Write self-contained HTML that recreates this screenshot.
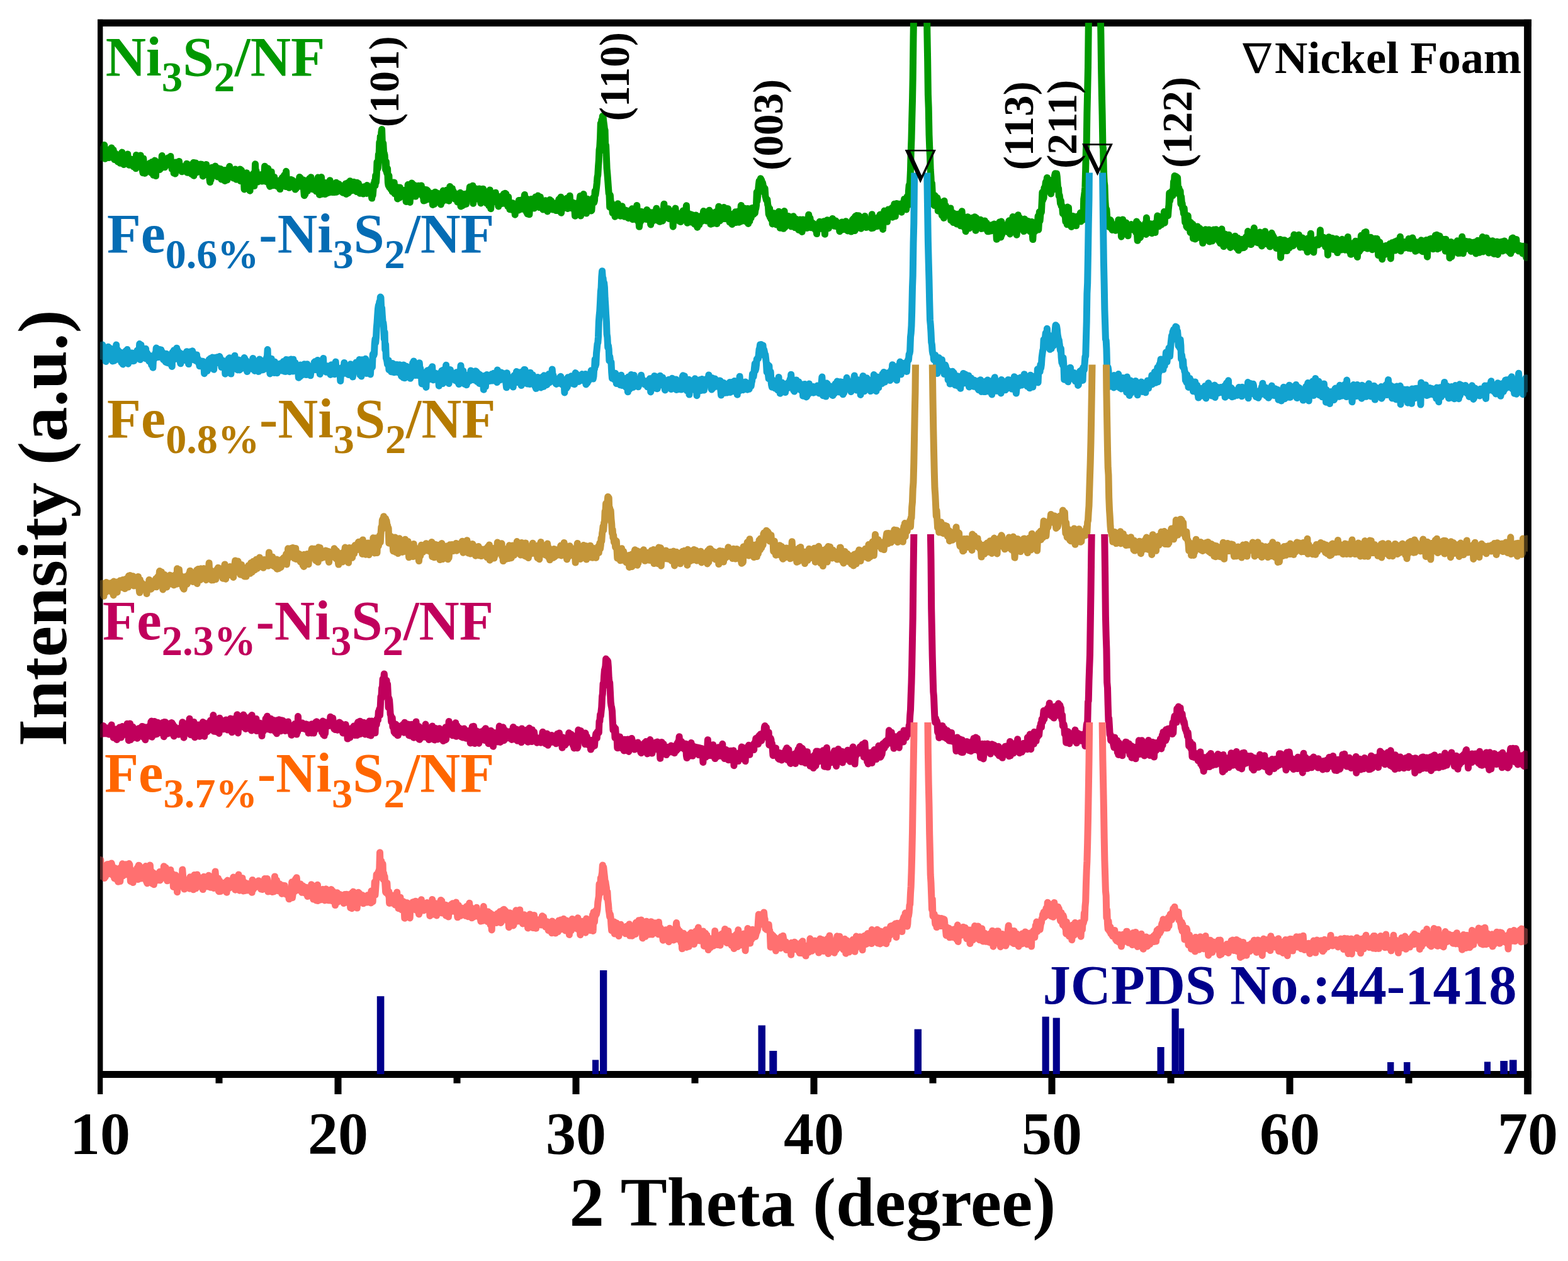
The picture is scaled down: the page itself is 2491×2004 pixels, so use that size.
<!DOCTYPE html><html><head><meta charset="utf-8"><title>XRD</title><style>html,body{margin:0;padding:0;background:#fff;overflow:hidden;}svg{display:block;}text{font-family:'Liberation Serif', serif;font-weight:bold;}</style></head><body>
<svg width="2491" height="2004" viewBox="0 0 2491 2004">
<rect width="2491" height="2004" fill="#fff"/>
<defs>
<clipPath id="c0"><rect x="159.0" y="36.2" width="2268.0" height="1671.3"/></clipPath>
<clipPath id="c1"><rect x="159.0" y="274.5" width="2268.0" height="1433.0"/></clipPath>
<clipPath id="c2"><rect x="159.0" y="579.5" width="2268.0" height="1128.0"/></clipPath>
<clipPath id="c3"><rect x="159.0" y="849.0" width="2268.0" height="858.5"/></clipPath>
<clipPath id="c4"><rect x="159.0" y="1148.0" width="2268.0" height="559.5"/></clipPath>
</defs>
<g fill="#000">
<rect x="155" y="30.8" width="8.3" height="1708.2"/>
<rect x="155" y="30.8" width="2278" height="11.3"/>
<rect x="2421.2" y="30.8" width="11.7" height="1708.4"/>
<rect x="155" y="1702" width="2278" height="11"/>
<rect x="531.5" y="1713" width="11" height="26"/>
<rect x="909.5" y="1713" width="11" height="26"/>
<rect x="1287.5" y="1713" width="11" height="26"/>
<rect x="1665.5" y="1713" width="11" height="26"/>
<rect x="2043.5" y="1713" width="11" height="26"/>
<rect x="342.5" y="1713" width="11" height="8.6"/>
<rect x="720.5" y="1713" width="11" height="8.6"/>
<rect x="1098.5" y="1713" width="11" height="8.6"/>
<rect x="1476.5" y="1713" width="11" height="8.6"/>
<rect x="1854.5" y="1713" width="11" height="8.6"/>
<rect x="2232.5" y="1713" width="11" height="8.6"/>
</g>
<g fill="#00008B">
<rect x="598.8" y="1583.2" width="11.6" height="123.8"/>
<rect x="941.0" y="1684.4" width="10.2" height="22.6"/>
<rect x="953.0" y="1542.0" width="11.3" height="165.0"/>
<rect x="1204.5" y="1629.5" width="11.5" height="77.5"/>
<rect x="1222.3" y="1670.0" width="12.0" height="37.0"/>
<rect x="1452.6" y="1635.6" width="11.4" height="71.4"/>
<rect x="1655.6" y="1615.7" width="11.1" height="91.3"/>
<rect x="1672.7" y="1617.6" width="11.1" height="89.4"/>
<rect x="1838.5" y="1664.0" width="11.1" height="43.0"/>
<rect x="1861.5" y="1602.8" width="11.2" height="104.2"/>
<rect x="1872.7" y="1634.3" width="8.5" height="72.7"/>
<rect x="2204.0" y="1688.0" width="10.4" height="19.0"/>
<rect x="2230.0" y="1688.0" width="10.4" height="19.0"/>
<rect x="2358.0" y="1687.4" width="10.0" height="19.6"/>
<rect x="2383.3" y="1686.0" width="11.7" height="21.0"/>
<rect x="2398.0" y="1684.4" width="11.6" height="22.6"/>
</g>
<polyline clip-path="url(#c0)" fill="none" stroke="#009A00" stroke-width="11" stroke-linejoin="round" stroke-linecap="butt" points="159.0,242.2 159.8,249.9 160.5,248.6 161.3,237.5 162.0,238.7 162.8,237.3 163.5,244.3 164.3,240.7 165.0,246.1 165.8,230.5 166.6,252.2 167.3,242.5 168.1,247.8 168.8,243.3 169.6,242.2 170.3,247.9 171.1,250.5 171.9,244.5 172.6,245.1 173.4,250.5 174.1,241.0 174.9,237.2 175.6,249.2 176.4,242.7 177.1,235.1 177.9,242.1 178.7,244.4 179.4,240.0 180.2,238.3 180.9,248.0 181.7,253.5 182.4,246.7 183.2,243.8 183.9,251.2 184.7,253.6 185.5,247.7 186.2,253.3 187.0,256.9 187.7,249.6 188.5,246.3 189.2,253.9 190.0,253.7 190.8,259.3 191.5,244.7 192.3,248.7 193.0,247.7 193.8,242.1 194.5,253.7 195.3,256.2 196.0,248.3 196.8,261.6 197.6,258.2 198.3,257.3 199.1,256.2 199.8,260.0 200.6,246.3 201.3,258.8 202.1,259.3 202.8,245.1 203.6,258.7 204.4,255.5 205.1,262.3 205.9,255.1 206.6,258.0 207.4,260.4 208.1,253.0 208.9,262.2 209.7,257.8 210.4,261.5 211.2,255.0 211.9,264.8 212.7,261.6 213.4,256.5 214.2,261.2 214.9,264.7 215.7,267.7 216.5,246.4 217.2,261.3 218.0,258.5 218.7,254.8 219.5,249.0 220.2,263.0 221.0,247.6 221.7,259.3 222.5,264.4 223.3,247.1 224.0,256.0 224.8,250.7 225.5,261.4 226.3,270.4 227.0,274.7 227.8,252.1 228.6,260.5 229.3,269.3 230.1,275.4 230.8,268.7 231.6,261.8 232.3,268.5 233.1,266.8 233.8,265.7 234.6,262.5 235.4,269.5 236.1,269.1 236.9,266.6 237.6,265.8 238.4,259.2 239.1,264.1 239.9,274.4 240.6,265.5 241.4,257.5 242.2,274.3 242.9,268.9 243.7,278.3 244.4,265.2 245.2,261.6 245.9,255.1 246.7,272.0 247.5,279.6 248.2,258.4 249.0,259.4 249.7,267.1 250.5,258.2 251.2,261.6 252.0,261.0 252.7,264.2 253.5,269.6 254.3,262.7 255.0,267.9 255.8,259.1 256.5,263.3 257.3,247.5 258.0,251.2 258.8,264.5 259.5,255.3 260.3,262.0 261.1,261.3 261.8,265.7 262.6,262.3 263.3,263.4 264.1,256.3 264.8,252.7 265.6,252.7 266.4,254.4 267.1,250.8 267.9,254.9 268.6,258.2 269.4,260.9 270.1,257.9 270.9,248.6 271.6,260.6 272.4,263.0 273.2,268.7 273.9,265.9 274.7,258.6 275.4,258.3 276.2,275.3 276.9,267.6 277.7,274.3 278.4,276.1 279.2,257.9 280.0,265.5 280.7,266.2 281.5,267.2 282.2,267.5 283.0,265.9 283.7,266.3 284.5,256.5 285.3,265.3 286.0,262.2 286.8,268.0 287.5,264.6 288.3,271.5 289.0,272.8 289.8,269.6 290.5,269.5 291.3,268.1 292.1,264.7 292.8,266.5 293.6,264.5 294.3,270.1 295.1,268.0 295.8,271.8 296.6,260.2 297.3,274.2 298.1,264.1 298.9,264.4 299.6,267.8 300.4,265.5 301.1,270.8 301.9,265.3 302.6,262.1 303.4,263.3 304.2,276.6 304.9,268.6 305.7,261.0 306.4,268.3 307.2,258.6 307.9,279.3 308.7,258.8 309.4,271.2 310.2,271.5 311.0,259.1 311.7,269.8 312.5,274.0 313.2,270.5 314.0,269.0 314.7,273.0 315.5,267.9 316.2,268.9 317.0,265.9 317.8,270.6 318.5,261.0 319.3,272.0 320.0,264.4 320.8,261.3 321.5,270.9 322.3,279.9 323.1,276.2 323.8,267.9 324.6,276.4 325.3,270.2 326.1,273.2 326.8,275.5 327.6,261.4 328.3,277.8 329.1,271.0 329.9,273.7 330.6,269.3 331.4,269.5 332.1,273.3 332.9,284.4 333.6,289.6 334.4,278.9 335.1,285.6 335.9,276.8 336.7,266.2 337.4,278.4 338.2,279.7 338.9,273.6 339.7,277.4 340.4,278.3 341.2,268.6 342.0,264.1 342.7,271.1 343.5,270.5 344.2,269.0 345.0,276.8 345.7,281.0 346.5,267.4 347.2,274.2 348.0,275.8 348.8,274.6 349.5,277.0 350.3,268.6 351.0,276.2 351.8,284.9 352.5,278.2 353.3,270.2 354.0,278.7 354.8,283.7 355.6,278.9 356.3,273.9 357.1,287.5 357.8,270.6 358.6,281.7 359.3,278.6 360.1,271.2 360.9,285.9 361.6,280.1 362.4,270.3 363.1,280.9 363.9,274.1 364.6,264.6 365.4,271.8 366.1,277.5 366.9,279.7 367.7,276.7 368.4,275.9 369.2,278.5 369.9,274.3 370.7,282.9 371.4,276.5 372.2,277.4 372.9,278.9 373.7,269.0 374.5,271.2 375.2,285.2 376.0,277.9 376.7,274.3 377.5,278.5 378.2,273.7 379.0,278.9 379.8,273.5 380.5,279.9 381.3,269.0 382.0,287.6 382.8,276.7 383.5,270.6 384.3,279.6 385.0,279.2 385.8,283.0 386.6,275.5 387.3,285.5 388.1,301.0 388.8,276.2 389.6,286.8 390.3,283.3 391.1,286.9 391.8,274.8 392.6,279.3 393.4,289.5 394.1,286.5 394.9,296.8 395.6,282.2 396.4,287.3 397.1,303.2 397.9,280.5 398.7,279.0 399.4,283.7 400.2,282.8 400.9,287.5 401.7,282.2 402.4,275.9 403.2,281.1 403.9,295.5 404.7,286.4 405.5,260.7 406.2,276.7 407.0,271.8 407.7,280.9 408.5,275.9 409.2,289.0 410.0,282.9 410.7,282.9 411.5,278.9 412.3,277.8 413.0,280.6 413.8,286.9 414.5,282.6 415.3,277.5 416.0,288.0 416.8,281.6 417.6,280.2 418.3,276.0 419.1,277.6 419.8,277.4 420.6,264.2 421.3,288.0 422.1,285.4 422.8,280.8 423.6,288.8 424.4,285.3 425.1,285.2 425.9,267.8 426.6,282.1 427.4,287.3 428.1,294.4 428.9,296.3 429.6,294.3 430.4,278.9 431.2,273.1 431.9,290.9 432.7,288.3 433.4,294.8 434.2,288.7 434.9,291.5 435.7,281.5 436.5,294.1 437.2,289.0 438.0,294.3 438.7,295.2 439.5,291.8 440.2,294.4 441.0,292.2 441.7,296.7 442.5,294.7 443.3,287.7 444.0,286.8 444.8,300.6 445.5,288.5 446.3,294.6 447.0,290.3 447.8,283.8 448.5,282.2 449.3,287.2 450.1,287.9 450.8,290.0 451.6,278.3 452.3,282.6 453.1,285.8 453.8,296.6 454.6,272.3 455.4,289.9 456.1,284.1 456.9,290.4 457.6,285.0 458.4,290.6 459.1,298.3 459.9,291.1 460.6,292.0 461.4,292.0 462.2,285.4 462.9,293.9 463.7,289.6 464.4,286.3 465.2,291.4 465.9,290.5 466.7,296.7 467.4,291.8 468.2,288.8 469.0,301.0 469.7,297.9 470.5,299.4 471.2,295.0 472.0,290.3 472.7,288.2 473.5,288.9 474.3,296.4 475.0,291.2 475.8,281.5 476.5,290.9 477.3,282.9 478.0,293.3 478.8,285.6 479.5,286.1 480.3,295.5 481.1,295.1 481.8,286.0 482.6,301.5 483.3,310.7 484.1,288.3 484.8,308.8 485.6,293.1 486.3,293.9 487.1,295.4 487.9,287.0 488.6,303.4 489.4,297.8 490.1,289.5 490.9,291.9 491.6,283.8 492.4,290.6 493.2,298.3 493.9,281.7 494.7,289.5 495.4,293.1 496.2,298.7 496.9,300.7 497.7,289.6 498.4,288.0 499.2,295.6 500.0,290.7 500.7,291.2 501.5,300.0 502.2,303.9 503.0,295.1 503.7,292.4 504.5,297.2 505.2,282.1 506.0,293.9 506.8,287.7 507.5,309.5 508.3,299.6 509.0,296.6 509.8,295.1 510.5,281.4 511.3,302.0 512.1,308.3 512.8,294.2 513.6,303.5 514.3,304.1 515.1,290.3 515.8,305.9 516.6,308.6 517.3,301.7 518.1,299.9 518.9,305.1 519.6,290.6 520.4,300.7 521.1,306.5 521.9,292.2 522.6,306.0 523.4,297.1 524.1,286.7 524.9,298.9 525.7,293.4 526.4,301.3 527.2,292.0 527.9,305.6 528.7,294.4 529.4,301.0 530.2,294.9 531.0,296.4 531.7,305.6 532.5,299.4 533.2,295.5 534.0,290.2 534.7,305.2 535.5,302.6 536.2,296.2 537.0,299.9 537.8,292.2 538.5,292.5 539.3,293.9 540.0,301.4 540.8,301.2 541.5,294.9 542.3,304.2 543.0,304.5 543.8,300.8 544.6,306.2 545.3,298.0 546.1,299.1 546.8,302.7 547.6,299.6 548.3,304.7 549.1,291.9 549.9,308.5 550.6,294.7 551.4,298.4 552.1,290.7 552.9,302.7 553.6,306.5 554.4,304.9 555.1,303.0 555.9,287.8 556.7,292.1 557.4,293.7 558.2,290.3 558.9,302.7 559.7,296.6 560.4,295.1 561.2,298.1 561.9,289.2 562.7,289.7 563.5,290.2 564.2,299.2 565.0,298.8 565.7,300.9 566.5,304.6 567.2,290.2 568.0,295.7 568.8,300.6 569.5,291.8 570.3,297.1 571.0,306.7 571.8,307.3 572.5,307.0 573.3,300.4 574.0,298.6 574.8,306.4 575.6,297.3 576.3,301.8 577.1,308.1 577.8,297.8 578.6,296.8 579.3,301.0 580.1,305.5 580.8,305.5 581.6,304.2 582.4,307.4 583.1,294.6 583.9,299.8 584.6,306.6 585.4,300.2 586.1,297.9 586.9,298.8 587.7,300.6 588.4,305.0 589.2,299.4 589.9,306.7 590.7,315.1 591.4,302.7 592.2,310.3 592.9,302.6 593.7,291.9 594.5,294.8 595.2,287.3 596.0,294.7 596.7,278.7 597.5,289.3 598.2,279.4 599.0,257.5 599.7,268.6 600.5,266.7 601.3,245.4 602.0,249.7 602.8,226.1 603.5,233.0 604.3,216.5 605.0,226.5 605.8,210.7 606.6,205.6 607.3,226.3 608.1,241.3 608.8,228.0 609.6,242.1 610.3,243.4 611.1,246.5 611.8,258.1 612.6,269.9 613.4,257.2 614.1,272.9 614.9,275.6 615.6,268.2 616.4,290.1 617.1,294.8 617.9,279.0 618.6,297.6 619.4,288.9 620.2,289.0 620.9,300.7 621.7,294.0 622.4,295.8 623.2,304.4 623.9,304.2 624.7,303.0 625.5,290.0 626.2,290.1 627.0,308.0 627.7,296.4 628.5,304.1 629.2,297.4 630.0,303.7 630.7,297.5 631.5,316.0 632.3,299.9 633.0,305.7 633.8,305.5 634.5,314.2 635.3,298.0 636.0,306.6 636.8,305.5 637.5,310.0 638.3,309.6 639.1,303.7 639.8,308.0 640.6,304.2 641.3,309.3 642.1,305.8 642.8,302.3 643.6,306.2 644.4,308.6 645.1,320.4 645.9,303.3 646.6,308.2 647.4,315.4 648.1,293.5 648.9,295.6 649.6,299.0 650.4,305.7 651.2,321.5 651.9,308.8 652.7,313.8 653.4,304.9 654.2,290.9 654.9,291.6 655.7,312.0 656.4,306.5 657.2,296.9 658.0,311.4 658.7,294.5 659.5,310.5 660.2,312.1 661.0,297.9 661.7,295.5 662.5,307.5 663.3,295.4 664.0,307.7 664.8,295.3 665.5,308.2 666.3,304.4 667.0,301.8 667.8,299.6 668.5,307.4 669.3,294.9 670.1,305.5 670.8,305.3 671.6,312.4 672.3,300.6 673.1,319.1 673.8,306.6 674.6,301.3 675.3,316.7 676.1,318.2 676.9,306.4 677.6,301.8 678.4,307.2 679.1,302.6 679.9,304.9 680.6,316.5 681.4,309.4 682.2,308.1 682.9,309.7 683.7,307.6 684.4,313.7 685.2,314.4 685.9,307.2 686.7,310.7 687.4,325.5 688.2,313.6 689.0,310.3 689.7,324.4 690.5,312.0 691.2,305.3 692.0,316.3 692.7,306.6 693.5,309.1 694.2,314.1 695.0,311.3 695.8,307.3 696.5,308.7 697.3,308.4 698.0,319.4 698.8,307.8 699.5,308.8 700.3,325.0 701.1,309.0 701.8,321.6 702.6,320.5 703.3,311.2 704.1,303.1 704.8,314.4 705.6,315.3 706.3,316.7 707.1,310.7 707.9,317.2 708.6,317.9 709.4,302.3 710.1,317.3 710.9,309.1 711.6,304.3 712.4,305.6 713.1,319.2 713.9,313.6 714.7,296.5 715.4,308.2 716.2,307.0 716.9,307.1 717.7,305.3 718.4,299.8 719.2,314.6 720.0,303.8 720.7,307.9 721.5,307.0 722.2,306.8 723.0,316.6 723.7,315.0 724.5,309.0 725.2,308.0 726.0,311.5 726.8,321.0 727.5,316.3 728.3,317.5 729.0,314.5 729.8,315.4 730.5,318.7 731.3,306.3 732.0,328.0 732.8,313.4 733.6,315.0 734.3,326.9 735.1,320.1 735.8,318.9 736.6,314.9 737.3,308.6 738.1,319.0 738.9,324.7 739.6,311.1 740.4,324.3 741.1,308.0 741.9,309.5 742.6,316.2 743.4,312.0 744.1,315.3 744.9,305.5 745.7,303.0 746.4,297.1 747.2,300.7 747.9,301.1 748.7,298.7 749.4,309.4 750.2,303.4 750.9,295.3 751.7,323.3 752.5,302.9 753.2,300.6 754.0,316.2 754.7,316.0 755.5,301.7 756.2,299.8 757.0,302.7 757.8,315.9 758.5,306.8 759.3,303.7 760.0,308.4 760.8,316.0 761.5,300.0 762.3,306.4 763.0,300.5 763.8,322.9 764.6,321.2 765.3,316.5 766.1,310.6 766.8,316.4 767.6,300.2 768.3,315.9 769.1,306.9 769.8,307.9 770.6,312.6 771.4,315.6 772.1,321.9 772.9,323.2 773.6,320.9 774.4,313.7 775.1,323.9 775.9,319.0 776.7,326.9 777.4,313.7 778.2,302.0 778.9,315.8 779.7,331.7 780.4,320.8 781.2,316.1 781.9,322.2 782.7,319.3 783.5,318.4 784.2,311.8 785.0,314.9 785.7,315.2 786.5,309.6 787.2,306.2 788.0,313.7 788.7,318.6 789.5,316.4 790.3,315.3 791.0,315.2 791.8,328.0 792.5,313.5 793.3,318.4 794.0,324.1 794.8,312.4 795.6,313.9 796.3,319.1 797.1,323.5 797.8,315.5 798.6,316.4 799.3,315.5 800.1,308.2 800.8,323.3 801.6,315.6 802.4,307.3 803.1,317.7 803.9,308.6 804.6,313.7 805.4,320.6 806.1,315.3 806.9,328.2 807.6,312.9 808.4,324.2 809.2,326.6 809.9,332.8 810.7,330.0 811.4,326.3 812.2,325.9 812.9,325.6 813.7,333.4 814.5,322.7 815.2,330.3 816.0,326.8 816.7,329.1 817.5,326.2 818.2,341.2 819.0,324.0 819.7,329.8 820.5,330.0 821.3,332.1 822.0,331.1 822.8,330.9 823.5,334.1 824.3,318.4 825.0,327.4 825.8,319.1 826.5,327.6 827.3,318.2 828.1,318.9 828.8,323.8 829.6,332.3 830.3,326.7 831.1,324.6 831.8,331.2 832.6,316.6 833.4,309.5 834.1,320.0 834.9,321.3 835.6,331.0 836.4,337.1 837.1,316.0 837.9,340.1 838.6,334.8 839.4,330.6 840.2,327.9 840.9,340.8 841.7,326.3 842.4,322.7 843.2,326.3 843.9,316.6 844.7,327.6 845.4,323.6 846.2,325.9 847.0,325.7 847.7,316.5 848.5,331.0 849.2,316.5 850.0,328.3 850.7,313.0 851.5,325.4 852.3,318.3 853.0,324.1 853.8,320.2 854.5,311.1 855.3,318.1 856.0,325.8 856.8,329.6 857.5,316.9 858.3,313.1 859.1,321.0 859.8,325.3 860.6,322.8 861.3,321.8 862.1,332.2 862.8,333.1 863.6,331.8 864.3,321.5 865.1,327.9 865.9,326.3 866.6,318.7 867.4,333.0 868.1,328.1 868.9,324.4 869.6,336.0 870.4,331.7 871.2,331.9 871.9,333.7 872.7,330.2 873.4,317.5 874.2,322.6 874.9,330.8 875.7,319.5 876.4,324.3 877.2,326.5 878.0,333.0 878.7,332.2 879.5,330.0 880.2,323.5 881.0,330.7 881.7,328.7 882.5,324.8 883.2,334.6 884.0,329.5 884.8,321.9 885.5,334.5 886.3,325.0 887.0,330.1 887.8,316.8 888.5,325.8 889.3,319.8 890.1,319.4 890.8,313.3 891.6,338.3 892.3,324.0 893.1,326.3 893.8,331.8 894.6,324.3 895.3,328.4 896.1,317.0 896.9,326.8 897.6,323.3 898.4,329.1 899.1,327.4 899.9,317.8 900.6,315.1 901.4,320.5 902.1,331.5 902.9,329.8 903.7,329.9 904.4,315.1 905.2,311.2 905.9,324.2 906.7,326.3 907.4,324.8 908.2,330.9 909.0,327.8 909.7,321.7 910.5,323.6 911.2,330.0 912.0,329.6 912.7,328.7 913.5,343.2 914.2,327.5 915.0,329.9 915.8,323.0 916.5,327.0 917.3,332.5 918.0,332.8 918.8,328.3 919.5,331.7 920.3,329.5 921.0,317.4 921.8,311.5 922.6,342.9 923.3,333.4 924.1,327.5 924.8,316.6 925.6,318.9 926.3,334.7 927.1,308.5 927.9,323.2 928.6,330.2 929.4,325.4 930.1,329.0 930.9,323.4 931.6,339.1 932.4,318.1 933.1,316.2 933.9,326.7 934.7,334.2 935.4,325.2 936.2,332.3 936.9,322.6 937.7,318.5 938.4,334.4 939.2,335.1 939.9,334.3 940.7,321.4 941.5,315.9 942.2,314.6 943.0,318.8 943.7,321.8 944.5,318.7 945.2,303.5 946.0,309.6 946.8,303.7 947.5,298.3 948.3,290.8 949.0,281.8 949.8,277.8 950.5,265.1 951.3,255.0 952.0,238.1 952.8,233.4 953.6,218.9 954.3,195.9 955.1,202.6 955.8,190.5 956.6,193.1 957.3,184.5 958.1,186.2 958.8,192.6 959.6,198.3 960.4,204.8 961.1,207.0 961.9,240.9 962.6,231.3 963.4,250.5 964.1,267.7 964.9,276.4 965.7,287.1 966.4,296.9 967.2,307.5 967.9,308.1 968.7,329.3 969.4,310.4 970.2,322.0 970.9,321.5 971.7,322.8 972.5,329.8 973.2,338.5 974.0,326.1 974.7,326.8 975.5,336.1 976.2,335.3 977.0,344.2 977.7,338.5 978.5,333.6 979.3,330.1 980.0,333.5 980.8,331.1 981.5,323.8 982.3,332.3 983.0,331.3 983.8,331.0 984.6,329.9 985.3,343.2 986.1,337.2 986.8,339.0 987.6,329.9 988.3,327.8 989.1,333.1 989.8,337.1 990.6,334.3 991.4,336.2 992.1,344.2 992.9,341.1 993.6,334.0 994.4,338.2 995.1,337.4 995.9,343.1 996.6,335.1 997.4,341.3 998.2,346.7 998.9,342.4 999.7,336.2 1000.4,337.7 1001.2,341.9 1001.9,343.7 1002.7,345.6 1003.5,339.2 1004.2,331.8 1005.0,348.8 1005.7,341.9 1006.5,342.8 1007.2,342.6 1008.0,334.7 1008.7,339.7 1009.5,343.8 1010.3,349.1 1011.0,343.6 1011.8,326.4 1012.5,342.6 1013.3,346.6 1014.0,352.7 1014.8,349.2 1015.5,360.3 1016.3,353.7 1017.1,353.2 1017.8,350.7 1018.6,336.2 1019.3,350.0 1020.1,348.4 1020.8,341.4 1021.6,348.3 1022.4,347.3 1023.1,341.9 1023.9,344.0 1024.6,343.2 1025.4,346.3 1026.1,342.4 1026.9,348.6 1027.6,333.5 1028.4,343.8 1029.2,335.4 1029.9,343.1 1030.7,349.5 1031.4,346.7 1032.2,346.1 1032.9,347.4 1033.7,356.9 1034.4,340.3 1035.2,352.7 1036.0,337.7 1036.7,344.0 1037.5,347.7 1038.2,341.0 1039.0,347.2 1039.7,350.0 1040.5,337.6 1041.3,343.9 1042.0,341.5 1042.8,331.2 1043.5,341.5 1044.3,337.2 1045.0,349.9 1045.8,335.8 1046.5,351.4 1047.3,337.2 1048.1,352.3 1048.8,343.5 1049.6,342.9 1050.3,345.0 1051.1,345.7 1051.8,348.8 1052.6,351.0 1053.3,338.3 1054.1,332.9 1054.9,324.3 1055.6,338.7 1056.4,346.1 1057.1,344.0 1057.9,342.6 1058.6,339.9 1059.4,338.3 1060.2,340.7 1060.9,345.0 1061.7,331.8 1062.4,347.4 1063.2,334.1 1063.9,342.3 1064.7,339.5 1065.4,341.4 1066.2,337.5 1067.0,337.1 1067.7,343.0 1068.5,338.0 1069.2,360.2 1070.0,342.6 1070.7,341.4 1071.5,342.3 1072.2,339.4 1073.0,331.1 1073.8,345.1 1074.5,348.9 1075.3,338.1 1076.0,347.8 1076.8,340.5 1077.5,348.0 1078.3,350.6 1079.1,351.3 1079.8,350.8 1080.6,343.3 1081.3,352.5 1082.1,343.6 1082.8,347.7 1083.6,349.0 1084.3,341.8 1085.1,334.9 1085.9,345.9 1086.6,334.6 1087.4,335.5 1088.1,333.8 1088.9,345.7 1089.6,339.5 1090.4,326.8 1091.1,345.6 1091.9,354.3 1092.7,353.3 1093.4,339.3 1094.2,344.2 1094.9,347.7 1095.7,351.1 1096.4,346.7 1097.2,340.6 1098.0,353.0 1098.7,352.9 1099.5,341.6 1100.2,348.1 1101.0,352.5 1101.7,351.1 1102.5,354.5 1103.2,356.1 1104.0,354.3 1104.8,350.0 1105.5,341.9 1106.3,353.7 1107.0,358.1 1107.8,361.2 1108.5,348.4 1109.3,348.1 1110.0,357.1 1110.8,357.0 1111.6,350.2 1112.3,352.6 1113.1,343.6 1113.8,352.2 1114.6,343.6 1115.3,347.9 1116.1,348.1 1116.9,345.9 1117.6,335.6 1118.4,343.3 1119.1,350.2 1119.9,347.4 1120.6,344.9 1121.4,349.5 1122.1,350.6 1122.9,351.1 1123.7,340.3 1124.4,344.9 1125.2,342.2 1125.9,338.4 1126.7,334.2 1127.4,342.6 1128.2,337.6 1128.9,356.3 1129.7,342.3 1130.5,341.7 1131.2,340.9 1132.0,355.3 1132.7,338.2 1133.5,343.4 1134.2,339.9 1135.0,344.3 1135.8,345.1 1136.5,352.3 1137.3,336.8 1138.0,345.4 1138.8,355.5 1139.5,342.1 1140.3,344.0 1141.0,339.3 1141.8,328.2 1142.6,343.5 1143.3,351.1 1144.1,340.5 1144.8,331.6 1145.6,344.3 1146.3,342.7 1147.1,348.0 1147.8,347.1 1148.6,339.4 1149.4,343.3 1150.1,329.4 1150.9,347.4 1151.6,341.7 1152.4,347.5 1153.1,347.8 1153.9,340.0 1154.7,341.6 1155.4,338.0 1156.2,331.6 1156.9,344.7 1157.7,347.6 1158.4,341.0 1159.2,353.2 1159.9,350.3 1160.7,353.3 1161.5,346.3 1162.2,340.6 1163.0,356.5 1163.7,355.6 1164.5,350.9 1165.2,348.7 1166.0,349.2 1166.7,349.5 1167.5,346.7 1168.3,336.7 1169.0,353.5 1169.8,338.7 1170.5,345.4 1171.3,345.1 1172.0,348.1 1172.8,336.1 1173.6,353.2 1174.3,349.4 1175.1,349.7 1175.8,352.4 1176.6,339.2 1177.3,326.5 1178.1,345.5 1178.8,351.2 1179.6,350.0 1180.4,339.3 1181.1,341.9 1181.9,344.1 1182.6,331.1 1183.4,338.1 1184.1,338.3 1184.9,352.0 1185.6,338.1 1186.4,351.8 1187.2,342.1 1187.9,331.4 1188.7,355.4 1189.4,335.4 1190.2,344.9 1190.9,351.4 1191.7,337.1 1192.5,332.4 1193.2,346.0 1194.0,339.3 1194.7,330.6 1195.5,330.5 1196.2,333.7 1197.0,340.6 1197.7,331.0 1198.5,334.7 1199.3,338.5 1200.0,333.3 1200.8,331.2 1201.5,326.5 1202.3,305.3 1203.0,319.1 1203.8,309.8 1204.5,303.3 1205.3,293.9 1206.1,287.6 1206.8,287.8 1207.6,292.4 1208.3,283.8 1209.1,285.2 1209.8,286.4 1210.6,295.0 1211.4,290.4 1212.1,293.3 1212.9,304.9 1213.6,297.6 1214.4,306.5 1215.1,299.7 1215.9,311.8 1216.6,314.1 1217.4,318.0 1218.2,317.6 1218.9,317.6 1219.7,325.4 1220.4,327.6 1221.2,340.0 1221.9,342.1 1222.7,331.7 1223.4,345.5 1224.2,340.9 1225.0,348.6 1225.7,344.4 1226.5,339.5 1227.2,355.9 1228.0,353.0 1228.7,342.9 1229.5,338.8 1230.3,347.0 1231.0,342.5 1231.8,347.0 1232.5,352.5 1233.3,357.1 1234.0,345.2 1234.8,355.5 1235.5,353.9 1236.3,343.8 1237.1,336.2 1237.8,352.1 1238.6,350.9 1239.3,362.3 1240.1,357.3 1240.8,354.0 1241.6,360.4 1242.3,344.2 1243.1,352.6 1243.9,350.3 1244.6,363.3 1245.4,356.3 1246.1,335.6 1246.9,361.4 1247.6,347.1 1248.4,357.1 1249.2,348.8 1249.9,352.7 1250.7,354.5 1251.4,351.1 1252.2,343.4 1252.9,357.4 1253.7,350.8 1254.4,348.0 1255.2,352.3 1256.0,344.7 1256.7,359.9 1257.5,350.0 1258.2,351.4 1259.0,351.8 1259.7,344.7 1260.5,343.8 1261.2,353.1 1262.0,354.7 1262.8,361.6 1263.5,356.8 1264.3,348.0 1265.0,358.7 1265.8,361.2 1266.5,362.9 1267.3,359.3 1268.1,350.2 1268.8,365.4 1269.6,353.9 1270.3,362.2 1271.1,349.0 1271.8,363.4 1272.6,353.5 1273.3,364.7 1274.1,368.4 1274.9,364.1 1275.6,348.9 1276.4,349.5 1277.1,349.2 1277.9,357.9 1278.6,355.3 1279.4,353.6 1280.1,354.2 1280.9,355.6 1281.7,355.9 1282.4,362.4 1283.2,351.7 1283.9,353.6 1284.7,341.2 1285.4,344.9 1286.2,349.3 1287.0,346.8 1287.7,356.1 1288.5,361.8 1289.2,353.3 1290.0,353.7 1290.7,354.2 1291.5,358.9 1292.2,355.4 1293.0,362.0 1293.8,361.8 1294.5,362.5 1295.3,365.4 1296.0,361.0 1296.8,361.7 1297.5,371.5 1298.3,360.0 1299.0,364.7 1299.8,359.6 1300.6,355.8 1301.3,355.2 1302.1,352.3 1302.8,357.0 1303.6,352.7 1304.3,353.4 1305.1,363.3 1305.9,354.8 1306.6,362.6 1307.4,357.1 1308.1,360.8 1308.9,351.8 1309.6,356.6 1310.4,372.2 1311.1,361.2 1311.9,362.5 1312.7,357.9 1313.4,362.0 1314.2,349.7 1314.9,351.9 1315.7,360.0 1316.4,362.7 1317.2,355.2 1317.9,356.8 1318.7,355.8 1319.5,357.0 1320.2,350.8 1321.0,349.4 1321.7,357.8 1322.5,347.5 1323.2,352.1 1324.0,354.0 1324.8,351.4 1325.5,359.2 1326.3,354.8 1327.0,356.8 1327.8,350.9 1328.5,352.4 1329.3,360.1 1330.0,359.1 1330.8,354.0 1331.6,359.3 1332.3,358.4 1333.1,358.5 1333.8,367.7 1334.6,355.7 1335.3,361.3 1336.1,361.7 1336.8,358.2 1337.6,352.9 1338.4,364.9 1339.1,362.7 1339.9,361.9 1340.6,362.1 1341.4,362.5 1342.1,357.1 1342.9,364.6 1343.7,351.8 1344.4,362.8 1345.2,353.6 1345.9,360.6 1346.7,366.9 1347.4,360.5 1348.2,358.7 1348.9,364.3 1349.7,358.9 1350.5,357.4 1351.2,356.8 1352.0,368.0 1352.7,362.0 1353.5,360.3 1354.2,349.3 1355.0,360.0 1355.7,347.6 1356.5,358.1 1357.3,347.9 1358.0,366.6 1358.8,343.7 1359.5,361.5 1360.3,358.7 1361.0,342.6 1361.8,351.9 1362.6,362.2 1363.3,360.2 1364.1,342.7 1364.8,349.6 1365.6,345.3 1366.3,346.0 1367.1,348.1 1367.8,363.2 1368.6,352.4 1369.4,349.8 1370.1,348.9 1370.9,354.8 1371.6,354.8 1372.4,344.7 1373.1,359.4 1373.9,343.6 1374.6,348.7 1375.4,353.4 1376.2,361.4 1376.9,348.9 1377.7,353.0 1378.4,359.6 1379.2,355.6 1379.9,358.9 1380.7,358.5 1381.5,353.9 1382.2,356.3 1383.0,358.2 1383.7,352.5 1384.5,362.8 1385.2,340.7 1386.0,347.5 1386.7,362.3 1387.5,356.1 1388.3,349.6 1389.0,356.0 1389.8,360.3 1390.5,350.1 1391.3,358.2 1392.0,352.5 1392.8,352.3 1393.5,352.3 1394.3,359.4 1395.1,345.3 1395.8,349.6 1396.6,355.7 1397.3,343.6 1398.1,341.0 1398.8,353.8 1399.6,349.8 1400.4,348.2 1401.1,349.2 1401.9,341.5 1402.6,364.4 1403.4,339.6 1404.1,342.1 1404.9,335.1 1405.6,340.5 1406.4,351.9 1407.2,342.0 1407.9,345.1 1408.7,338.1 1409.4,352.2 1410.2,341.9 1410.9,333.1 1411.7,345.6 1412.4,338.5 1413.2,344.5 1414.0,341.5 1414.7,342.1 1415.5,341.1 1416.2,334.3 1417.0,330.3 1417.7,345.2 1418.5,337.8 1419.3,339.8 1420.0,334.6 1420.8,324.2 1421.5,328.1 1422.3,343.8 1423.0,329.4 1423.8,331.0 1424.5,323.4 1425.3,328.3 1426.1,328.3 1426.8,328.4 1427.6,328.5 1428.3,324.4 1429.1,324.2 1429.8,327.2 1430.6,328.9 1431.3,325.7 1432.1,337.2 1432.9,327.6 1433.6,327.3 1434.4,322.2 1435.1,332.7 1435.9,320.1 1436.6,316.4 1437.4,320.3 1438.2,329.9 1438.9,318.5 1439.7,332.9 1440.4,323.4 1441.2,312.2 1441.9,317.4 1442.7,325.9 1443.4,304.1 1444.2,294.1 1445.0,295.8 1445.7,288.2 1446.5,270.4 1447.2,242.1 1448.0,220.4 1448.7,191.0 1449.5,160.0 1450.2,123.3 1451.0,59.8 1451.8,12.2 1452.5,-23.8 1453.3,-23.8 1454.0,-23.8 1454.8,-23.8 1455.5,-23.8 1456.3,-23.8 1457.1,-23.8 1457.8,-23.8 1458.6,-23.8 1459.3,-23.8 1460.1,-23.8 1460.8,-23.8 1461.6,-23.8 1462.3,-23.8 1463.1,-23.8 1463.9,-23.8 1464.6,-23.8 1465.4,-23.8 1466.1,-23.8 1466.9,-23.8 1467.6,-23.8 1468.4,-23.8 1469.1,-23.8 1469.9,-23.8 1470.7,-23.8 1471.4,-23.8 1472.2,-2.5 1472.9,52.9 1473.7,98.2 1474.4,150.8 1475.2,171.5 1476.0,213.9 1476.7,233.3 1477.5,248.4 1478.2,269.9 1479.0,281.4 1479.7,298.6 1480.5,291.8 1481.2,305.8 1482.0,308.7 1482.8,324.8 1483.5,310.9 1484.3,326.6 1485.0,310.8 1485.8,325.3 1486.5,323.4 1487.3,327.5 1488.0,321.4 1488.8,314.2 1489.6,317.1 1490.3,335.2 1491.1,328.6 1491.8,322.1 1492.6,333.3 1493.3,323.4 1494.1,323.8 1494.9,321.4 1495.6,336.8 1496.4,342.3 1497.1,324.9 1497.9,333.5 1498.6,338.5 1499.4,346.4 1500.1,319.2 1500.9,335.7 1501.7,339.5 1502.4,326.9 1503.2,339.1 1503.9,338.3 1504.7,341.9 1505.4,334.1 1506.2,340.6 1506.9,334.6 1507.7,342.3 1508.5,339.9 1509.2,336.9 1510.0,330.9 1510.7,350.3 1511.5,347.5 1512.2,346.7 1513.0,337.7 1513.8,340.4 1514.5,353.6 1515.3,348.7 1516.0,339.5 1516.8,345.8 1517.5,347.1 1518.3,345.7 1519.0,341.7 1519.8,356.0 1520.6,352.5 1521.3,348.2 1522.1,340.2 1522.8,346.8 1523.6,350.8 1524.3,356.6 1525.1,349.3 1525.8,358.8 1526.6,353.1 1527.4,347.8 1528.1,335.8 1528.9,345.5 1529.6,343.7 1530.4,352.0 1531.1,355.1 1531.9,361.7 1532.7,353.1 1533.4,346.0 1534.2,367.7 1534.9,355.1 1535.7,351.5 1536.4,351.5 1537.2,344.8 1537.9,357.1 1538.7,355.4 1539.5,362.9 1540.2,359.9 1541.0,358.4 1541.7,360.9 1542.5,351.4 1543.2,350.6 1544.0,353.3 1544.7,346.3 1545.5,353.5 1546.3,352.9 1547.0,359.6 1547.8,355.9 1548.5,344.7 1549.3,357.3 1550.0,366.3 1550.8,346.5 1551.6,353.4 1552.3,358.4 1553.1,350.1 1553.8,354.8 1554.6,358.4 1555.3,349.7 1556.1,359.4 1556.8,359.9 1557.6,349.3 1558.4,357.1 1559.1,363.4 1559.9,355.5 1560.6,359.2 1561.4,360.5 1562.1,355.1 1562.9,362.8 1563.6,359.3 1564.4,351.0 1565.2,360.7 1565.9,363.2 1566.7,363.2 1567.4,354.6 1568.2,361.7 1568.9,367.7 1569.7,360.8 1570.5,366.9 1571.2,367.7 1572.0,359.5 1572.7,364.0 1573.5,358.3 1574.2,366.9 1575.0,360.0 1575.7,357.6 1576.5,361.3 1577.3,361.5 1578.0,364.8 1578.8,365.7 1579.5,356.0 1580.3,359.5 1581.0,366.0 1581.8,366.9 1582.5,364.5 1583.3,380.3 1584.1,370.9 1584.8,363.4 1585.6,368.4 1586.3,372.1 1587.1,366.1 1587.8,353.0 1588.6,364.4 1589.4,364.1 1590.1,376.9 1590.9,352.1 1591.6,372.9 1592.4,362.0 1593.1,368.3 1593.9,360.2 1594.6,362.6 1595.4,368.1 1596.2,361.2 1596.9,366.8 1597.7,359.5 1598.4,357.4 1599.2,358.5 1599.9,356.9 1600.7,359.4 1601.4,368.9 1602.2,353.5 1603.0,350.7 1603.7,361.1 1604.5,371.9 1605.2,368.0 1606.0,369.8 1606.7,369.3 1607.5,357.0 1608.3,362.1 1609.0,344.6 1609.8,357.0 1610.5,364.1 1611.3,350.3 1612.0,346.6 1612.8,350.8 1613.5,359.6 1614.3,364.9 1615.1,373.2 1615.8,365.6 1616.6,347.0 1617.3,341.8 1618.1,357.0 1618.8,362.6 1619.6,346.0 1620.3,352.9 1621.1,353.4 1621.9,356.5 1622.6,355.2 1623.4,359.4 1624.1,362.7 1624.9,356.3 1625.6,360.3 1626.4,367.6 1627.2,348.6 1627.9,348.1 1628.7,357.4 1629.4,365.6 1630.2,355.0 1630.9,360.8 1631.7,352.4 1632.4,360.4 1633.2,351.5 1634.0,360.3 1634.7,359.5 1635.5,360.6 1636.2,367.7 1637.0,366.9 1637.7,357.6 1638.5,367.7 1639.2,352.4 1640.0,369.6 1640.8,380.6 1641.5,367.2 1642.3,367.0 1643.0,363.9 1643.8,368.1 1644.5,359.4 1645.3,365.5 1646.1,358.5 1646.8,356.3 1647.6,358.3 1648.3,355.6 1649.1,343.4 1649.8,365.0 1650.6,350.7 1651.3,336.7 1652.1,350.9 1652.9,340.7 1653.6,338.4 1654.4,337.3 1655.1,322.9 1655.9,305.5 1656.6,318.0 1657.4,315.0 1658.1,314.6 1658.9,298.8 1659.7,297.3 1660.4,297.5 1661.2,290.0 1661.9,288.2 1662.7,290.2 1663.4,282.4 1664.2,299.1 1665.0,284.9 1665.7,292.7 1666.5,292.3 1667.2,291.8 1668.0,300.9 1668.7,304.8 1669.5,308.0 1670.2,302.4 1671.0,295.2 1671.8,301.9 1672.5,285.8 1673.3,293.0 1674.0,293.6 1674.8,291.7 1675.5,279.2 1676.3,275.8 1677.0,294.8 1677.8,281.7 1678.6,276.0 1679.3,280.8 1680.1,291.7 1680.8,302.7 1681.6,299.6 1682.3,311.5 1683.1,310.0 1683.9,316.1 1684.6,323.6 1685.4,319.4 1686.1,327.4 1686.9,326.8 1687.6,328.5 1688.4,339.4 1689.1,332.8 1689.9,340.6 1690.7,337.0 1691.4,342.8 1692.2,341.2 1692.9,352.1 1693.7,346.4 1694.4,346.8 1695.2,356.8 1695.9,329.0 1696.7,340.2 1697.5,330.3 1698.2,347.6 1699.0,350.7 1699.7,352.3 1700.5,350.4 1701.2,343.8 1702.0,360.4 1702.8,351.8 1703.5,348.6 1704.3,343.5 1705.0,353.2 1705.8,347.7 1706.5,348.1 1707.3,352.2 1708.0,352.3 1708.8,345.9 1709.6,358.8 1710.3,344.8 1711.1,344.1 1711.8,352.8 1712.6,351.6 1713.3,351.1 1714.1,347.8 1714.8,350.2 1715.6,345.9 1716.4,338.3 1717.1,352.0 1717.9,339.7 1718.6,342.5 1719.4,345.7 1720.1,337.5 1720.9,349.2 1721.7,316.6 1722.4,311.5 1723.2,304.9 1723.9,297.7 1724.7,268.8 1725.4,238.2 1726.2,226.0 1726.9,179.7 1727.7,145.0 1728.5,106.7 1729.2,46.3 1730.0,-8.4 1730.7,-23.8 1731.5,-23.8 1732.2,-23.8 1733.0,-23.8 1733.7,-23.8 1734.5,-23.8 1735.3,-23.8 1736.0,-23.8 1736.8,-23.8 1737.5,-23.8 1738.3,-23.8 1739.0,-23.8 1739.8,-23.8 1740.6,-23.8 1741.3,-23.8 1742.1,-23.8 1742.8,-23.8 1743.6,-23.8 1744.3,-23.8 1745.1,-23.8 1745.8,-23.8 1746.6,-23.8 1747.4,-23.8 1748.1,8.8 1748.9,54.9 1749.6,108.2 1750.4,151.5 1751.1,182.0 1751.9,231.1 1752.6,236.7 1753.4,273.0 1754.2,289.4 1754.9,294.7 1755.7,318.4 1756.4,328.6 1757.2,332.8 1757.9,332.7 1758.7,344.7 1759.5,352.0 1760.2,348.8 1761.0,360.0 1761.7,356.1 1762.5,356.6 1763.2,361.4 1764.0,349.5 1764.7,351.0 1765.5,358.1 1766.3,358.7 1767.0,365.5 1767.8,363.8 1768.5,358.4 1769.3,359.3 1770.0,356.9 1770.8,357.0 1771.5,357.1 1772.3,366.2 1773.1,358.2 1773.8,359.5 1774.6,363.2 1775.3,359.4 1776.1,361.4 1776.8,349.4 1777.6,365.2 1778.4,360.9 1779.1,363.7 1779.9,364.5 1780.6,350.3 1781.4,376.2 1782.1,361.9 1782.9,361.6 1783.6,349.0 1784.4,363.6 1785.2,362.1 1785.9,357.1 1786.7,360.8 1787.4,367.3 1788.2,357.4 1788.9,354.0 1789.7,368.1 1790.4,361.7 1791.2,359.2 1792.0,374.8 1792.7,361.7 1793.5,359.8 1794.2,362.6 1795.0,358.5 1795.7,362.2 1796.5,361.7 1797.3,356.6 1798.0,358.9 1798.8,362.4 1799.5,362.8 1800.3,364.1 1801.0,365.5 1801.8,362.5 1802.5,364.6 1803.3,359.7 1804.1,361.1 1804.8,369.9 1805.6,352.0 1806.3,367.3 1807.1,382.3 1807.8,354.9 1808.6,376.2 1809.3,356.5 1810.1,369.9 1810.9,378.0 1811.6,377.2 1812.4,362.4 1813.1,359.9 1813.9,358.9 1814.6,372.0 1815.4,364.7 1816.2,366.8 1816.9,367.8 1817.7,368.2 1818.4,368.4 1819.2,365.3 1819.9,354.0 1820.7,372.5 1821.4,346.1 1822.2,370.5 1823.0,358.9 1823.7,361.3 1824.5,359.3 1825.2,360.3 1826.0,362.4 1826.7,360.9 1827.5,355.8 1828.2,367.9 1829.0,358.9 1829.8,370.7 1830.5,361.3 1831.3,357.6 1832.0,364.4 1832.8,367.0 1833.5,355.4 1834.3,359.1 1835.1,369.4 1835.8,354.0 1836.6,354.6 1837.3,360.4 1838.1,351.4 1838.8,343.0 1839.6,347.3 1840.3,359.1 1841.1,359.8 1841.9,358.4 1842.6,356.0 1843.4,344.7 1844.1,355.4 1844.9,357.3 1845.6,344.8 1846.4,354.1 1847.1,345.2 1847.9,348.0 1848.7,348.5 1849.4,336.5 1850.2,354.2 1850.9,339.0 1851.7,342.7 1852.4,339.1 1853.2,343.4 1854.0,341.4 1854.7,336.6 1855.5,342.7 1856.2,332.8 1857.0,325.4 1857.7,306.9 1858.5,319.2 1859.2,315.5 1860.0,308.2 1860.8,304.6 1861.5,309.9 1862.3,309.1 1863.0,310.9 1863.8,303.0 1864.5,288.6 1865.3,291.9 1866.0,279.5 1866.8,290.7 1867.6,287.1 1868.3,280.4 1869.1,283.5 1869.8,283.2 1870.6,282.2 1871.3,296.3 1872.1,307.8 1872.9,299.0 1873.6,304.2 1874.4,302.6 1875.1,303.8 1875.9,324.1 1876.6,312.8 1877.4,322.0 1878.1,323.2 1878.9,331.8 1879.7,331.8 1880.4,339.4 1881.2,331.2 1881.9,341.5 1882.7,353.4 1883.4,341.0 1884.2,345.5 1884.9,360.1 1885.7,356.0 1886.5,361.8 1887.2,342.8 1888.0,358.9 1888.7,351.4 1889.5,351.8 1890.2,363.9 1891.0,369.6 1891.8,353.7 1892.5,356.7 1893.3,360.5 1894.0,363.7 1894.8,356.5 1895.5,379.0 1896.3,368.8 1897.0,363.0 1897.8,362.1 1898.6,379.9 1899.3,379.6 1900.1,362.9 1900.8,368.5 1901.6,374.7 1902.3,360.1 1903.1,364.5 1903.8,377.3 1904.6,365.4 1905.4,367.9 1906.1,363.0 1906.9,367.5 1907.6,377.3 1908.4,368.6 1909.1,366.2 1909.9,370.9 1910.7,386.3 1911.4,376.7 1912.2,372.3 1912.9,376.9 1913.7,378.8 1914.4,376.8 1915.2,364.7 1915.9,377.7 1916.7,374.5 1917.5,381.0 1918.2,367.2 1919.0,382.1 1919.7,372.5 1920.5,365.0 1921.2,384.0 1922.0,372.6 1922.7,378.3 1923.5,375.1 1924.3,383.0 1925.0,383.1 1925.8,383.1 1926.5,380.5 1927.3,365.8 1928.0,365.1 1928.8,376.4 1929.6,368.8 1930.3,377.3 1931.1,375.0 1931.8,364.8 1932.6,367.0 1933.3,366.4 1934.1,368.0 1934.8,372.5 1935.6,378.5 1936.4,383.2 1937.1,369.5 1937.9,372.8 1938.6,386.7 1939.4,383.3 1940.1,379.8 1940.9,364.1 1941.6,372.8 1942.4,380.3 1943.2,375.6 1943.9,391.7 1944.7,379.7 1945.4,380.8 1946.2,372.0 1946.9,372.3 1947.7,374.7 1948.5,375.1 1949.2,377.9 1950.0,382.2 1950.7,381.9 1951.5,387.3 1952.2,373.2 1953.0,383.7 1953.7,384.4 1954.5,393.4 1955.3,382.4 1956.0,386.1 1956.8,379.0 1957.5,386.7 1958.3,386.3 1959.0,379.6 1959.8,380.5 1960.5,382.7 1961.3,386.3 1962.1,375.2 1962.8,387.7 1963.6,379.9 1964.3,393.8 1965.1,391.1 1965.8,379.5 1966.6,378.2 1967.4,397.8 1968.1,386.6 1968.9,386.6 1969.6,380.8 1970.4,383.2 1971.1,389.6 1971.9,388.9 1972.6,380.4 1973.4,393.9 1974.2,388.6 1974.9,381.1 1975.7,393.6 1976.4,386.5 1977.2,392.5 1977.9,384.0 1978.7,389.4 1979.4,376.5 1980.2,388.4 1981.0,375.8 1981.7,385.4 1982.5,367.6 1983.2,382.1 1984.0,386.1 1984.7,383.8 1985.5,387.5 1986.3,372.6 1987.0,388.6 1987.8,388.4 1988.5,370.6 1989.3,372.9 1990.0,374.2 1990.8,377.6 1991.5,378.9 1992.3,362.3 1993.1,381.5 1993.8,376.2 1994.6,371.5 1995.3,383.9 1996.1,375.9 1996.8,385.3 1997.6,381.7 1998.3,376.5 1999.1,386.0 1999.9,383.8 2000.6,375.8 2001.4,369.0 2002.1,375.9 2002.9,383.4 2003.6,378.2 2004.4,391.0 2005.2,381.9 2005.9,381.8 2006.7,383.5 2007.4,375.8 2008.2,381.0 2008.9,378.0 2009.7,367.7 2010.4,371.6 2011.2,387.5 2012.0,380.3 2012.7,382.3 2013.5,373.9 2014.2,379.4 2015.0,387.9 2015.7,383.5 2016.5,379.5 2017.2,392.0 2018.0,381.8 2018.8,379.7 2019.5,388.7 2020.3,370.3 2021.0,384.3 2021.8,373.7 2022.5,375.7 2023.3,376.3 2024.1,381.6 2024.8,381.9 2025.6,383.6 2026.3,383.7 2027.1,391.9 2027.8,394.6 2028.6,389.5 2029.3,390.8 2030.1,384.7 2030.9,381.2 2031.6,392.8 2032.4,390.3 2033.1,396.3 2033.9,380.4 2034.6,409.3 2035.4,385.2 2036.1,394.0 2036.9,400.3 2037.7,385.8 2038.4,391.1 2039.2,381.8 2039.9,385.3 2040.7,381.7 2041.4,393.9 2042.2,394.3 2043.0,389.7 2043.7,398.6 2044.5,398.5 2045.2,388.8 2046.0,386.5 2046.7,385.3 2047.5,383.4 2048.2,393.8 2049.0,386.5 2049.8,382.4 2050.5,382.7 2051.3,387.1 2052.0,380.8 2052.8,385.0 2053.5,382.5 2054.3,390.8 2055.0,389.4 2055.8,373.0 2056.6,380.7 2057.3,386.1 2058.1,378.8 2058.8,386.7 2059.6,383.8 2060.3,385.5 2061.1,381.6 2061.9,384.1 2062.6,385.6 2063.4,373.3 2064.1,376.8 2064.9,376.2 2065.6,393.1 2066.4,384.4 2067.1,384.8 2067.9,383.6 2068.7,379.3 2069.4,378.0 2070.2,388.1 2070.9,380.7 2071.7,393.3 2072.4,385.0 2073.2,384.8 2073.9,383.2 2074.7,384.5 2075.5,385.6 2076.2,395.2 2077.0,400.5 2077.7,378.9 2078.5,387.8 2079.2,390.7 2080.0,380.7 2080.8,382.3 2081.5,383.4 2082.3,371.2 2083.0,390.3 2083.8,386.0 2084.5,385.7 2085.3,386.9 2086.0,388.0 2086.8,401.0 2087.6,387.8 2088.3,392.0 2089.1,383.6 2089.8,389.0 2090.6,384.7 2091.3,385.5 2092.1,380.5 2092.8,380.6 2093.6,387.9 2094.4,389.1 2095.1,386.6 2095.9,378.8 2096.6,384.2 2097.4,365.7 2098.1,386.7 2098.9,380.0 2099.7,381.5 2100.4,386.8 2101.2,376.8 2101.9,385.6 2102.7,377.2 2103.4,383.9 2104.2,378.7 2104.9,384.1 2105.7,392.2 2106.5,380.2 2107.2,381.5 2108.0,384.3 2108.7,389.2 2109.5,405.2 2110.2,385.2 2111.0,376.7 2111.7,385.7 2112.5,380.2 2113.3,386.7 2114.0,390.3 2114.8,384.2 2115.5,385.9 2116.3,378.4 2117.0,391.0 2117.8,385.2 2118.6,396.5 2119.3,396.2 2120.1,384.3 2120.8,387.4 2121.6,390.0 2122.3,394.4 2123.1,379.4 2123.8,389.4 2124.6,401.6 2125.4,389.7 2126.1,391.8 2126.9,390.7 2127.6,383.5 2128.4,397.1 2129.1,393.1 2129.9,392.7 2130.6,396.4 2131.4,396.9 2132.2,380.3 2132.9,395.0 2133.7,388.3 2134.4,392.8 2135.2,387.2 2135.9,386.1 2136.7,397.2 2137.5,391.1 2138.2,389.2 2139.0,389.1 2139.7,391.4 2140.5,390.9 2141.2,376.5 2142.0,385.9 2142.7,390.1 2143.5,396.4 2144.3,400.5 2145.0,386.3 2145.8,404.3 2146.5,392.9 2147.3,395.3 2148.0,388.9 2148.8,388.3 2149.5,401.0 2150.3,390.7 2151.1,391.4 2151.8,399.4 2152.6,403.0 2153.3,383.2 2154.1,391.5 2154.8,392.8 2155.6,404.3 2156.4,408.5 2157.1,392.9 2157.9,395.4 2158.6,398.3 2159.4,399.9 2160.1,390.4 2160.9,397.3 2161.6,387.1 2162.4,374.3 2163.2,381.9 2163.9,391.2 2164.7,394.2 2165.4,374.8 2166.2,377.1 2166.9,387.7 2167.7,369.5 2168.4,390.6 2169.2,393.2 2170.0,368.5 2170.7,391.2 2171.5,385.1 2172.2,395.1 2173.0,388.1 2173.7,384.9 2174.5,387.2 2175.3,392.3 2176.0,387.7 2176.8,386.7 2177.5,377.3 2178.3,389.0 2179.0,385.8 2179.8,396.7 2180.5,384.7 2181.3,383.8 2182.1,380.1 2182.8,388.2 2183.6,382.3 2184.3,379.2 2185.1,393.8 2185.8,395.3 2186.6,382.1 2187.3,379.4 2188.1,393.8 2188.9,382.8 2189.6,405.7 2190.4,389.6 2191.1,397.8 2191.9,384.9 2192.6,393.9 2193.4,401.8 2194.2,398.5 2194.9,393.0 2195.7,412.0 2196.4,401.5 2197.2,395.5 2197.9,393.0 2198.7,394.9 2199.4,404.7 2200.2,391.2 2201.0,395.9 2201.7,390.4 2202.5,403.1 2203.2,394.1 2204.0,400.3 2204.7,398.4 2205.5,391.2 2206.2,399.1 2207.0,400.5 2207.8,387.5 2208.5,398.9 2209.3,410.9 2210.0,392.6 2210.8,398.3 2211.5,385.8 2212.3,396.7 2213.1,389.8 2213.8,397.8 2214.6,392.1 2215.3,384.4 2216.1,398.0 2216.8,389.1 2217.6,383.5 2218.3,389.6 2219.1,382.7 2219.9,390.8 2220.6,387.7 2221.4,385.7 2222.1,392.2 2222.9,380.2 2223.6,394.5 2224.4,376.2 2225.1,399.0 2225.9,390.2 2226.7,387.5 2227.4,384.5 2228.2,392.4 2228.9,387.7 2229.7,387.1 2230.4,394.2 2231.2,384.5 2232.0,385.1 2232.7,388.8 2233.5,392.4 2234.2,384.4 2235.0,386.1 2235.7,385.3 2236.5,389.7 2237.2,394.4 2238.0,379.4 2238.8,384.5 2239.5,385.1 2240.3,389.2 2241.0,395.0 2241.8,385.5 2242.5,386.9 2243.3,392.7 2244.0,377.9 2244.8,381.1 2245.6,383.3 2246.3,386.5 2247.1,388.5 2247.8,384.4 2248.6,399.3 2249.3,384.6 2250.1,388.5 2250.9,397.2 2251.6,395.9 2252.4,391.4 2253.1,394.2 2253.9,397.2 2254.6,392.2 2255.4,396.4 2256.1,386.5 2256.9,392.6 2257.7,381.8 2258.4,386.4 2259.2,384.8 2259.9,399.8 2260.7,389.0 2261.4,393.8 2262.2,386.1 2262.9,390.7 2263.7,390.2 2264.5,386.6 2265.2,397.3 2266.0,381.4 2266.7,395.7 2267.5,408.2 2268.2,386.4 2269.0,391.6 2269.8,381.5 2270.5,391.0 2271.3,380.1 2272.0,394.9 2272.8,387.8 2273.5,379.2 2274.3,382.5 2275.0,380.6 2275.8,388.7 2276.6,395.8 2277.3,387.7 2278.1,382.7 2278.8,384.6 2279.6,390.5 2280.3,374.1 2281.1,392.9 2281.8,391.5 2282.6,373.2 2283.4,395.8 2284.1,377.7 2284.9,386.3 2285.6,394.8 2286.4,376.6 2287.1,375.0 2287.9,379.3 2288.7,379.2 2289.4,385.0 2290.2,382.4 2290.9,382.4 2291.7,382.5 2292.4,384.5 2293.2,380.4 2293.9,388.1 2294.7,386.4 2295.5,380.5 2296.2,399.1 2297.0,380.2 2297.7,393.6 2298.5,385.0 2299.2,392.7 2300.0,394.4 2300.7,397.2 2301.5,401.2 2302.3,387.3 2303.0,410.0 2303.8,395.7 2304.5,388.0 2305.3,384.5 2306.0,407.8 2306.8,403.1 2307.6,392.3 2308.3,397.0 2309.1,400.3 2309.8,392.5 2310.6,389.1 2311.3,391.6 2312.1,397.4 2312.8,392.5 2313.6,385.0 2314.4,398.0 2315.1,382.8 2315.9,389.5 2316.6,402.6 2317.4,396.7 2318.1,397.0 2318.9,396.3 2319.6,402.2 2320.4,395.2 2321.2,382.8 2321.9,396.3 2322.7,376.3 2323.4,380.5 2324.2,402.8 2324.9,398.7 2325.7,388.4 2326.5,390.2 2327.2,390.7 2328.0,396.0 2328.7,384.4 2329.5,383.6 2330.2,385.1 2331.0,390.0 2331.7,391.0 2332.5,387.1 2333.3,394.8 2334.0,383.9 2334.8,390.2 2335.5,386.7 2336.3,385.0 2337.0,399.4 2337.8,389.8 2338.5,385.5 2339.3,392.2 2340.1,385.5 2340.8,395.6 2341.6,397.1 2342.3,398.0 2343.1,384.7 2343.8,390.3 2344.6,402.9 2345.4,389.7 2346.1,399.1 2346.9,400.7 2347.6,382.2 2348.4,398.6 2349.1,395.6 2349.9,396.3 2350.6,401.3 2351.4,393.4 2352.2,390.7 2352.9,393.9 2353.7,387.6 2354.4,392.7 2355.2,376.6 2355.9,400.1 2356.7,385.6 2357.4,392.2 2358.2,390.6 2359.0,389.2 2359.7,389.1 2360.5,388.7 2361.2,377.9 2362.0,384.8 2362.7,395.9 2363.5,381.9 2364.3,381.8 2365.0,402.0 2365.8,396.5 2366.5,399.0 2367.3,389.4 2368.0,391.6 2368.8,395.2 2369.5,394.5 2370.3,390.9 2371.1,382.8 2371.8,388.0 2372.6,383.7 2373.3,403.6 2374.1,391.5 2374.8,393.1 2375.6,396.2 2376.3,394.5 2377.1,397.6 2377.9,390.1 2378.6,384.1 2379.4,404.4 2380.1,388.4 2380.9,389.5 2381.6,387.0 2382.4,388.3 2383.2,391.6 2383.9,396.0 2384.7,384.6 2385.4,393.0 2386.2,387.0 2386.9,398.9 2387.7,383.7 2388.4,392.1 2389.2,396.1 2390.0,383.0 2390.7,392.3 2391.5,392.5 2392.2,386.5 2393.0,390.2 2393.7,397.8 2394.5,393.2 2395.2,389.1 2396.0,390.6 2396.8,394.9 2397.5,400.3 2398.3,397.6 2399.0,397.4 2399.8,402.8 2400.5,383.4 2401.3,384.1 2402.1,378.7 2402.8,398.0 2403.6,378.1 2404.3,391.9 2405.1,396.4 2405.8,382.5 2406.6,386.7 2407.3,388.9 2408.1,394.8 2408.9,380.6 2409.6,392.0 2410.4,394.5 2411.1,391.2 2411.9,391.6 2412.6,398.9 2413.4,392.9 2414.1,392.0 2414.9,390.6 2415.7,397.4 2416.4,392.1 2417.2,398.6 2417.9,395.8 2418.7,402.7 2419.4,391.2 2420.2,397.1 2421.0,399.2 2421.7,399.9 2422.5,404.5 2423.2,400.0 2424.0,403.1 2424.7,409.5 2425.5,402.3 2426.2,390.0 2427.0,387.2"/>
<polyline clip-path="url(#c1)" fill="none" stroke="#12A2CF" stroke-width="11" stroke-linejoin="round" stroke-linecap="butt" points="159.0,547.5 159.8,549.0 160.5,548.7 161.3,553.3 162.0,566.5 162.8,548.0 163.5,564.3 164.3,566.7 165.0,557.2 165.8,555.6 166.6,563.3 167.3,568.3 168.1,574.5 168.8,567.0 169.6,571.6 170.3,559.1 171.1,556.5 171.9,551.3 172.6,554.8 173.4,559.6 174.1,562.9 174.9,553.4 175.6,566.5 176.4,560.8 177.1,557.4 177.9,556.6 178.7,573.9 179.4,562.5 180.2,556.0 180.9,555.8 181.7,573.2 182.4,558.4 183.2,569.5 183.9,571.1 184.7,548.0 185.5,571.0 186.2,561.5 187.0,556.2 187.7,559.8 188.5,566.9 189.2,565.9 190.0,566.5 190.8,559.6 191.5,572.2 192.3,573.8 193.0,576.2 193.8,571.3 194.5,577.2 195.3,578.9 196.0,570.7 196.8,572.2 197.6,570.8 198.3,571.0 199.1,573.4 199.8,557.7 200.6,566.5 201.3,571.7 202.1,555.6 202.8,559.6 203.6,578.2 204.4,561.5 205.1,564.7 205.9,569.5 206.6,563.7 207.4,560.8 208.1,562.3 208.9,562.3 209.7,560.9 210.4,565.2 211.2,573.7 211.9,565.7 212.7,573.5 213.4,568.0 214.2,568.6 214.9,567.2 215.7,561.8 216.5,566.4 217.2,565.8 218.0,557.0 218.7,568.5 219.5,567.3 220.2,565.7 221.0,559.7 221.7,546.5 222.5,571.5 223.3,561.6 224.0,548.2 224.8,565.4 225.5,556.8 226.3,565.2 227.0,560.2 227.8,567.8 228.6,562.3 229.3,562.8 230.1,562.3 230.8,569.4 231.6,554.3 232.3,570.3 233.1,568.1 233.8,561.3 234.6,565.7 235.4,563.9 236.1,567.9 236.9,574.2 237.6,564.9 238.4,574.2 239.1,575.8 239.9,574.1 240.6,579.8 241.4,569.4 242.2,573.7 242.9,584.2 243.7,568.3 244.4,566.5 245.2,566.6 245.9,569.5 246.7,561.3 247.5,563.0 248.2,553.1 249.0,557.0 249.7,556.9 250.5,555.9 251.2,560.4 252.0,567.5 252.7,561.0 253.5,555.5 254.3,565.5 255.0,565.4 255.8,556.1 256.5,566.1 257.3,558.9 258.0,562.0 258.8,561.7 259.5,571.7 260.3,561.8 261.1,565.3 261.8,568.7 262.6,574.3 263.3,575.5 264.1,562.2 264.8,576.2 265.6,570.9 266.4,576.7 267.1,576.0 267.9,566.2 268.6,569.6 269.4,567.4 270.1,571.2 270.9,578.7 271.6,568.3 272.4,563.3 273.2,582.5 273.9,560.0 274.7,565.6 275.4,564.9 276.2,556.7 276.9,569.1 277.7,570.6 278.4,563.4 279.2,564.2 280.0,562.9 280.7,553.2 281.5,565.9 282.2,557.0 283.0,559.1 283.7,567.9 284.5,571.5 285.3,560.8 286.0,573.6 286.8,577.8 287.5,568.2 288.3,567.0 289.0,568.9 289.8,565.4 290.5,562.7 291.3,572.1 292.1,572.6 292.8,565.1 293.6,565.7 294.3,564.4 295.1,563.8 295.8,562.1 296.6,558.7 297.3,573.5 298.1,565.6 298.9,568.1 299.6,578.6 300.4,564.4 301.1,570.9 301.9,558.9 302.6,563.3 303.4,571.4 304.2,565.5 304.9,558.3 305.7,557.8 306.4,569.4 307.2,561.7 307.9,571.8 308.7,569.5 309.4,566.0 310.2,567.9 311.0,573.4 311.7,569.4 312.5,564.0 313.2,572.6 314.0,569.3 314.7,571.0 315.5,576.9 316.2,576.5 317.0,581.7 317.8,575.3 318.5,574.5 319.3,575.9 320.0,580.9 320.8,574.1 321.5,577.0 322.3,574.2 323.1,574.6 323.8,578.1 324.6,593.7 325.3,576.4 326.1,580.1 326.8,578.8 327.6,576.9 328.3,577.9 329.1,589.4 329.9,575.7 330.6,586.8 331.4,580.9 332.1,571.5 332.9,572.7 333.6,573.6 334.4,569.5 335.1,582.8 335.9,577.9 336.7,578.1 337.4,568.1 338.2,576.6 338.9,569.9 339.7,587.3 340.4,571.5 341.2,573.3 342.0,573.8 342.7,568.2 343.5,568.7 344.2,568.8 345.0,576.6 345.7,567.5 346.5,571.5 347.2,575.2 348.0,571.4 348.8,566.4 349.5,568.3 350.3,573.7 351.0,571.2 351.8,583.5 352.5,578.3 353.3,578.6 354.0,573.1 354.8,582.6 355.6,577.5 356.3,574.1 357.1,576.0 357.8,594.2 358.6,576.2 359.3,574.5 360.1,586.5 360.9,583.9 361.6,577.5 362.4,587.3 363.1,570.0 363.9,575.8 364.6,568.7 365.4,586.7 366.1,578.8 366.9,594.1 367.7,581.4 368.4,581.6 369.2,572.1 369.9,571.9 370.7,576.3 371.4,584.7 372.2,573.2 372.9,565.2 373.7,584.8 374.5,585.3 375.2,574.5 376.0,582.9 376.7,587.3 377.5,587.9 378.2,571.7 379.0,581.9 379.8,577.1 380.5,587.9 381.3,582.8 382.0,575.1 382.8,582.9 383.5,585.8 384.3,572.6 385.0,573.4 385.8,577.0 386.6,578.7 387.3,576.6 388.1,568.5 388.8,569.6 389.6,578.6 390.3,581.1 391.1,573.3 391.8,579.8 392.6,590.5 393.4,578.2 394.1,577.3 394.9,576.1 395.6,583.5 396.4,582.3 397.1,582.5 397.9,578.6 398.7,583.2 399.4,582.9 400.2,579.1 400.9,586.5 401.7,569.6 402.4,582.9 403.2,577.5 403.9,583.1 404.7,589.4 405.5,578.1 406.2,576.7 407.0,577.9 407.7,586.6 408.5,587.9 409.2,579.8 410.0,583.1 410.7,590.4 411.5,583.0 412.3,570.9 413.0,575.2 413.8,577.2 414.5,582.4 415.3,576.4 416.0,587.9 416.8,575.9 417.6,587.7 418.3,573.3 419.1,584.6 419.8,576.7 420.6,583.4 421.3,585.9 422.1,584.1 422.8,579.4 423.6,568.2 424.4,567.9 425.1,555.6 425.9,582.6 426.6,582.0 427.4,581.3 428.1,569.0 428.9,593.9 429.6,573.9 430.4,584.5 431.2,570.3 431.9,577.6 432.7,589.9 433.4,589.7 434.2,577.7 434.9,584.6 435.7,592.6 436.5,575.0 437.2,591.4 438.0,577.4 438.7,590.9 439.5,585.3 440.2,592.8 441.0,583.4 441.7,584.0 442.5,583.6 443.3,579.4 444.0,583.1 444.8,578.1 445.5,580.4 446.3,587.6 447.0,580.9 447.8,589.1 448.5,586.5 449.3,587.0 450.1,574.6 450.8,584.0 451.6,590.2 452.3,586.8 453.1,588.7 453.8,590.4 454.6,571.6 455.4,584.3 456.1,584.0 456.9,579.1 457.6,571.9 458.4,580.4 459.1,578.1 459.9,590.7 460.6,586.3 461.4,575.3 462.2,571.0 462.9,572.1 463.7,577.1 464.4,573.1 465.2,590.1 465.9,571.2 466.7,578.7 467.4,581.1 468.2,583.7 469.0,576.5 469.7,582.0 470.5,585.6 471.2,587.5 472.0,582.9 472.7,585.4 473.5,589.3 474.3,600.2 475.0,581.3 475.8,593.1 476.5,598.5 477.3,580.0 478.0,597.1 478.8,596.4 479.5,587.7 480.3,592.7 481.1,595.4 481.8,584.9 482.6,586.9 483.3,578.7 484.1,581.0 484.8,585.7 485.6,584.8 486.3,595.5 487.1,584.5 487.9,578.7 488.6,591.9 489.4,592.4 490.1,589.5 490.9,586.4 491.6,582.5 492.4,583.4 493.2,596.8 493.9,592.2 494.7,587.9 495.4,589.7 496.2,584.8 496.9,581.1 497.7,583.6 498.4,585.9 499.2,575.8 500.0,576.6 500.7,574.4 501.5,581.7 502.2,587.7 503.0,575.2 503.7,575.8 504.5,572.4 505.2,578.9 506.0,574.1 506.8,574.9 507.5,574.0 508.3,594.5 509.0,580.0 509.8,576.6 510.5,578.0 511.3,586.3 512.1,587.1 512.8,583.1 513.6,569.6 514.3,588.1 515.1,589.0 515.8,587.6 516.6,586.1 517.3,584.0 518.1,591.3 518.9,582.3 519.6,590.9 520.4,581.8 521.1,582.6 521.9,582.4 522.6,581.9 523.4,582.5 524.1,590.3 524.9,595.4 525.7,581.6 526.4,579.7 527.2,594.0 527.9,584.4 528.7,588.4 529.4,587.8 530.2,592.7 531.0,582.0 531.7,594.8 532.5,593.0 533.2,575.0 534.0,587.9 534.7,587.0 535.5,592.1 536.2,589.8 537.0,586.0 537.8,588.8 538.5,593.4 539.3,591.7 540.0,590.7 540.8,605.4 541.5,595.0 542.3,584.8 543.0,592.3 543.8,593.4 544.6,585.0 545.3,591.5 546.1,585.3 546.8,576.4 547.6,591.8 548.3,593.2 549.1,592.8 549.9,587.8 550.6,584.7 551.4,589.5 552.1,590.4 552.9,593.1 553.6,595.5 554.4,592.1 555.1,583.6 555.9,586.9 556.7,578.7 557.4,592.1 558.2,591.6 558.9,595.7 559.7,591.9 560.4,598.9 561.2,585.3 561.9,591.8 562.7,588.2 563.5,588.2 564.2,578.4 565.0,584.2 565.7,576.0 566.5,585.6 567.2,582.7 568.0,587.3 568.8,574.9 569.5,582.5 570.3,584.0 571.0,571.4 571.8,595.7 572.5,588.8 573.3,581.4 574.0,598.0 574.8,595.0 575.6,571.7 576.3,585.2 577.1,583.2 577.8,587.2 578.6,580.9 579.3,584.8 580.1,586.5 580.8,570.3 581.6,585.9 582.4,593.4 583.1,585.1 583.9,591.0 584.6,593.3 585.4,585.0 586.1,585.2 586.9,584.8 587.7,579.1 588.4,594.9 589.2,582.6 589.9,582.0 590.7,582.7 591.4,583.7 592.2,563.4 592.9,562.1 593.7,565.1 594.5,562.5 595.2,546.1 596.0,538.6 596.7,544.5 597.5,536.3 598.2,521.7 599.0,513.0 599.7,502.2 600.5,490.7 601.3,485.2 602.0,485.8 602.8,479.7 603.5,485.2 604.3,472.0 605.0,472.9 605.8,492.0 606.6,489.5 607.3,501.2 608.1,511.7 608.8,512.5 609.6,519.4 610.3,538.8 611.1,528.2 611.8,555.9 612.6,547.5 613.4,569.1 614.1,570.9 614.9,574.5 615.6,579.4 616.4,579.9 617.1,572.6 617.9,587.7 618.6,584.4 619.4,587.2 620.2,584.0 620.9,583.4 621.7,590.8 622.4,590.9 623.2,586.5 623.9,577.6 624.7,579.2 625.5,578.7 626.2,591.8 627.0,588.1 627.7,585.5 628.5,584.4 629.2,581.0 630.0,590.8 630.7,579.6 631.5,581.1 632.3,591.8 633.0,590.8 633.8,586.8 634.5,579.7 635.3,580.0 636.0,593.3 636.8,590.7 637.5,597.8 638.3,586.1 639.1,588.8 639.8,583.9 640.6,600.2 641.3,580.0 642.1,594.5 642.8,600.8 643.6,585.2 644.4,582.3 645.1,585.0 645.9,582.3 646.6,593.1 647.4,590.2 648.1,584.9 648.9,588.5 649.6,599.3 650.4,588.2 651.2,587.1 651.9,601.3 652.7,583.6 653.4,586.1 654.2,597.9 654.9,588.8 655.7,576.6 656.4,582.8 657.2,574.0 658.0,583.7 658.7,589.4 659.5,577.1 660.2,596.5 661.0,594.7 661.7,591.9 662.5,582.5 663.3,587.5 664.0,591.2 664.8,594.4 665.5,597.1 666.3,576.8 667.0,586.8 667.8,585.2 668.5,591.5 669.3,596.0 670.1,610.0 670.8,596.2 671.6,603.2 672.3,598.9 673.1,598.4 673.8,609.7 674.6,592.0 675.3,602.9 676.1,611.2 676.9,615.4 677.6,594.3 678.4,591.2 679.1,588.7 679.9,593.6 680.6,595.9 681.4,595.8 682.2,602.7 682.9,593.8 683.7,597.9 684.4,585.9 685.2,592.4 685.9,596.0 686.7,582.7 687.4,598.6 688.2,603.9 689.0,599.4 689.7,600.7 690.5,599.9 691.2,592.9 692.0,601.1 692.7,597.7 693.5,602.1 694.2,602.3 695.0,602.8 695.8,594.0 696.5,601.9 697.3,613.2 698.0,608.0 698.8,600.5 699.5,597.1 700.3,607.4 701.1,600.8 701.8,589.2 702.6,596.9 703.3,609.6 704.1,588.0 704.8,598.4 705.6,592.8 706.3,596.7 707.1,594.2 707.9,591.0 708.6,580.3 709.4,594.8 710.1,596.2 710.9,595.1 711.6,589.2 712.4,591.9 713.1,609.5 713.9,588.6 714.7,593.4 715.4,587.6 716.2,593.9 716.9,596.9 717.7,602.9 718.4,596.8 719.2,595.6 720.0,598.0 720.7,599.5 721.5,596.1 722.2,596.5 723.0,604.5 723.7,592.7 724.5,596.9 725.2,591.8 726.0,594.5 726.8,607.0 727.5,593.3 728.3,600.8 729.0,610.6 729.8,600.6 730.5,596.1 731.3,592.1 732.0,580.9 732.8,590.8 733.6,591.0 734.3,602.8 735.1,601.4 735.8,589.4 736.6,601.7 737.3,594.4 738.1,610.3 738.9,608.7 739.6,604.2 740.4,598.0 741.1,611.8 741.9,606.5 742.6,608.4 743.4,604.5 744.1,599.3 744.9,605.6 745.7,595.2 746.4,604.9 747.2,600.7 747.9,588.9 748.7,601.9 749.4,598.3 750.2,596.1 750.9,598.0 751.7,603.5 752.5,591.8 753.2,592.5 754.0,604.1 754.7,601.1 755.5,589.7 756.2,601.8 757.0,591.0 757.8,606.4 758.5,604.4 759.3,606.1 760.0,593.9 760.8,598.9 761.5,609.4 762.3,595.5 763.0,607.5 763.8,602.9 764.6,605.2 765.3,599.0 766.1,607.8 766.8,606.4 767.6,609.2 768.3,619.2 769.1,602.3 769.8,604.0 770.6,596.9 771.4,614.2 772.1,600.9 772.9,607.7 773.6,595.4 774.4,600.5 775.1,605.4 775.9,604.0 776.7,598.8 777.4,605.5 778.2,600.0 778.9,605.3 779.7,596.8 780.4,601.9 781.2,594.5 781.9,605.1 782.7,597.0 783.5,597.2 784.2,593.2 785.0,603.1 785.7,597.9 786.5,595.7 787.2,605.5 788.0,592.8 788.7,604.0 789.5,607.6 790.3,587.9 791.0,604.6 791.8,602.8 792.5,601.0 793.3,602.3 794.0,592.9 794.8,603.8 795.6,602.4 796.3,592.1 797.1,600.4 797.8,594.3 798.6,602.6 799.3,596.7 800.1,603.1 800.8,593.7 801.6,599.3 802.4,600.1 803.1,601.3 803.9,609.6 804.6,615.8 805.4,592.7 806.1,607.0 806.9,599.8 807.6,599.5 808.4,599.1 809.2,599.9 809.9,600.3 810.7,606.1 811.4,609.0 812.2,603.7 812.9,602.2 813.7,606.0 814.5,605.6 815.2,615.0 816.0,598.6 816.7,596.6 817.5,604.0 818.2,608.0 819.0,605.1 819.7,607.9 820.5,590.6 821.3,601.5 822.0,601.8 822.8,597.1 823.5,601.0 824.3,602.6 825.0,605.6 825.8,596.9 826.5,591.7 827.3,603.7 828.1,612.5 828.8,601.3 829.6,600.8 830.3,593.7 831.1,600.9 831.8,609.2 832.6,587.5 833.4,605.7 834.1,587.6 834.9,608.6 835.6,604.6 836.4,597.7 837.1,601.4 837.9,610.0 838.6,593.5 839.4,607.5 840.2,604.3 840.9,601.2 841.7,610.5 842.4,592.3 843.2,602.2 843.9,596.3 844.7,604.0 845.4,608.2 846.2,595.7 847.0,607.8 847.7,608.2 848.5,603.2 849.2,606.6 850.0,613.9 850.7,609.3 851.5,617.4 852.3,601.1 853.0,599.9 853.8,614.9 854.5,599.5 855.3,615.1 856.0,607.7 856.8,611.9 857.5,605.7 858.3,614.2 859.1,615.9 859.8,615.1 860.6,610.6 861.3,599.3 862.1,613.0 862.8,607.4 863.6,614.4 864.3,596.7 865.1,608.1 865.9,602.2 866.6,604.1 867.4,609.1 868.1,608.3 868.9,611.4 869.6,605.2 870.4,605.3 871.2,603.6 871.9,594.5 872.7,607.9 873.4,596.3 874.2,598.2 874.9,604.1 875.7,597.5 876.4,599.0 877.2,587.0 878.0,597.0 878.7,595.8 879.5,599.1 880.2,606.4 881.0,601.7 881.7,602.7 882.5,604.3 883.2,609.9 884.0,610.4 884.8,606.4 885.5,602.5 886.3,609.4 887.0,602.4 887.8,603.2 888.5,606.4 889.3,602.0 890.1,598.7 890.8,598.3 891.6,604.4 892.3,608.1 893.1,611.2 893.8,603.1 894.6,609.5 895.3,608.6 896.1,606.0 896.9,623.9 897.6,604.1 898.4,603.3 899.1,608.8 899.9,616.8 900.6,604.8 901.4,614.5 902.1,599.8 902.9,603.0 903.7,603.8 904.4,603.0 905.2,604.6 905.9,603.5 906.7,602.7 907.4,597.8 908.2,606.5 909.0,603.7 909.7,604.6 910.5,610.0 911.2,605.7 912.0,603.9 912.7,610.7 913.5,599.4 914.2,592.6 915.0,598.5 915.8,594.7 916.5,600.7 917.3,600.9 918.0,602.1 918.8,604.3 919.5,606.4 920.3,605.2 921.0,603.4 921.8,600.6 922.6,599.1 923.3,601.6 924.1,599.8 924.8,594.6 925.6,598.3 926.3,604.6 927.1,600.7 927.9,595.5 928.6,601.9 929.4,604.4 930.1,594.6 930.9,611.0 931.6,608.2 932.4,600.8 933.1,608.4 933.9,603.5 934.7,605.5 935.4,596.4 936.2,598.3 936.9,599.2 937.7,599.3 938.4,596.1 939.2,588.7 939.9,590.3 940.7,598.0 941.5,591.6 942.2,602.0 943.0,598.2 943.7,586.6 944.5,586.3 945.2,571.0 946.0,581.5 946.8,578.7 947.5,561.7 948.3,554.2 949.0,546.8 949.8,544.5 950.5,535.3 951.3,511.5 952.0,502.1 952.8,494.2 953.6,479.1 954.3,463.6 955.1,457.2 955.8,440.0 956.6,430.7 957.3,440.4 958.1,442.4 958.8,450.6 959.6,449.2 960.4,456.5 961.1,473.6 961.9,485.5 962.6,499.2 963.4,511.0 964.1,531.1 964.9,536.2 965.7,552.3 966.4,549.3 967.2,555.3 967.9,573.2 968.7,566.6 969.4,571.8 970.2,576.0 970.9,575.3 971.7,591.7 972.5,601.3 973.2,597.1 974.0,600.6 974.7,595.4 975.5,593.3 976.2,603.3 977.0,594.6 977.7,593.3 978.5,597.9 979.3,609.6 980.0,606.1 980.8,602.8 981.5,598.2 982.3,599.1 983.0,606.6 983.8,604.4 984.6,600.5 985.3,611.8 986.1,601.5 986.8,596.2 987.6,604.4 988.3,612.5 989.1,610.7 989.8,612.4 990.6,602.7 991.4,610.3 992.1,608.8 992.9,606.7 993.6,601.6 994.4,615.5 995.1,608.9 995.9,605.0 996.6,612.5 997.4,622.8 998.2,599.1 998.9,609.3 999.7,618.3 1000.4,618.4 1001.2,601.6 1001.9,604.5 1002.7,595.5 1003.5,607.3 1004.2,598.3 1005.0,601.0 1005.7,615.5 1006.5,600.0 1007.2,596.5 1008.0,607.0 1008.7,608.0 1009.5,608.1 1010.3,613.5 1011.0,602.5 1011.8,605.7 1012.5,610.3 1013.3,604.0 1014.0,614.8 1014.8,612.4 1015.5,607.0 1016.3,606.0 1017.1,607.5 1017.8,609.5 1018.6,596.2 1019.3,600.4 1020.1,603.6 1020.8,603.4 1021.6,604.8 1022.4,605.1 1023.1,609.2 1023.9,606.9 1024.6,611.0 1025.4,611.0 1026.1,609.0 1026.9,607.1 1027.6,605.4 1028.4,614.7 1029.2,607.7 1029.9,612.0 1030.7,615.6 1031.4,612.3 1032.2,601.8 1032.9,606.7 1033.7,622.9 1034.4,601.5 1035.2,618.5 1036.0,604.5 1036.7,611.4 1037.5,617.1 1038.2,604.7 1039.0,616.5 1039.7,597.4 1040.5,609.6 1041.3,606.8 1042.0,613.1 1042.8,615.3 1043.5,617.8 1044.3,617.6 1045.0,608.4 1045.8,605.5 1046.5,613.3 1047.3,607.4 1048.1,597.8 1048.8,597.2 1049.6,607.3 1050.3,607.2 1051.1,609.9 1051.8,610.6 1052.6,599.9 1053.3,611.3 1054.1,602.9 1054.9,612.6 1055.6,610.2 1056.4,619.9 1057.1,613.0 1057.9,607.7 1058.6,609.4 1059.4,611.0 1060.2,613.9 1060.9,614.7 1061.7,604.6 1062.4,603.3 1063.2,613.5 1063.9,608.8 1064.7,614.9 1065.4,611.3 1066.2,618.5 1067.0,612.3 1067.7,601.3 1068.5,606.3 1069.2,612.5 1070.0,603.3 1070.7,610.1 1071.5,614.5 1072.2,617.7 1073.0,616.7 1073.8,603.1 1074.5,619.5 1075.3,607.5 1076.0,613.6 1076.8,608.3 1077.5,618.7 1078.3,612.6 1079.1,614.2 1079.8,614.9 1080.6,611.3 1081.3,607.4 1082.1,619.0 1082.8,613.4 1083.6,614.0 1084.3,598.5 1085.1,596.7 1085.9,618.1 1086.6,612.4 1087.4,597.8 1088.1,610.8 1088.9,609.1 1089.6,603.2 1090.4,607.0 1091.1,620.8 1091.9,606.4 1092.7,614.0 1093.4,607.0 1094.2,603.2 1094.9,627.1 1095.7,617.3 1096.4,610.8 1097.2,611.8 1098.0,612.6 1098.7,608.1 1099.5,617.0 1100.2,618.1 1101.0,611.8 1101.7,613.8 1102.5,606.2 1103.2,615.2 1104.0,601.8 1104.8,612.6 1105.5,621.6 1106.3,611.1 1107.0,628.7 1107.8,606.1 1108.5,611.0 1109.3,612.3 1110.0,617.8 1110.8,619.5 1111.6,613.4 1112.3,603.5 1113.1,620.8 1113.8,616.1 1114.6,616.9 1115.3,602.5 1116.1,614.3 1116.9,610.1 1117.6,616.2 1118.4,620.1 1119.1,604.3 1119.9,608.0 1120.6,608.2 1121.4,602.9 1122.1,610.2 1122.9,609.6 1123.7,601.2 1124.4,601.2 1125.2,607.7 1125.9,595.9 1126.7,608.2 1127.4,611.5 1128.2,611.6 1128.9,601.2 1129.7,617.3 1130.5,619.0 1131.2,600.5 1132.0,617.3 1132.7,615.0 1133.5,612.8 1134.2,603.5 1135.0,614.1 1135.8,602.1 1136.5,609.3 1137.3,614.2 1138.0,612.8 1138.8,608.6 1139.5,612.8 1140.3,610.2 1141.0,612.9 1141.8,607.1 1142.6,605.0 1143.3,608.8 1144.1,605.1 1144.8,619.1 1145.6,627.9 1146.3,617.2 1147.1,620.5 1147.8,608.0 1148.6,613.8 1149.4,608.5 1150.1,619.1 1150.9,616.4 1151.6,610.2 1152.4,624.3 1153.1,616.0 1153.9,620.6 1154.7,621.1 1155.4,623.9 1156.2,622.8 1156.9,615.1 1157.7,613.2 1158.4,610.4 1159.2,607.6 1159.9,623.5 1160.7,609.7 1161.5,620.9 1162.2,607.6 1163.0,608.3 1163.7,618.0 1164.5,611.5 1165.2,607.9 1166.0,621.9 1166.7,605.5 1167.5,608.4 1168.3,617.3 1169.0,622.4 1169.8,613.9 1170.5,609.4 1171.3,627.3 1172.0,614.7 1172.8,611.0 1173.6,615.4 1174.3,621.4 1175.1,598.2 1175.8,608.2 1176.6,618.2 1177.3,616.9 1178.1,614.0 1178.8,612.6 1179.6,616.8 1180.4,619.7 1181.1,610.4 1181.9,611.4 1182.6,618.4 1183.4,612.3 1184.1,606.9 1184.9,613.5 1185.6,608.2 1186.4,618.0 1187.2,619.2 1187.9,610.0 1188.7,612.2 1189.4,614.2 1190.2,618.3 1190.9,615.8 1191.7,610.2 1192.5,609.3 1193.2,613.6 1194.0,607.9 1194.7,605.3 1195.5,594.2 1196.2,599.4 1197.0,598.6 1197.7,594.1 1198.5,585.1 1199.3,577.9 1200.0,588.9 1200.8,586.0 1201.5,580.0 1202.3,570.8 1203.0,569.9 1203.8,568.7 1204.5,570.0 1205.3,563.1 1206.1,554.8 1206.8,553.8 1207.6,547.7 1208.3,563.1 1209.1,547.6 1209.8,559.7 1210.6,553.6 1211.4,563.7 1212.1,549.0 1212.9,562.0 1213.6,555.6 1214.4,559.0 1215.1,563.4 1215.9,563.7 1216.6,569.8 1217.4,577.0 1218.2,591.5 1218.9,582.9 1219.7,579.7 1220.4,594.9 1221.2,601.8 1221.9,581.5 1222.7,600.8 1223.4,591.8 1224.2,590.7 1225.0,606.4 1225.7,612.2 1226.5,615.3 1227.2,605.8 1228.0,604.2 1228.7,608.1 1229.5,611.2 1230.3,613.5 1231.0,616.9 1231.8,611.9 1232.5,613.5 1233.3,611.8 1234.0,606.6 1234.8,613.8 1235.5,620.0 1236.3,616.0 1237.1,599.4 1237.8,620.8 1238.6,607.1 1239.3,625.3 1240.1,624.6 1240.8,616.4 1241.6,623.3 1242.3,608.0 1243.1,611.9 1243.9,609.3 1244.6,615.8 1245.4,614.4 1246.1,615.8 1246.9,615.3 1247.6,623.5 1248.4,615.0 1249.2,612.4 1249.9,615.4 1250.7,617.3 1251.4,616.8 1252.2,607.9 1252.9,610.5 1253.7,611.1 1254.4,606.9 1255.2,602.4 1256.0,607.6 1256.7,595.2 1257.5,608.4 1258.2,602.2 1259.0,607.4 1259.7,608.3 1260.5,620.1 1261.2,620.6 1262.0,622.1 1262.8,609.7 1263.5,606.5 1264.3,614.7 1265.0,604.0 1265.8,610.0 1266.5,606.6 1267.3,611.5 1268.1,617.0 1268.8,607.0 1269.6,615.8 1270.3,616.3 1271.1,617.5 1271.8,620.0 1272.6,615.7 1273.3,618.3 1274.1,617.4 1274.9,610.9 1275.6,629.2 1276.4,624.8 1277.1,624.8 1277.9,617.0 1278.6,610.4 1279.4,622.2 1280.1,615.1 1280.9,630.9 1281.7,630.3 1282.4,616.8 1283.2,627.6 1283.9,623.8 1284.7,619.0 1285.4,610.1 1286.2,622.7 1287.0,624.2 1287.7,624.2 1288.5,615.6 1289.2,618.8 1290.0,618.7 1290.7,618.4 1291.5,614.4 1292.2,624.2 1293.0,621.0 1293.8,615.2 1294.5,620.0 1295.3,623.2 1296.0,619.5 1296.8,619.4 1297.5,622.2 1298.3,613.1 1299.0,621.8 1299.8,613.8 1300.6,619.0 1301.3,625.0 1302.1,615.0 1302.8,624.4 1303.6,621.4 1304.3,625.4 1305.1,608.3 1305.9,599.1 1306.6,611.1 1307.4,628.7 1308.1,618.1 1308.9,614.7 1309.6,616.4 1310.4,618.9 1311.1,615.3 1311.9,630.1 1312.7,617.4 1313.4,609.1 1314.2,609.6 1314.9,616.8 1315.7,617.9 1316.4,623.2 1317.2,624.4 1317.9,625.3 1318.7,613.7 1319.5,622.6 1320.2,616.5 1321.0,621.6 1321.7,614.4 1322.5,628.3 1323.2,628.5 1324.0,622.0 1324.8,613.9 1325.5,625.3 1326.3,620.3 1327.0,610.0 1327.8,621.3 1328.5,622.3 1329.3,619.7 1330.0,606.0 1330.8,620.5 1331.6,622.1 1332.3,612.9 1333.1,623.0 1333.8,619.7 1334.6,622.6 1335.3,606.7 1336.1,615.3 1336.8,619.9 1337.6,608.1 1338.4,617.5 1339.1,626.8 1339.9,607.2 1340.6,624.4 1341.4,621.0 1342.1,610.1 1342.9,610.2 1343.7,609.5 1344.4,616.3 1345.2,600.3 1345.9,617.9 1346.7,604.7 1347.4,611.4 1348.2,610.9 1348.9,617.9 1349.7,607.4 1350.5,608.2 1351.2,620.0 1352.0,622.5 1352.7,612.1 1353.5,610.0 1354.2,613.2 1355.0,611.7 1355.7,611.0 1356.5,604.6 1357.3,597.0 1358.0,611.5 1358.8,609.6 1359.5,616.7 1360.3,616.7 1361.0,620.1 1361.8,607.5 1362.6,615.2 1363.3,603.8 1364.1,613.1 1364.8,615.0 1365.6,608.0 1366.3,612.0 1367.1,627.5 1367.8,608.0 1368.6,619.5 1369.4,611.1 1370.1,618.6 1370.9,597.5 1371.6,604.7 1372.4,610.7 1373.1,621.7 1373.9,610.3 1374.6,603.5 1375.4,607.9 1376.2,614.9 1376.9,600.7 1377.7,610.3 1378.4,608.8 1379.2,607.7 1379.9,612.8 1380.7,606.1 1381.5,614.3 1382.2,614.9 1383.0,621.6 1383.7,613.3 1384.5,610.8 1385.2,604.3 1386.0,607.3 1386.7,602.3 1387.5,617.9 1388.3,595.4 1389.0,611.5 1389.8,611.4 1390.5,612.5 1391.3,605.8 1392.0,621.7 1392.8,606.6 1393.5,599.0 1394.3,604.6 1395.1,604.0 1395.8,616.0 1396.6,607.6 1397.3,601.8 1398.1,601.1 1398.8,605.1 1399.6,602.4 1400.4,603.7 1401.1,609.5 1401.9,594.4 1402.6,597.8 1403.4,602.5 1404.1,591.4 1404.9,603.4 1405.6,607.2 1406.4,599.0 1407.2,602.5 1407.9,594.9 1408.7,596.5 1409.4,597.5 1410.2,595.2 1410.9,602.5 1411.7,592.2 1412.4,600.3 1413.2,592.4 1414.0,604.6 1414.7,603.6 1415.5,597.7 1416.2,587.4 1417.0,590.5 1417.7,579.7 1418.5,600.6 1419.3,592.5 1420.0,590.5 1420.8,594.7 1421.5,585.2 1422.3,590.4 1423.0,593.6 1423.8,597.5 1424.5,604.3 1425.3,585.0 1426.1,594.5 1426.8,584.3 1427.6,580.7 1428.3,588.2 1429.1,584.8 1429.8,575.1 1430.6,583.4 1431.3,595.0 1432.1,578.1 1432.9,577.7 1433.6,589.7 1434.4,583.6 1435.1,577.6 1435.9,585.0 1436.6,579.0 1437.4,577.4 1438.2,584.5 1438.9,576.5 1439.7,586.2 1440.4,590.4 1441.2,575.7 1441.9,573.9 1442.7,571.3 1443.4,572.1 1444.2,562.8 1445.0,561.9 1445.7,557.9 1446.5,535.6 1447.2,529.6 1448.0,517.7 1448.7,494.0 1449.5,456.7 1450.2,438.0 1451.0,386.8 1451.8,355.0 1452.5,289.5 1453.3,247.3 1454.0,214.5 1454.8,214.5 1455.5,214.5 1456.3,214.5 1457.1,214.5 1457.8,214.5 1458.6,214.5 1459.3,214.5 1460.1,214.5 1460.8,214.5 1461.6,214.5 1462.3,214.5 1463.1,214.5 1463.9,214.5 1464.6,214.5 1465.4,214.5 1466.1,214.5 1466.9,214.5 1467.6,214.5 1468.4,214.5 1469.1,214.5 1469.9,214.5 1470.7,214.5 1471.4,214.5 1472.2,234.2 1472.9,284.5 1473.7,339.2 1474.4,384.0 1475.2,416.7 1476.0,445.9 1476.7,478.6 1477.5,508.5 1478.2,515.6 1479.0,528.0 1479.7,543.9 1480.5,548.0 1481.2,558.0 1482.0,562.5 1482.8,563.2 1483.5,571.7 1484.3,566.6 1485.0,568.9 1485.8,564.3 1486.5,570.6 1487.3,577.2 1488.0,583.3 1488.8,593.5 1489.6,576.0 1490.3,574.2 1491.1,588.9 1491.8,568.6 1492.6,583.1 1493.3,580.1 1494.1,588.8 1494.9,578.7 1495.6,582.0 1496.4,571.8 1497.1,579.5 1497.9,584.3 1498.6,582.4 1499.4,582.8 1500.1,594.6 1500.9,580.4 1501.7,580.1 1502.4,582.0 1503.2,587.1 1503.9,586.3 1504.7,590.6 1505.4,588.7 1506.2,604.0 1506.9,589.8 1507.7,593.7 1508.5,598.8 1509.2,610.1 1510.0,595.9 1510.7,594.3 1511.5,604.3 1512.2,596.5 1513.0,590.2 1513.8,590.8 1514.5,597.9 1515.3,592.6 1516.0,607.8 1516.8,604.2 1517.5,612.1 1518.3,603.6 1519.0,600.5 1519.8,606.9 1520.6,607.0 1521.3,597.7 1522.1,613.6 1522.8,604.7 1523.6,608.6 1524.3,600.5 1525.1,609.9 1525.8,617.3 1526.6,602.7 1527.4,597.7 1528.1,604.4 1528.9,604.2 1529.6,607.1 1530.4,593.4 1531.1,608.9 1531.9,604.2 1532.7,600.6 1533.4,594.9 1534.2,603.6 1534.9,609.0 1535.7,605.7 1536.4,606.1 1537.2,604.1 1537.9,606.2 1538.7,597.0 1539.5,615.0 1540.2,613.1 1541.0,606.1 1541.7,608.7 1542.5,600.7 1543.2,604.4 1544.0,612.5 1544.7,606.1 1545.5,603.8 1546.3,608.7 1547.0,614.3 1547.8,604.2 1548.5,613.4 1549.3,614.0 1550.0,614.3 1550.8,613.8 1551.6,611.2 1552.3,609.3 1553.1,617.2 1553.8,606.2 1554.6,619.7 1555.3,605.1 1556.1,612.0 1556.8,615.5 1557.6,603.8 1558.4,618.4 1559.1,622.4 1559.9,609.6 1560.6,615.2 1561.4,621.4 1562.1,621.1 1562.9,622.5 1563.6,606.7 1564.4,614.5 1565.2,622.5 1565.9,606.0 1566.7,606.7 1567.4,612.9 1568.2,612.5 1568.9,604.0 1569.7,606.2 1570.5,611.1 1571.2,612.2 1572.0,622.5 1572.7,616.9 1573.5,612.7 1574.2,610.9 1575.0,615.5 1575.7,626.9 1576.5,608.9 1577.3,605.7 1578.0,603.7 1578.8,611.0 1579.5,604.1 1580.3,599.7 1581.0,606.6 1581.8,606.7 1582.5,617.4 1583.3,621.3 1584.1,609.2 1584.8,609.2 1585.6,618.5 1586.3,612.2 1587.1,609.9 1587.8,617.2 1588.6,606.5 1589.4,616.1 1590.1,624.9 1590.9,603.6 1591.6,615.3 1592.4,611.4 1593.1,620.9 1593.9,619.3 1594.6,608.5 1595.4,612.8 1596.2,608.5 1596.9,619.8 1597.7,608.0 1598.4,612.3 1599.2,617.8 1599.9,609.0 1600.7,604.6 1601.4,603.5 1602.2,603.7 1603.0,608.3 1603.7,607.2 1604.5,611.5 1605.2,608.4 1606.0,616.1 1606.7,613.8 1607.5,618.1 1608.3,606.4 1609.0,603.2 1609.8,618.6 1610.5,613.5 1611.3,598.7 1612.0,607.8 1612.8,613.9 1613.5,618.4 1614.3,625.0 1615.1,617.3 1615.8,611.7 1616.6,606.7 1617.3,603.8 1618.1,604.1 1618.8,600.9 1619.6,606.8 1620.3,612.7 1621.1,609.0 1621.9,599.7 1622.6,609.5 1623.4,612.0 1624.1,604.6 1624.9,604.0 1625.6,605.9 1626.4,608.9 1627.2,594.7 1627.9,601.6 1628.7,599.2 1629.4,607.5 1630.2,610.4 1630.9,604.3 1631.7,613.8 1632.4,608.6 1633.2,609.0 1634.0,607.6 1634.7,599.9 1635.5,616.8 1636.2,607.6 1637.0,596.2 1637.7,609.4 1638.5,611.1 1639.2,598.0 1640.0,606.2 1640.8,614.9 1641.5,608.8 1642.3,605.9 1643.0,605.2 1643.8,607.1 1644.5,597.9 1645.3,600.5 1646.1,603.8 1646.8,600.7 1647.6,607.2 1648.3,586.8 1649.1,607.9 1649.8,590.4 1650.6,586.7 1651.3,587.3 1652.1,590.7 1652.9,579.5 1653.6,584.9 1654.4,579.5 1655.1,568.4 1655.9,562.2 1656.6,557.2 1657.4,554.4 1658.1,539.5 1658.9,551.4 1659.7,539.3 1660.4,537.0 1661.2,529.3 1661.9,528.3 1662.7,541.1 1663.4,522.2 1664.2,537.3 1665.0,534.3 1665.7,532.3 1666.5,549.6 1667.2,543.4 1668.0,555.3 1668.7,551.0 1669.5,541.6 1670.2,553.9 1671.0,546.9 1671.8,550.9 1672.5,548.2 1673.3,549.7 1674.0,544.2 1674.8,538.1 1675.5,532.2 1676.3,523.6 1677.0,516.7 1677.8,528.1 1678.6,518.5 1679.3,523.0 1680.1,531.5 1680.8,535.6 1681.6,539.6 1682.3,540.3 1683.1,547.1 1683.9,552.5 1684.6,557.2 1685.4,554.0 1686.1,567.9 1686.9,576.6 1687.6,575.4 1688.4,580.5 1689.1,568.8 1689.9,580.5 1690.7,603.3 1691.4,585.3 1692.2,596.4 1692.9,601.7 1693.7,601.2 1694.4,597.1 1695.2,596.1 1695.9,589.0 1696.7,606.7 1697.5,597.0 1698.2,603.2 1699.0,586.9 1699.7,584.5 1700.5,584.2 1701.2,600.7 1702.0,594.2 1702.8,594.6 1703.5,598.0 1704.3,597.4 1705.0,598.2 1705.8,593.7 1706.5,592.5 1707.3,599.9 1708.0,605.6 1708.8,596.7 1709.6,601.2 1710.3,598.8 1711.1,603.9 1711.8,594.1 1712.6,612.4 1713.3,611.6 1714.1,601.4 1714.8,599.8 1715.6,590.0 1716.4,605.1 1717.1,600.0 1717.9,599.5 1718.6,587.6 1719.4,599.9 1720.1,604.4 1720.9,583.9 1721.7,584.8 1722.4,587.7 1723.2,576.8 1723.9,566.7 1724.7,566.1 1725.4,540.4 1726.2,511.5 1726.9,466.8 1727.7,449.5 1728.5,402.9 1729.2,356.6 1730.0,317.4 1730.7,241.4 1731.5,214.5 1732.2,214.5 1733.0,214.5 1733.7,214.5 1734.5,214.5 1735.3,214.5 1736.0,214.5 1736.8,214.5 1737.5,214.5 1738.3,214.5 1739.0,214.5 1739.8,214.5 1740.6,214.5 1741.3,214.5 1742.1,214.5 1742.8,214.5 1743.6,214.5 1744.3,214.5 1745.1,214.5 1745.8,214.5 1746.6,214.5 1747.4,214.5 1748.1,214.5 1748.9,214.5 1749.6,214.5 1750.4,214.5 1751.1,233.4 1751.9,300.6 1752.6,357.5 1753.4,416.3 1754.2,452.6 1754.9,492.2 1755.7,516.3 1756.4,538.9 1757.2,541.2 1757.9,554.1 1758.7,585.0 1759.5,599.3 1760.2,584.1 1761.0,589.3 1761.7,606.3 1762.5,614.2 1763.2,596.7 1764.0,600.7 1764.7,611.4 1765.5,608.2 1766.3,608.6 1767.0,611.8 1767.8,599.9 1768.5,601.3 1769.3,615.9 1770.0,596.6 1770.8,611.5 1771.5,603.3 1772.3,614.6 1773.1,606.0 1773.8,605.6 1774.6,614.2 1775.3,607.8 1776.1,608.3 1776.8,594.6 1777.6,612.8 1778.4,608.8 1779.1,616.4 1779.9,607.6 1780.6,603.2 1781.4,617.9 1782.1,609.5 1782.9,607.6 1783.6,600.5 1784.4,617.1 1785.2,614.0 1785.9,602.2 1786.7,613.0 1787.4,611.9 1788.2,616.5 1788.9,609.7 1789.7,623.4 1790.4,598.9 1791.2,601.8 1792.0,616.5 1792.7,618.4 1793.5,616.1 1794.2,628.5 1795.0,616.6 1795.7,604.8 1796.5,624.7 1797.3,616.0 1798.0,613.4 1798.8,619.7 1799.5,619.8 1800.3,614.1 1801.0,621.9 1801.8,619.7 1802.5,616.6 1803.3,617.2 1804.1,605.5 1804.8,613.0 1805.6,613.6 1806.3,616.2 1807.1,627.8 1807.8,618.8 1808.6,616.3 1809.3,610.5 1810.1,615.5 1810.9,612.3 1811.6,611.7 1812.4,617.6 1813.1,607.1 1813.9,612.4 1814.6,622.4 1815.4,616.8 1816.2,610.4 1816.9,612.3 1817.7,610.7 1818.4,622.4 1819.2,621.7 1819.9,623.8 1820.7,610.9 1821.4,612.1 1822.2,617.5 1823.0,605.0 1823.7,608.0 1824.5,617.0 1825.2,607.0 1826.0,604.8 1826.7,612.4 1827.5,607.3 1828.2,604.5 1829.0,608.4 1829.8,596.5 1830.5,610.8 1831.3,606.7 1832.0,607.0 1832.8,605.2 1833.5,607.1 1834.3,591.2 1835.1,601.0 1835.8,608.2 1836.6,593.6 1837.3,591.1 1838.1,590.4 1838.8,584.1 1839.6,606.8 1840.3,587.5 1841.1,591.8 1841.9,579.3 1842.6,579.1 1843.4,576.1 1844.1,571.0 1844.9,575.7 1845.6,584.7 1846.4,572.2 1847.1,581.9 1847.9,587.2 1848.7,577.3 1849.4,581.2 1850.2,581.5 1850.9,569.2 1851.7,569.1 1852.4,560.0 1853.2,566.6 1854.0,575.0 1854.7,567.6 1855.5,562.7 1856.2,558.3 1857.0,553.1 1857.7,552.6 1858.5,566.0 1859.2,556.2 1860.0,546.6 1860.8,539.7 1861.5,533.3 1862.3,540.2 1863.0,527.8 1863.8,525.7 1864.5,523.7 1865.3,532.1 1866.0,524.1 1866.8,532.9 1867.6,519.1 1868.3,520.4 1869.1,520.0 1869.8,530.9 1870.6,526.3 1871.3,534.0 1872.1,549.8 1872.9,549.2 1873.6,548.4 1874.4,553.3 1875.1,539.7 1875.9,549.3 1876.6,570.8 1877.4,564.1 1878.1,569.2 1878.9,582.9 1879.7,572.9 1880.4,584.8 1881.2,584.9 1881.9,590.4 1882.7,591.4 1883.4,604.6 1884.2,600.5 1884.9,607.7 1885.7,595.7 1886.5,601.1 1887.2,605.5 1888.0,615.4 1888.7,612.3 1889.5,607.2 1890.2,601.4 1891.0,610.5 1891.8,604.3 1892.5,605.8 1893.3,609.1 1894.0,610.9 1894.8,610.2 1895.5,621.8 1896.3,614.6 1897.0,609.4 1897.8,616.3 1898.6,607.0 1899.3,619.3 1900.1,621.3 1900.8,622.3 1901.6,612.2 1902.3,625.5 1903.1,625.4 1903.8,632.1 1904.6,625.1 1905.4,622.2 1906.1,621.2 1906.9,618.7 1907.6,617.2 1908.4,618.7 1909.1,628.9 1909.9,621.3 1910.7,622.2 1911.4,618.9 1912.2,623.7 1912.9,626.0 1913.7,624.9 1914.4,613.4 1915.2,618.8 1915.9,632.9 1916.7,622.2 1917.5,619.6 1918.2,616.5 1919.0,611.0 1919.7,608.8 1920.5,618.2 1921.2,620.8 1922.0,615.7 1922.7,620.4 1923.5,624.9 1924.3,625.1 1925.0,629.0 1925.8,613.3 1926.5,623.7 1927.3,625.9 1928.0,623.1 1928.8,614.4 1929.6,612.1 1930.3,631.5 1931.1,617.4 1931.8,622.3 1932.6,616.4 1933.3,615.0 1934.1,622.0 1934.8,624.8 1935.6,618.8 1936.4,617.4 1937.1,624.1 1937.9,617.6 1938.6,617.3 1939.4,615.4 1940.1,620.0 1940.9,617.7 1941.6,617.2 1942.4,616.4 1943.2,619.4 1943.9,625.3 1944.7,617.5 1945.4,613.1 1946.2,631.3 1946.9,624.5 1947.7,615.8 1948.5,608.7 1949.2,626.5 1950.0,615.1 1950.7,619.8 1951.5,604.8 1952.2,625.5 1953.0,628.5 1953.7,621.2 1954.5,621.3 1955.3,622.9 1956.0,616.4 1956.8,617.3 1957.5,630.8 1958.3,622.9 1959.0,624.9 1959.8,624.3 1960.5,629.8 1961.3,624.5 1962.1,627.9 1962.8,628.6 1963.6,620.6 1964.3,622.7 1965.1,625.7 1965.8,628.2 1966.6,624.7 1967.4,624.7 1968.1,615.6 1968.9,618.5 1969.6,623.3 1970.4,619.2 1971.1,620.3 1971.9,621.1 1972.6,629.8 1973.4,615.2 1974.2,625.9 1974.9,625.0 1975.7,622.5 1976.4,616.8 1977.2,621.1 1977.9,618.0 1978.7,625.7 1979.4,620.7 1980.2,621.2 1981.0,614.9 1981.7,626.8 1982.5,607.6 1983.2,632.8 1984.0,612.5 1984.7,614.6 1985.5,615.3 1986.3,609.4 1987.0,624.1 1987.8,614.1 1988.5,613.5 1989.3,625.4 1990.0,623.1 1990.8,610.2 1991.5,612.5 1992.3,621.1 1993.1,622.7 1993.8,626.1 1994.6,622.1 1995.3,630.6 1996.1,630.1 1996.8,626.4 1997.6,624.3 1998.3,630.8 1999.1,632.3 1999.9,625.6 2000.6,623.3 2001.4,627.8 2002.1,619.9 2002.9,624.5 2003.6,626.5 2004.4,615.0 2005.2,616.5 2005.9,609.2 2006.7,617.0 2007.4,623.0 2008.2,617.3 2008.9,623.0 2009.7,620.6 2010.4,616.0 2011.2,628.8 2012.0,620.3 2012.7,627.3 2013.5,624.2 2014.2,621.7 2015.0,632.2 2015.7,619.9 2016.5,618.4 2017.2,629.5 2018.0,623.8 2018.8,616.9 2019.5,618.8 2020.3,613.1 2021.0,623.7 2021.8,627.0 2022.5,623.3 2023.3,624.7 2024.1,628.5 2024.8,622.3 2025.6,617.6 2026.3,618.6 2027.1,625.6 2027.8,625.6 2028.6,626.3 2029.3,619.1 2030.1,626.3 2030.9,635.3 2031.6,627.6 2032.4,634.5 2033.1,629.3 2033.9,626.0 2034.6,634.2 2035.4,637.0 2036.1,630.9 2036.9,634.0 2037.7,623.9 2038.4,619.7 2039.2,615.3 2039.9,625.6 2040.7,633.8 2041.4,621.6 2042.2,616.1 2043.0,624.4 2043.7,623.6 2044.5,622.9 2045.2,616.8 2046.0,631.2 2046.7,618.3 2047.5,620.3 2048.2,612.2 2049.0,624.5 2049.8,631.4 2050.5,627.5 2051.3,614.3 2052.0,625.8 2052.8,614.9 2053.5,619.9 2054.3,619.0 2055.0,625.5 2055.8,624.0 2056.6,618.9 2057.3,619.8 2058.1,628.8 2058.8,611.5 2059.6,616.8 2060.3,632.5 2061.1,621.1 2061.9,615.1 2062.6,624.4 2063.4,627.1 2064.1,616.5 2064.9,622.0 2065.6,620.0 2066.4,628.2 2067.1,625.8 2067.9,620.9 2068.7,629.7 2069.4,621.4 2070.2,636.1 2070.9,630.8 2071.7,621.1 2072.4,623.6 2073.2,628.4 2073.9,624.0 2074.7,614.1 2075.5,616.7 2076.2,616.5 2077.0,617.5 2077.7,608.6 2078.5,623.3 2079.2,636.9 2080.0,620.6 2080.8,620.8 2081.5,618.9 2082.3,623.5 2083.0,616.5 2083.8,618.1 2084.5,622.8 2085.3,606.0 2086.0,615.3 2086.8,628.4 2087.6,622.8 2088.3,618.3 2089.1,618.3 2089.8,601.4 2090.6,619.8 2091.3,613.4 2092.1,622.6 2092.8,617.3 2093.6,619.1 2094.4,606.4 2095.1,606.1 2095.9,627.9 2096.6,615.1 2097.4,614.6 2098.1,626.3 2098.9,622.4 2099.7,623.4 2100.4,630.7 2101.2,622.8 2101.9,620.3 2102.7,619.6 2103.4,610.1 2104.2,622.6 2104.9,622.9 2105.7,620.5 2106.5,639.2 2107.2,619.5 2108.0,622.9 2108.7,622.2 2109.5,623.1 2110.2,630.2 2111.0,623.8 2111.7,629.9 2112.5,641.5 2113.3,624.3 2114.0,622.5 2114.8,623.1 2115.5,633.7 2116.3,628.2 2117.0,627.7 2117.8,623.0 2118.6,621.5 2119.3,635.6 2120.1,633.8 2120.8,617.9 2121.6,617.1 2122.3,619.1 2123.1,618.8 2123.8,627.0 2124.6,630.0 2125.4,621.0 2126.1,615.9 2126.9,627.1 2127.6,630.3 2128.4,612.3 2129.1,623.0 2129.9,615.4 2130.6,615.3 2131.4,615.4 2132.2,629.0 2132.9,622.5 2133.7,616.0 2134.4,619.7 2135.2,622.3 2135.9,611.3 2136.7,624.0 2137.5,614.1 2138.2,615.8 2139.0,630.6 2139.7,604.1 2140.5,628.2 2141.2,628.8 2142.0,620.9 2142.7,629.8 2143.5,624.2 2144.3,619.7 2145.0,625.8 2145.8,620.1 2146.5,621.0 2147.3,617.2 2148.0,638.7 2148.8,628.5 2149.5,620.1 2150.3,611.6 2151.1,614.3 2151.8,614.5 2152.6,612.4 2153.3,617.9 2154.1,618.3 2154.8,629.5 2155.6,628.4 2156.4,611.4 2157.1,629.2 2157.9,614.7 2158.6,627.8 2159.4,622.9 2160.1,622.3 2160.9,624.1 2161.6,618.0 2162.4,614.6 2163.2,633.2 2163.9,612.3 2164.7,625.6 2165.4,614.9 2166.2,622.8 2166.9,619.5 2167.7,620.4 2168.4,614.3 2169.2,621.3 2170.0,630.3 2170.7,623.8 2171.5,627.2 2172.2,615.8 2173.0,617.3 2173.7,624.5 2174.5,609.8 2175.3,626.2 2176.0,619.8 2176.8,618.9 2177.5,629.9 2178.3,615.7 2179.0,630.0 2179.8,614.1 2180.5,613.8 2181.3,627.7 2182.1,628.9 2182.8,613.3 2183.6,623.1 2184.3,635.1 2185.1,623.4 2185.8,615.7 2186.6,621.8 2187.3,624.2 2188.1,623.4 2188.9,617.8 2189.6,621.1 2190.4,627.3 2191.1,629.0 2191.9,624.3 2192.6,627.4 2193.4,625.6 2194.2,614.6 2194.9,633.2 2195.7,631.7 2196.4,622.8 2197.2,620.9 2197.9,621.6 2198.7,621.4 2199.4,624.6 2200.2,625.0 2201.0,616.8 2201.7,611.8 2202.5,611.1 2203.2,627.6 2204.0,616.3 2204.7,610.3 2205.5,603.6 2206.2,622.0 2207.0,618.0 2207.8,619.0 2208.5,612.1 2209.3,616.2 2210.0,616.0 2210.8,621.0 2211.5,633.0 2212.3,618.1 2213.1,614.6 2213.8,627.9 2214.6,627.6 2215.3,619.7 2216.1,623.4 2216.8,618.1 2217.6,634.8 2218.3,626.3 2219.1,614.1 2219.9,629.4 2220.6,630.2 2221.4,615.1 2222.1,624.3 2222.9,624.4 2223.6,614.5 2224.4,613.3 2225.1,642.6 2225.9,618.1 2226.7,628.6 2227.4,629.7 2228.2,632.0 2228.9,631.5 2229.7,626.8 2230.4,621.3 2231.2,619.1 2232.0,630.3 2232.7,622.0 2233.5,634.3 2234.2,627.3 2235.0,636.8 2235.7,619.0 2236.5,640.2 2237.2,627.3 2238.0,632.5 2238.8,620.9 2239.5,633.5 2240.3,630.5 2241.0,635.8 2241.8,632.8 2242.5,641.3 2243.3,618.0 2244.0,624.9 2244.8,619.0 2245.6,626.6 2246.3,633.2 2247.1,633.0 2247.8,623.0 2248.6,617.4 2249.3,626.7 2250.1,630.5 2250.9,617.3 2251.6,627.0 2252.4,621.4 2253.1,628.8 2253.9,621.6 2254.6,632.5 2255.4,622.0 2256.1,626.0 2256.9,643.1 2257.7,608.0 2258.4,622.4 2259.2,622.9 2259.9,626.0 2260.7,626.0 2261.4,624.0 2262.2,618.2 2262.9,620.9 2263.7,625.2 2264.5,611.8 2265.2,627.4 2266.0,620.2 2266.7,628.5 2267.5,618.0 2268.2,623.2 2269.0,618.5 2269.8,625.8 2270.5,627.2 2271.3,616.4 2272.0,624.4 2272.8,619.1 2273.5,624.4 2274.3,617.4 2275.0,617.8 2275.8,623.8 2276.6,627.0 2277.3,622.9 2278.1,624.7 2278.8,619.6 2279.6,628.8 2280.3,622.7 2281.1,617.3 2281.8,633.5 2282.6,616.0 2283.4,632.0 2284.1,625.5 2284.9,627.5 2285.6,638.7 2286.4,620.8 2287.1,618.1 2287.9,615.7 2288.7,623.6 2289.4,630.7 2290.2,621.8 2290.9,622.5 2291.7,623.6 2292.4,620.2 2293.2,622.9 2293.9,613.2 2294.7,607.5 2295.5,615.6 2296.2,616.6 2297.0,627.2 2297.7,622.0 2298.5,613.3 2299.2,628.0 2300.0,625.5 2300.7,616.1 2301.5,632.9 2302.3,621.6 2303.0,616.2 2303.8,619.3 2304.5,625.8 2305.3,623.2 2306.0,614.4 2306.8,632.2 2307.6,621.5 2308.3,617.9 2309.1,621.6 2309.8,624.5 2310.6,633.8 2311.3,632.6 2312.1,612.6 2312.8,621.9 2313.6,624.1 2314.4,625.4 2315.1,629.7 2315.9,627.7 2316.6,616.4 2317.4,633.7 2318.1,627.3 2318.9,610.7 2319.6,628.2 2320.4,622.9 2321.2,612.1 2321.9,620.9 2322.7,623.6 2323.4,620.7 2324.2,614.4 2324.9,617.8 2325.7,616.9 2326.5,615.5 2327.2,621.7 2328.0,612.4 2328.7,619.8 2329.5,621.6 2330.2,624.8 2331.0,622.1 2331.7,617.2 2332.5,616.8 2333.3,616.0 2334.0,630.4 2334.8,617.6 2335.5,615.5 2336.3,618.8 2337.0,626.8 2337.8,628.0 2338.5,612.7 2339.3,629.6 2340.1,622.7 2340.8,634.4 2341.6,632.8 2342.3,619.4 2343.1,617.4 2343.8,617.1 2344.6,620.6 2345.4,625.0 2346.1,624.9 2346.9,625.2 2347.6,626.3 2348.4,620.2 2349.1,621.6 2349.9,624.4 2350.6,629.1 2351.4,620.5 2352.2,617.9 2352.9,627.0 2353.7,624.2 2354.4,625.9 2355.2,622.2 2355.9,625.8 2356.7,620.5 2357.4,618.0 2358.2,623.7 2359.0,613.0 2359.7,625.2 2360.5,633.4 2361.2,613.4 2362.0,614.3 2362.7,621.4 2363.5,612.8 2364.3,619.8 2365.0,615.0 2365.8,612.6 2366.5,620.0 2367.3,611.2 2368.0,611.2 2368.8,605.8 2369.5,617.7 2370.3,613.6 2371.1,611.0 2371.8,619.5 2372.6,614.1 2373.3,622.2 2374.1,620.9 2374.8,613.4 2375.6,612.7 2376.3,625.9 2377.1,617.2 2377.9,614.3 2378.6,618.0 2379.4,608.7 2380.1,620.6 2380.9,611.4 2381.6,623.2 2382.4,615.7 2383.2,620.5 2383.9,629.3 2384.7,626.1 2385.4,616.0 2386.2,619.6 2386.9,609.4 2387.7,617.6 2388.4,622.4 2389.2,619.3 2390.0,619.5 2390.7,614.6 2391.5,604.2 2392.2,610.9 2393.0,603.7 2393.7,616.1 2394.5,608.7 2395.2,607.2 2396.0,604.0 2396.8,612.3 2397.5,614.3 2398.3,613.8 2399.0,601.8 2399.8,615.3 2400.5,609.5 2401.3,598.8 2402.1,617.7 2402.8,615.2 2403.6,603.9 2404.3,620.1 2405.1,617.6 2405.8,625.3 2406.6,617.4 2407.3,614.8 2408.1,602.9 2408.9,626.3 2409.6,603.1 2410.4,609.2 2411.1,615.5 2411.9,608.9 2412.6,593.3 2413.4,607.6 2414.1,606.7 2414.9,616.1 2415.7,609.0 2416.4,619.3 2417.2,616.6 2417.9,617.8 2418.7,615.8 2419.4,626.7 2420.2,619.3 2421.0,619.4 2421.7,613.2 2422.5,611.0 2423.2,604.8 2424.0,600.7 2424.7,605.4 2425.5,617.9 2426.2,607.8 2427.0,611.0"/>
<polyline clip-path="url(#c2)" fill="none" stroke="#C4963A" stroke-width="11" stroke-linejoin="round" stroke-linecap="butt" points="159.0,938.7 159.8,933.0 160.5,940.3 161.3,937.0 162.0,927.0 162.8,942.9 163.5,935.9 164.3,940.0 165.0,947.3 165.8,937.2 166.6,928.6 167.3,930.8 168.1,941.1 168.8,925.6 169.6,936.1 170.3,936.7 171.1,927.3 171.9,935.5 172.6,937.9 173.4,929.8 174.1,931.6 174.9,938.1 175.6,926.7 176.4,929.3 177.1,940.6 177.9,935.1 178.7,925.6 179.4,934.3 180.2,945.9 180.9,924.1 181.7,938.2 182.4,937.3 183.2,931.1 183.9,935.4 184.7,927.1 185.5,940.4 186.2,941.2 187.0,924.7 187.7,928.6 188.5,930.5 189.2,925.7 190.0,931.6 190.8,922.8 191.5,932.6 192.3,926.9 193.0,928.2 193.8,931.2 194.5,933.7 195.3,921.5 196.0,932.1 196.8,932.3 197.6,925.7 198.3,935.5 199.1,920.7 199.8,921.5 200.6,926.8 201.3,919.6 202.1,931.9 202.8,924.0 203.6,932.9 204.4,915.3 205.1,915.6 205.9,929.5 206.6,914.6 207.4,927.8 208.1,916.3 208.9,923.2 209.7,929.2 210.4,922.0 211.2,915.8 211.9,920.4 212.7,931.1 213.4,925.8 214.2,929.6 214.9,926.3 215.7,928.1 216.5,925.7 217.2,921.1 218.0,931.2 218.7,929.4 219.5,916.4 220.2,929.1 221.0,935.4 221.7,941.7 222.5,921.6 223.3,931.0 224.0,934.0 224.8,935.5 225.5,926.8 226.3,934.6 227.0,929.1 227.8,931.8 228.6,929.1 229.3,934.6 230.1,930.5 230.8,935.0 231.6,932.6 232.3,938.9 233.1,943.5 233.8,932.4 234.6,928.1 235.4,931.0 236.1,928.8 236.9,921.5 237.6,931.6 238.4,928.0 239.1,936.3 239.9,929.5 240.6,935.6 241.4,934.2 242.2,925.9 242.9,926.5 243.7,924.7 244.4,924.6 245.2,931.9 245.9,923.0 246.7,922.9 247.5,919.8 248.2,932.8 249.0,921.3 249.7,921.9 250.5,916.8 251.2,923.0 252.0,916.2 252.7,916.5 253.5,907.6 254.3,909.7 255.0,920.8 255.8,924.1 256.5,909.0 257.3,920.3 258.0,920.5 258.8,936.9 259.5,913.3 260.3,915.4 261.1,913.2 261.8,924.9 262.6,926.3 263.3,918.2 264.1,929.3 264.8,933.0 265.6,917.2 266.4,923.6 267.1,919.2 267.9,916.8 268.6,918.2 269.4,920.1 270.1,914.1 270.9,922.1 271.6,928.1 272.4,917.9 273.2,920.9 273.9,918.7 274.7,926.8 275.4,923.8 276.2,929.9 276.9,921.8 277.7,914.1 278.4,926.1 279.2,920.0 280.0,928.2 280.7,925.0 281.5,903.7 282.2,907.3 283.0,919.4 283.7,914.5 284.5,905.3 285.3,916.1 286.0,927.8 286.8,924.2 287.5,915.3 288.3,923.2 289.0,928.2 289.8,921.3 290.5,933.8 291.3,918.7 292.1,936.3 292.8,932.7 293.6,926.2 294.3,924.1 295.1,922.4 295.8,915.9 296.6,927.1 297.3,928.2 298.1,924.4 298.9,920.5 299.6,918.7 300.4,911.5 301.1,912.6 301.9,907.2 302.6,918.7 303.4,909.7 304.2,920.2 304.9,910.7 305.7,923.5 306.4,924.3 307.2,923.9 307.9,921.4 308.7,912.3 309.4,912.0 310.2,909.2 311.0,915.5 311.7,923.6 312.5,906.1 313.2,927.5 314.0,908.6 314.7,904.5 315.5,913.5 316.2,917.8 317.0,908.7 317.8,904.4 318.5,921.4 319.3,903.7 320.0,916.6 320.8,911.4 321.5,908.2 322.3,910.8 323.1,903.8 323.8,903.6 324.6,912.4 325.3,904.1 326.1,905.7 326.8,919.5 327.6,921.7 328.3,917.5 329.1,916.3 329.9,909.4 330.6,911.8 331.4,907.0 332.1,894.7 332.9,913.8 333.6,914.5 334.4,919.8 335.1,906.8 335.9,921.9 336.7,911.9 337.4,908.0 338.2,914.3 338.9,921.7 339.7,915.9 340.4,918.5 341.2,910.0 342.0,918.0 342.7,920.6 343.5,908.5 344.2,915.9 345.0,904.4 345.7,913.5 346.5,902.2 347.2,913.5 348.0,910.6 348.8,903.4 349.5,912.4 350.3,904.0 351.0,910.6 351.8,904.5 352.5,913.6 353.3,906.8 354.0,919.2 354.8,913.1 355.6,913.6 356.3,901.8 357.1,896.9 357.8,904.5 358.6,920.2 359.3,902.7 360.1,915.5 360.9,915.2 361.6,903.2 362.4,904.9 363.1,913.7 363.9,903.5 364.6,902.0 365.4,900.5 366.1,904.1 366.9,902.6 367.7,910.6 368.4,904.1 369.2,909.7 369.9,901.5 370.7,917.4 371.4,901.0 372.2,900.7 372.9,896.6 373.7,891.0 374.5,896.1 375.2,902.8 376.0,895.4 376.7,906.8 377.5,891.9 378.2,891.9 379.0,904.5 379.8,905.4 380.5,896.5 381.3,910.7 382.0,913.1 382.8,907.2 383.5,897.5 384.3,913.6 385.0,904.5 385.8,905.5 386.6,909.7 387.3,902.5 388.1,916.0 388.8,902.6 389.6,912.7 390.3,910.4 391.1,916.0 391.8,907.6 392.6,909.2 393.4,900.9 394.1,901.4 394.9,898.7 395.6,906.8 396.4,897.9 397.1,911.2 397.9,901.2 398.7,894.6 399.4,897.9 400.2,909.2 400.9,899.1 401.7,905.7 402.4,892.2 403.2,904.5 403.9,906.2 404.7,904.1 405.5,905.4 406.2,893.9 407.0,889.2 407.7,890.7 408.5,903.3 409.2,900.0 410.0,901.9 410.7,892.9 411.5,900.9 412.3,886.0 413.0,897.7 413.8,888.5 414.5,892.1 415.3,898.6 416.0,899.8 416.8,893.3 417.6,891.9 418.3,902.3 419.1,900.2 419.8,889.5 420.6,895.3 421.3,892.0 422.1,899.1 422.8,895.8 423.6,895.6 424.4,893.4 425.1,889.4 425.9,899.3 426.6,894.9 427.4,877.9 428.1,889.6 428.9,893.3 429.6,886.8 430.4,885.4 431.2,887.0 431.9,892.9 432.7,884.9 433.4,893.1 434.2,899.5 434.9,897.4 435.7,898.3 436.5,891.6 437.2,901.0 438.0,894.6 438.7,900.7 439.5,889.0 440.2,904.2 441.0,893.3 441.7,897.3 442.5,903.5 443.3,896.8 444.0,893.5 444.8,894.8 445.5,901.9 446.3,901.3 447.0,897.8 447.8,889.1 448.5,889.8 449.3,895.7 450.1,895.7 450.8,886.2 451.6,885.8 452.3,893.8 453.1,895.7 453.8,888.9 454.6,880.5 455.4,896.9 456.1,886.7 456.9,888.6 457.6,871.8 458.4,879.8 459.1,882.4 459.9,884.9 460.6,877.0 461.4,872.6 462.2,871.5 462.9,879.0 463.7,883.0 464.4,882.7 465.2,870.5 465.9,876.7 466.7,880.5 467.4,887.3 468.2,884.7 469.0,883.0 469.7,871.4 470.5,888.6 471.2,881.8 472.0,884.1 472.7,879.2 473.5,882.7 474.3,882.5 475.0,882.8 475.8,880.6 476.5,890.9 477.3,893.0 478.0,884.8 478.8,883.5 479.5,883.9 480.3,887.4 481.1,898.1 481.8,888.5 482.6,900.4 483.3,881.3 484.1,881.9 484.8,883.3 485.6,882.3 486.3,888.9 487.1,896.7 487.9,880.6 488.6,886.2 489.4,891.2 490.1,896.7 490.9,882.3 491.6,886.0 492.4,887.2 493.2,879.0 493.9,881.4 494.7,875.4 495.4,872.0 496.2,873.9 496.9,884.9 497.7,886.5 498.4,880.5 499.2,872.2 500.0,887.9 500.7,881.1 501.5,890.9 502.2,883.0 503.0,875.8 503.7,881.5 504.5,879.4 505.2,893.3 506.0,869.7 506.8,879.9 507.5,881.4 508.3,870.6 509.0,885.4 509.8,886.1 510.5,887.1 511.3,886.5 512.1,880.3 512.8,886.1 513.6,877.1 514.3,879.7 515.1,880.5 515.8,879.4 516.6,882.1 517.3,875.0 518.1,878.5 518.9,876.0 519.6,880.4 520.4,882.3 521.1,876.2 521.9,890.0 522.6,893.3 523.4,885.0 524.1,882.2 524.9,877.7 525.7,880.3 526.4,879.8 527.2,885.1 527.9,880.5 528.7,884.6 529.4,883.5 530.2,877.0 531.0,871.8 531.7,872.8 532.5,873.7 533.2,880.3 534.0,888.1 534.7,875.7 535.5,885.8 536.2,881.3 537.0,890.6 537.8,897.1 538.5,890.2 539.3,886.1 540.0,887.3 540.8,892.3 541.5,882.4 542.3,879.2 543.0,884.7 543.8,893.0 544.6,878.3 545.3,888.9 546.1,886.9 546.8,879.6 547.6,875.6 548.3,870.0 549.1,872.6 549.9,880.4 550.6,883.8 551.4,875.4 552.1,875.7 552.9,874.6 553.6,894.3 554.4,871.0 555.1,870.4 555.9,886.0 556.7,872.7 557.4,885.3 558.2,873.8 558.9,884.7 559.7,886.3 560.4,874.3 561.2,876.2 561.9,869.3 562.7,879.7 563.5,871.3 564.2,866.4 565.0,873.8 565.7,872.3 566.5,868.8 567.2,865.6 568.0,873.5 568.8,863.0 569.5,861.3 570.3,864.8 571.0,869.4 571.8,863.9 572.5,862.5 573.3,860.4 574.0,862.2 574.8,863.5 575.6,880.4 576.3,857.9 577.1,866.7 577.8,870.7 578.6,865.5 579.3,864.3 580.1,875.7 580.8,881.2 581.6,879.9 582.4,873.4 583.1,870.7 583.9,877.5 584.6,863.1 585.4,867.8 586.1,881.7 586.9,874.9 587.7,872.9 588.4,870.4 589.2,868.8 589.9,865.6 590.7,874.1 591.4,873.4 592.2,873.2 592.9,854.7 593.7,877.6 594.5,874.7 595.2,878.9 596.0,865.4 596.7,855.0 597.5,859.8 598.2,861.7 599.0,878.6 599.7,860.2 600.5,860.4 601.3,867.4 602.0,864.5 602.8,862.2 603.5,850.3 604.3,861.4 605.0,848.8 605.8,837.5 606.6,841.6 607.3,826.9 608.1,824.9 608.8,825.8 609.6,820.8 610.3,824.1 611.1,823.0 611.8,824.9 612.6,824.0 613.4,838.5 614.1,828.1 614.9,834.0 615.6,834.9 616.4,840.2 617.1,839.1 617.9,863.3 618.6,851.5 619.4,861.0 620.2,856.1 620.9,852.4 621.7,859.0 622.4,859.4 623.2,857.0 623.9,866.0 624.7,875.8 625.5,867.3 626.2,872.6 627.0,874.1 627.7,853.9 628.5,877.5 629.2,857.4 630.0,876.9 630.7,866.8 631.5,869.3 632.3,879.5 633.0,872.6 633.8,856.5 634.5,855.7 635.3,860.0 636.0,874.1 636.8,870.4 637.5,874.5 638.3,872.1 639.1,877.4 639.8,863.8 640.6,859.2 641.3,866.7 642.1,876.2 642.8,865.2 643.6,857.2 644.4,868.6 645.1,876.5 645.9,875.1 646.6,870.7 647.4,870.0 648.1,860.4 648.9,873.6 649.6,885.8 650.4,871.4 651.2,884.9 651.9,867.5 652.7,873.0 653.4,873.0 654.2,876.2 654.9,865.7 655.7,884.5 656.4,875.5 657.2,864.4 658.0,882.1 658.7,879.1 659.5,870.5 660.2,877.8 661.0,883.6 661.7,882.8 662.5,880.6 663.3,874.3 664.0,880.1 664.8,886.2 665.5,891.6 666.3,881.8 667.0,882.8 667.8,883.6 668.5,875.8 669.3,866.3 670.1,873.4 670.8,875.4 671.6,877.6 672.3,875.9 673.1,871.0 673.8,871.8 674.6,873.4 675.3,869.3 676.1,869.4 676.9,863.7 677.6,872.1 678.4,874.9 679.1,870.1 679.9,872.5 680.6,874.7 681.4,867.3 682.2,870.1 682.9,868.4 683.7,876.9 684.4,867.1 685.2,874.1 685.9,861.4 686.7,884.7 687.4,877.3 688.2,868.9 689.0,873.6 689.7,885.8 690.5,874.8 691.2,865.2 692.0,874.4 692.7,871.9 693.5,878.4 694.2,876.7 695.0,866.2 695.8,878.0 696.5,882.9 697.3,886.0 698.0,879.9 698.8,889.6 699.5,887.3 700.3,883.4 701.1,888.5 701.8,863.5 702.6,887.1 703.3,888.5 704.1,879.1 704.8,884.9 705.6,875.9 706.3,878.9 707.1,878.8 707.9,873.2 708.6,878.1 709.4,868.0 710.1,877.6 710.9,888.3 711.6,888.8 712.4,876.1 713.1,886.2 713.9,877.0 714.7,865.7 715.4,868.9 716.2,871.6 716.9,871.0 717.7,874.5 718.4,865.5 719.2,866.9 720.0,875.5 720.7,869.6 721.5,871.1 722.2,868.0 723.0,872.6 723.7,872.9 724.5,863.4 725.2,875.2 726.0,864.1 726.8,870.3 727.5,866.3 728.3,872.3 729.0,870.0 729.8,872.0 730.5,869.5 731.3,868.2 732.0,870.4 732.8,869.3 733.6,864.6 734.3,860.3 735.1,873.4 735.8,878.3 736.6,864.4 737.3,873.6 738.1,866.7 738.9,871.7 739.6,876.0 740.4,872.9 741.1,869.2 741.9,858.8 742.6,869.7 743.4,871.0 744.1,879.0 744.9,867.3 745.7,871.2 746.4,873.2 747.2,880.0 747.9,865.0 748.7,877.6 749.4,872.0 750.2,868.7 750.9,864.6 751.7,867.3 752.5,878.7 753.2,870.8 754.0,868.5 754.7,872.2 755.5,883.2 756.2,881.3 757.0,880.5 757.8,881.5 758.5,880.2 759.3,872.8 760.0,868.5 760.8,882.7 761.5,874.3 762.3,875.7 763.0,872.1 763.8,878.2 764.6,883.6 765.3,873.0 766.1,876.7 766.8,876.4 767.6,880.4 768.3,876.5 769.1,876.9 769.8,873.1 770.6,877.0 771.4,872.2 772.1,880.9 772.9,875.3 773.6,885.9 774.4,871.3 775.1,868.8 775.9,880.4 776.7,878.4 777.4,865.9 778.2,890.2 778.9,873.0 779.7,881.0 780.4,871.7 781.2,878.5 781.9,881.1 782.7,871.4 783.5,876.6 784.2,879.8 785.0,887.0 785.7,880.4 786.5,882.8 787.2,877.6 788.0,878.1 788.7,877.1 789.5,872.1 790.3,861.9 791.0,862.7 791.8,875.0 792.5,875.8 793.3,873.3 794.0,869.3 794.8,870.0 795.6,865.5 796.3,880.9 797.1,863.8 797.8,884.7 798.6,872.6 799.3,891.6 800.1,879.6 800.8,875.4 801.6,878.8 802.4,875.8 803.1,888.7 803.9,879.6 804.6,881.6 805.4,875.0 806.1,884.0 806.9,871.2 807.6,876.1 808.4,887.6 809.2,866.8 809.9,880.9 810.7,885.9 811.4,878.9 812.2,886.8 812.9,885.1 813.7,880.0 814.5,866.9 815.2,873.5 816.0,874.2 816.7,882.2 817.5,875.4 818.2,874.0 819.0,867.8 819.7,874.5 820.5,877.1 821.3,860.6 822.0,875.3 822.8,877.9 823.5,873.9 824.3,874.5 825.0,871.8 825.8,880.6 826.5,871.5 827.3,882.0 828.1,876.7 828.8,862.5 829.6,872.3 830.3,875.7 831.1,879.1 831.8,874.6 832.6,873.0 833.4,878.9 834.1,883.7 834.9,863.0 835.6,870.3 836.4,884.6 837.1,876.1 837.9,868.4 838.6,885.0 839.4,886.6 840.2,873.1 840.9,879.1 841.7,874.4 842.4,876.4 843.2,880.1 843.9,872.3 844.7,873.4 845.4,871.9 846.2,863.3 847.0,876.7 847.7,879.2 848.5,875.3 849.2,874.8 850.0,879.8 850.7,870.7 851.5,868.8 852.3,878.3 853.0,876.6 853.8,886.5 854.5,867.1 855.3,875.6 856.0,868.3 856.8,888.8 857.5,873.1 858.3,880.1 859.1,861.5 859.8,868.9 860.6,879.1 861.3,871.4 862.1,869.7 862.8,877.3 863.6,873.5 864.3,873.3 865.1,874.0 865.9,869.5 866.6,882.1 867.4,879.4 868.1,873.0 868.9,872.3 869.6,864.1 870.4,869.5 871.2,885.5 871.9,871.0 872.7,876.5 873.4,889.8 874.2,886.6 874.9,882.3 875.7,882.7 876.4,877.9 877.2,880.6 878.0,879.2 878.7,886.4 879.5,882.3 880.2,872.4 881.0,884.9 881.7,880.8 882.5,882.0 883.2,882.5 884.0,879.3 884.8,875.7 885.5,882.4 886.3,881.6 887.0,873.2 887.8,873.8 888.5,876.6 889.3,878.4 890.1,875.1 890.8,867.1 891.6,883.0 892.3,871.8 893.1,869.0 893.8,871.0 894.6,876.6 895.3,875.0 896.1,862.4 896.9,867.1 897.6,866.9 898.4,872.1 899.1,877.6 899.9,872.9 900.6,888.9 901.4,882.3 902.1,885.9 902.9,881.4 903.7,869.3 904.4,879.8 905.2,867.7 905.9,870.4 906.7,877.7 907.4,876.5 908.2,880.0 909.0,874.6 909.7,882.7 910.5,881.1 911.2,878.4 912.0,872.0 912.7,873.0 913.5,883.2 914.2,894.1 915.0,874.6 915.8,878.8 916.5,872.8 917.3,863.5 918.0,882.5 918.8,880.0 919.5,883.4 920.3,875.5 921.0,874.4 921.8,888.5 922.6,873.7 923.3,883.4 924.1,884.7 924.8,878.5 925.6,874.7 926.3,879.3 927.1,866.6 927.9,875.2 928.6,874.2 929.4,867.5 930.1,873.9 930.9,880.7 931.6,889.1 932.4,868.0 933.1,877.2 933.9,877.1 934.7,872.7 935.4,871.2 936.2,878.0 936.9,879.8 937.7,867.2 938.4,885.7 939.2,876.2 939.9,878.3 940.7,874.8 941.5,886.3 942.2,871.2 943.0,876.6 943.7,880.6 944.5,874.2 945.2,878.3 946.0,882.6 946.8,886.3 947.5,877.5 948.3,875.1 949.0,879.9 949.8,876.6 950.5,868.3 951.3,878.2 952.0,869.2 952.8,863.2 953.6,871.9 954.3,866.5 955.1,854.9 955.8,860.0 956.6,847.5 957.3,843.8 958.1,836.2 958.8,842.3 959.6,830.8 960.4,829.7 961.1,812.7 961.9,812.6 962.6,800.0 963.4,801.9 964.1,799.8 964.9,798.7 965.7,789.5 966.4,805.7 967.2,791.1 967.9,811.3 968.7,807.3 969.4,819.3 970.2,811.8 970.9,824.2 971.7,832.4 972.5,847.5 973.2,842.0 974.0,855.0 974.7,851.0 975.5,861.8 976.2,857.1 977.0,861.3 977.7,869.8 978.5,859.4 979.3,859.9 980.0,873.2 980.8,887.2 981.5,885.0 982.3,878.3 983.0,882.9 983.8,881.7 984.6,883.7 985.3,890.8 986.1,875.7 986.8,875.9 987.6,871.7 988.3,878.5 989.1,890.3 989.8,883.8 990.6,876.5 991.4,880.8 992.1,882.0 992.9,891.4 993.6,888.5 994.4,888.5 995.1,894.0 995.9,890.3 996.6,894.2 997.4,883.2 998.2,882.7 998.9,886.5 999.7,901.5 1000.4,882.3 1001.2,890.3 1001.9,892.3 1002.7,883.0 1003.5,880.9 1004.2,900.4 1005.0,886.5 1005.7,884.5 1006.5,888.4 1007.2,886.2 1008.0,876.2 1008.7,873.8 1009.5,882.7 1010.3,878.7 1011.0,882.7 1011.8,875.5 1012.5,898.2 1013.3,885.1 1014.0,894.4 1014.8,879.1 1015.5,881.5 1016.3,879.2 1017.1,882.7 1017.8,885.2 1018.6,879.6 1019.3,876.4 1020.1,878.8 1020.8,881.9 1021.6,888.3 1022.4,873.8 1023.1,878.6 1023.9,885.7 1024.6,891.3 1025.4,880.2 1026.1,884.6 1026.9,881.2 1027.6,880.6 1028.4,882.8 1029.2,878.3 1029.9,879.9 1030.7,879.2 1031.4,890.3 1032.2,880.5 1032.9,890.4 1033.7,879.4 1034.4,880.8 1035.2,874.7 1036.0,880.8 1036.7,888.2 1037.5,889.6 1038.2,873.6 1039.0,895.6 1039.7,883.0 1040.5,884.8 1041.3,888.2 1042.0,883.1 1042.8,878.0 1043.5,883.9 1044.3,881.6 1045.0,895.7 1045.8,884.1 1046.5,870.0 1047.3,891.5 1048.1,886.6 1048.8,882.3 1049.6,870.8 1050.3,899.2 1051.1,879.3 1051.8,878.9 1052.6,877.2 1053.3,881.6 1054.1,880.0 1054.9,882.4 1055.6,883.5 1056.4,880.9 1057.1,887.8 1057.9,875.1 1058.6,887.7 1059.4,884.8 1060.2,883.3 1060.9,888.2 1061.7,886.0 1062.4,886.4 1063.2,882.8 1063.9,880.8 1064.7,877.2 1065.4,878.7 1066.2,882.4 1067.0,891.2 1067.7,884.7 1068.5,886.6 1069.2,879.1 1070.0,876.0 1070.7,885.5 1071.5,899.0 1072.2,877.9 1073.0,892.7 1073.8,877.6 1074.5,877.4 1075.3,879.1 1076.0,879.6 1076.8,889.9 1077.5,886.1 1078.3,885.5 1079.1,881.7 1079.8,890.5 1080.6,895.8 1081.3,886.5 1082.1,882.3 1082.8,877.9 1083.6,882.1 1084.3,876.2 1085.1,891.5 1085.9,878.5 1086.6,889.8 1087.4,875.2 1088.1,887.5 1088.9,885.6 1089.6,886.5 1090.4,883.6 1091.1,875.4 1091.9,898.2 1092.7,873.3 1093.4,888.7 1094.2,881.1 1094.9,875.8 1095.7,887.5 1096.4,891.7 1097.2,889.5 1098.0,875.5 1098.7,879.3 1099.5,887.5 1100.2,886.6 1101.0,889.9 1101.7,883.0 1102.5,873.4 1103.2,876.5 1104.0,885.3 1104.8,877.1 1105.5,874.7 1106.3,886.5 1107.0,891.0 1107.8,878.6 1108.5,881.3 1109.3,881.8 1110.0,888.2 1110.8,881.2 1111.6,881.5 1112.3,883.1 1113.1,876.3 1113.8,892.1 1114.6,893.9 1115.3,885.3 1116.1,886.1 1116.9,887.0 1117.6,886.1 1118.4,881.5 1119.1,890.2 1119.9,890.5 1120.6,892.2 1121.4,879.8 1122.1,886.7 1122.9,877.3 1123.7,896.0 1124.4,875.3 1125.2,883.2 1125.9,893.1 1126.7,872.7 1127.4,883.5 1128.2,872.2 1128.9,887.5 1129.7,879.3 1130.5,877.7 1131.2,875.3 1132.0,884.0 1132.7,881.5 1133.5,884.9 1134.2,885.7 1135.0,877.3 1135.8,882.5 1136.5,888.9 1137.3,884.3 1138.0,883.8 1138.8,882.1 1139.5,878.8 1140.3,881.7 1141.0,881.3 1141.8,896.6 1142.6,879.8 1143.3,875.4 1144.1,883.6 1144.8,879.8 1145.6,877.3 1146.3,886.0 1147.1,879.9 1147.8,876.1 1148.6,884.6 1149.4,893.1 1150.1,889.3 1150.9,883.0 1151.6,883.4 1152.4,881.5 1153.1,886.1 1153.9,880.6 1154.7,884.1 1155.4,881.0 1156.2,883.2 1156.9,869.8 1157.7,881.8 1158.4,878.5 1159.2,880.0 1159.9,884.3 1160.7,874.3 1161.5,876.7 1162.2,883.1 1163.0,882.4 1163.7,887.6 1164.5,884.1 1165.2,872.3 1166.0,884.5 1166.7,881.1 1167.5,882.8 1168.3,888.1 1169.0,882.7 1169.8,880.9 1170.5,872.5 1171.3,879.6 1172.0,887.3 1172.8,885.6 1173.6,875.1 1174.3,874.1 1175.1,880.2 1175.8,885.3 1176.6,878.0 1177.3,890.7 1178.1,895.3 1178.8,875.4 1179.6,894.3 1180.4,893.4 1181.1,868.8 1181.9,870.6 1182.6,879.0 1183.4,879.2 1184.1,873.2 1184.9,877.6 1185.6,881.6 1186.4,870.7 1187.2,861.7 1187.9,872.9 1188.7,879.2 1189.4,883.0 1190.2,880.3 1190.9,856.8 1191.7,866.3 1192.5,873.0 1193.2,868.5 1194.0,877.2 1194.7,876.8 1195.5,879.6 1196.2,883.2 1197.0,871.3 1197.7,885.6 1198.5,866.3 1199.3,868.5 1200.0,868.2 1200.8,869.4 1201.5,878.7 1202.3,884.6 1203.0,864.7 1203.8,877.7 1204.5,879.9 1205.3,873.4 1206.1,858.3 1206.8,872.3 1207.6,873.8 1208.3,855.9 1209.1,862.3 1209.8,870.2 1210.6,864.1 1211.4,867.1 1212.1,866.0 1212.9,848.5 1213.6,847.0 1214.4,858.2 1215.1,849.1 1215.9,855.1 1216.6,852.3 1217.4,843.2 1218.2,853.8 1218.9,851.0 1219.7,845.0 1220.4,846.6 1221.2,847.5 1221.9,854.3 1222.7,860.0 1223.4,859.2 1224.2,856.5 1225.0,850.8 1225.7,861.5 1226.5,861.9 1227.2,859.9 1228.0,859.8 1228.7,876.1 1229.5,876.9 1230.3,860.0 1231.0,875.5 1231.8,872.8 1232.5,882.2 1233.3,866.8 1234.0,878.5 1234.8,869.7 1235.5,872.3 1236.3,875.7 1237.1,880.8 1237.8,876.5 1238.6,866.8 1239.3,882.2 1240.1,877.7 1240.8,877.0 1241.6,868.5 1242.3,877.0 1243.1,887.3 1243.9,888.3 1244.6,883.7 1245.4,875.6 1246.1,885.8 1246.9,875.7 1247.6,885.7 1248.4,877.3 1249.2,870.9 1249.9,882.7 1250.7,880.9 1251.4,880.5 1252.2,873.4 1252.9,872.1 1253.7,885.1 1254.4,877.7 1255.2,887.7 1256.0,887.5 1256.7,870.7 1257.5,874.9 1258.2,860.7 1259.0,876.5 1259.7,872.9 1260.5,878.5 1261.2,875.1 1262.0,874.2 1262.8,872.9 1263.5,873.6 1264.3,886.4 1265.0,883.4 1265.8,893.3 1266.5,885.5 1267.3,878.8 1268.1,878.7 1268.8,892.0 1269.6,870.7 1270.3,883.1 1271.1,881.5 1271.8,869.6 1272.6,889.1 1273.3,882.3 1274.1,880.6 1274.9,876.4 1275.6,881.1 1276.4,880.3 1277.1,887.1 1277.9,878.7 1278.6,895.6 1279.4,876.9 1280.1,881.5 1280.9,876.8 1281.7,886.1 1282.4,878.6 1283.2,890.4 1283.9,888.1 1284.7,884.8 1285.4,872.2 1286.2,882.6 1287.0,882.3 1287.7,886.6 1288.5,874.0 1289.2,886.3 1290.0,886.1 1290.7,880.9 1291.5,882.5 1292.2,877.0 1293.0,885.1 1293.8,871.2 1294.5,873.7 1295.3,893.2 1296.0,876.5 1296.8,876.4 1297.5,870.8 1298.3,874.9 1299.0,878.2 1299.8,869.6 1300.6,868.2 1301.3,874.9 1302.1,887.8 1302.8,876.7 1303.6,895.1 1304.3,887.2 1305.1,884.3 1305.9,878.0 1306.6,884.7 1307.4,899.6 1308.1,874.2 1308.9,885.2 1309.6,893.4 1310.4,889.2 1311.1,883.9 1311.9,880.2 1312.7,888.4 1313.4,871.5 1314.2,893.0 1314.9,876.1 1315.7,868.5 1316.4,878.4 1317.2,878.9 1317.9,877.3 1318.7,869.2 1319.5,874.6 1320.2,884.0 1321.0,881.8 1321.7,887.0 1322.5,881.3 1323.2,874.1 1324.0,879.3 1324.8,882.0 1325.5,883.3 1326.3,884.0 1327.0,883.8 1327.8,886.5 1328.5,886.7 1329.3,877.1 1330.0,889.1 1330.8,886.0 1331.6,879.6 1332.3,883.0 1333.1,880.4 1333.8,883.0 1334.6,870.2 1335.3,870.1 1336.1,887.1 1336.8,879.8 1337.6,890.7 1338.4,891.9 1339.1,884.9 1339.9,894.9 1340.6,877.9 1341.4,885.3 1342.1,876.6 1342.9,886.0 1343.7,892.2 1344.4,886.7 1345.2,887.9 1345.9,880.1 1346.7,888.1 1347.4,882.0 1348.2,887.7 1348.9,882.8 1349.7,893.3 1350.5,891.7 1351.2,890.8 1352.0,893.6 1352.7,896.7 1353.5,889.1 1354.2,884.7 1355.0,885.2 1355.7,899.0 1356.5,890.7 1357.3,881.1 1358.0,880.8 1358.8,894.0 1359.5,884.3 1360.3,895.9 1361.0,893.9 1361.8,882.3 1362.6,881.6 1363.3,877.2 1364.1,887.4 1364.8,873.9 1365.6,884.9 1366.3,879.7 1367.1,891.4 1367.8,879.7 1368.6,877.0 1369.4,885.3 1370.1,875.2 1370.9,885.5 1371.6,879.2 1372.4,877.2 1373.1,878.6 1373.9,878.8 1374.6,872.3 1375.4,883.3 1376.2,878.8 1376.9,875.0 1377.7,886.3 1378.4,879.2 1379.2,887.3 1379.9,865.5 1380.7,884.3 1381.5,876.1 1382.2,885.0 1383.0,874.4 1383.7,870.1 1384.5,868.4 1385.2,874.0 1386.0,861.0 1386.7,867.6 1387.5,862.9 1388.3,882.7 1389.0,870.8 1389.8,865.2 1390.5,849.4 1391.3,865.1 1392.0,861.6 1392.8,864.8 1393.5,865.3 1394.3,860.8 1395.1,857.5 1395.8,864.0 1396.6,865.3 1397.3,866.1 1398.1,866.6 1398.8,869.5 1399.6,861.8 1400.4,872.2 1401.1,864.0 1401.9,867.0 1402.6,862.5 1403.4,866.2 1404.1,873.6 1404.9,866.1 1405.6,863.4 1406.4,862.6 1407.2,857.8 1407.9,853.3 1408.7,847.7 1409.4,860.9 1410.2,863.1 1410.9,863.9 1411.7,847.6 1412.4,853.9 1413.2,860.9 1414.0,855.0 1414.7,861.5 1415.5,862.1 1416.2,847.7 1417.0,860.2 1417.7,853.6 1418.5,850.5 1419.3,855.0 1420.0,848.6 1420.8,842.1 1421.5,857.2 1422.3,855.2 1423.0,855.0 1423.8,852.6 1424.5,842.8 1425.3,851.3 1426.1,861.5 1426.8,853.6 1427.6,851.2 1428.3,852.3 1429.1,849.1 1429.8,850.2 1430.6,849.5 1431.3,844.7 1432.1,846.9 1432.9,847.1 1433.6,846.9 1434.4,861.1 1435.1,842.8 1435.9,836.5 1436.6,842.5 1437.4,831.6 1438.2,852.7 1438.9,837.0 1439.7,838.9 1440.4,840.3 1441.2,844.0 1441.9,834.2 1442.7,839.0 1443.4,834.6 1444.2,834.6 1445.0,836.9 1445.7,827.0 1446.5,837.0 1447.2,822.9 1448.0,823.0 1448.7,805.7 1449.5,797.6 1450.2,777.5 1451.0,766.9 1451.8,736.0 1452.5,698.6 1453.3,654.1 1454.0,622.6 1454.8,548.9 1455.5,519.5 1456.3,519.5 1457.1,519.5 1457.8,519.5 1458.6,519.5 1459.3,519.5 1460.1,519.5 1460.8,519.5 1461.6,519.5 1462.3,519.5 1463.1,519.5 1463.9,519.5 1464.6,519.5 1465.4,519.5 1466.1,519.5 1466.9,519.5 1467.6,519.5 1468.4,519.5 1469.1,519.5 1469.9,519.5 1470.7,519.5 1471.4,519.5 1472.2,519.5 1472.9,519.5 1473.7,519.5 1474.4,519.5 1475.2,519.5 1476.0,519.5 1476.7,519.5 1477.5,519.5 1478.2,519.5 1479.0,519.5 1479.7,519.5 1480.5,519.5 1481.2,577.2 1482.0,635.0 1482.8,681.6 1483.5,715.6 1484.3,751.0 1485.0,775.5 1485.8,786.7 1486.5,801.2 1487.3,820.3 1488.0,811.4 1488.8,825.2 1489.6,839.0 1490.3,837.6 1491.1,838.3 1491.8,846.0 1492.6,844.7 1493.3,841.5 1494.1,833.5 1494.9,829.9 1495.6,833.2 1496.4,846.7 1497.1,835.5 1497.9,837.3 1498.6,847.7 1499.4,839.9 1500.1,845.0 1500.9,835.0 1501.7,840.7 1502.4,841.2 1503.2,841.2 1503.9,836.3 1504.7,841.5 1505.4,852.4 1506.2,848.3 1506.9,852.7 1507.7,843.6 1508.5,859.7 1509.2,844.7 1510.0,846.5 1510.7,851.4 1511.5,846.0 1512.2,850.0 1513.0,858.2 1513.8,852.0 1514.5,846.2 1515.3,856.4 1516.0,845.3 1516.8,846.3 1517.5,851.1 1518.3,852.1 1519.0,837.7 1519.8,853.6 1520.6,849.2 1521.3,845.6 1522.1,846.8 1522.8,848.6 1523.6,847.1 1524.3,863.7 1525.1,867.9 1525.8,859.9 1526.6,861.7 1527.4,862.8 1528.1,870.8 1528.9,866.9 1529.6,875.8 1530.4,868.6 1531.1,874.8 1531.9,856.6 1532.7,860.1 1533.4,867.1 1534.2,864.8 1534.9,860.8 1535.7,858.9 1536.4,856.2 1537.2,865.3 1537.9,862.6 1538.7,869.4 1539.5,860.9 1540.2,864.5 1541.0,867.4 1541.7,868.8 1542.5,860.5 1543.2,863.4 1544.0,874.4 1544.7,848.9 1545.5,865.1 1546.3,865.0 1547.0,861.1 1547.8,851.7 1548.5,862.5 1549.3,858.6 1550.0,860.0 1550.8,858.1 1551.6,856.5 1552.3,863.4 1553.1,855.8 1553.8,869.5 1554.6,865.8 1555.3,862.7 1556.1,866.7 1556.8,872.3 1557.6,865.7 1558.4,873.6 1559.1,885.1 1559.9,870.7 1560.6,873.1 1561.4,867.0 1562.1,870.9 1562.9,866.2 1563.6,880.4 1564.4,866.2 1565.2,874.1 1565.9,866.3 1566.7,870.6 1567.4,864.0 1568.2,862.9 1568.9,877.3 1569.7,875.2 1570.5,869.7 1571.2,865.8 1572.0,866.5 1572.7,859.8 1573.5,867.3 1574.2,874.5 1575.0,860.1 1575.7,879.4 1576.5,865.8 1577.3,873.6 1578.0,867.0 1578.8,856.5 1579.5,855.1 1580.3,872.1 1581.0,870.4 1581.8,856.9 1582.5,875.6 1583.3,861.5 1584.1,880.0 1584.8,859.2 1585.6,867.8 1586.3,861.7 1587.1,856.1 1587.8,865.1 1588.6,855.1 1589.4,853.8 1590.1,859.4 1590.9,850.8 1591.6,851.6 1592.4,858.4 1593.1,862.4 1593.9,867.0 1594.6,870.0 1595.4,861.2 1596.2,872.8 1596.9,864.5 1597.7,861.4 1598.4,869.0 1599.2,870.7 1599.9,862.4 1600.7,859.4 1601.4,864.8 1602.2,862.1 1603.0,854.0 1603.7,862.6 1604.5,862.9 1605.2,864.8 1606.0,867.3 1606.7,873.4 1607.5,860.6 1608.3,867.9 1609.0,872.6 1609.8,853.0 1610.5,876.6 1611.3,870.1 1612.0,886.3 1612.8,873.8 1613.5,862.6 1614.3,868.4 1615.1,865.3 1615.8,869.4 1616.6,856.5 1617.3,867.0 1618.1,863.1 1618.8,862.8 1619.6,867.2 1620.3,865.0 1621.1,876.5 1621.9,865.9 1622.6,868.5 1623.4,859.8 1624.1,859.5 1624.9,873.5 1625.6,860.2 1626.4,856.1 1627.2,856.0 1627.9,858.3 1628.7,856.8 1629.4,859.1 1630.2,872.2 1630.9,863.2 1631.7,868.4 1632.4,878.5 1633.2,861.5 1634.0,862.0 1634.7,855.3 1635.5,873.1 1636.2,868.3 1637.0,854.7 1637.7,873.9 1638.5,871.9 1639.2,848.3 1640.0,856.9 1640.8,869.2 1641.5,856.7 1642.3,860.9 1643.0,865.9 1643.8,863.3 1644.5,857.1 1645.3,864.2 1646.1,867.8 1646.8,856.6 1647.6,875.1 1648.3,861.3 1649.1,859.0 1649.8,847.6 1650.6,848.0 1651.3,847.7 1652.1,857.8 1652.9,844.3 1653.6,857.7 1654.4,854.4 1655.1,843.1 1655.9,845.2 1656.6,854.3 1657.4,838.0 1658.1,827.9 1658.9,836.4 1659.7,840.6 1660.4,844.3 1661.2,840.2 1661.9,851.6 1662.7,841.0 1663.4,834.8 1664.2,838.7 1665.0,837.5 1665.7,829.6 1666.5,832.1 1667.2,829.8 1668.0,826.4 1668.7,824.5 1669.5,817.4 1670.2,823.6 1671.0,819.0 1671.8,830.0 1672.5,826.7 1673.3,819.6 1674.0,826.8 1674.8,826.4 1675.5,820.0 1676.3,825.4 1677.0,830.6 1677.8,839.4 1678.6,829.7 1679.3,832.6 1680.1,837.2 1680.8,834.7 1681.6,827.4 1682.3,829.1 1683.1,822.3 1683.9,820.0 1684.6,821.1 1685.4,821.2 1686.1,826.0 1686.9,824.1 1687.6,826.3 1688.4,811.1 1689.1,820.4 1689.9,823.9 1690.7,819.1 1691.4,814.5 1692.2,834.5 1692.9,847.7 1693.7,830.7 1694.4,840.6 1695.2,853.9 1695.9,843.7 1696.7,845.3 1697.5,841.3 1698.2,849.3 1699.0,856.8 1699.7,858.7 1700.5,851.5 1701.2,859.8 1702.0,846.2 1702.8,850.7 1703.5,855.7 1704.3,855.6 1705.0,860.1 1705.8,852.1 1706.5,839.9 1707.3,860.4 1708.0,865.3 1708.8,855.5 1709.6,850.5 1710.3,848.7 1711.1,852.0 1711.8,842.3 1712.6,851.7 1713.3,848.3 1714.1,840.7 1714.8,851.0 1715.6,853.3 1716.4,861.3 1717.1,850.3 1717.9,860.3 1718.6,846.8 1719.4,847.8 1720.1,852.8 1720.9,845.6 1721.7,851.1 1722.4,844.7 1723.2,843.8 1723.9,844.9 1724.7,850.8 1725.4,844.0 1726.2,837.8 1726.9,846.5 1727.7,830.1 1728.5,827.3 1729.2,814.3 1730.0,803.8 1730.7,781.1 1731.5,755.6 1732.2,734.7 1733.0,702.3 1733.7,664.2 1734.5,616.7 1735.3,562.2 1736.0,519.5 1736.8,519.5 1737.5,519.5 1738.3,519.5 1739.0,519.5 1739.8,519.5 1740.6,519.5 1741.3,519.5 1742.1,519.5 1742.8,519.5 1743.6,519.5 1744.3,519.5 1745.1,519.5 1745.8,519.5 1746.6,519.5 1747.4,519.5 1748.1,519.5 1748.9,519.5 1749.6,519.5 1750.4,519.5 1751.1,519.5 1751.9,519.5 1752.6,519.5 1753.4,519.5 1754.2,519.5 1754.9,519.5 1755.7,519.5 1756.4,519.5 1757.2,556.3 1757.9,622.8 1758.7,669.2 1759.5,713.7 1760.2,743.3 1761.0,754.9 1761.7,790.6 1762.5,810.4 1763.2,820.8 1764.0,836.0 1764.7,843.8 1765.5,845.1 1766.3,850.7 1767.0,850.4 1767.8,861.0 1768.5,846.0 1769.3,846.3 1770.0,861.3 1770.8,845.6 1771.5,858.5 1772.3,856.4 1773.1,863.6 1773.8,850.1 1774.6,849.9 1775.3,855.1 1776.1,855.0 1776.8,851.2 1777.6,850.7 1778.4,856.6 1779.1,861.8 1779.9,844.7 1780.6,863.8 1781.4,861.8 1782.1,856.6 1782.9,853.8 1783.6,856.4 1784.4,848.5 1785.2,861.4 1785.9,861.1 1786.7,860.9 1787.4,863.3 1788.2,853.8 1788.9,866.6 1789.7,860.2 1790.4,861.5 1791.2,862.8 1792.0,862.9 1792.7,866.1 1793.5,862.9 1794.2,863.1 1795.0,857.1 1795.7,859.5 1796.5,853.7 1797.3,864.7 1798.0,862.0 1798.8,863.8 1799.5,868.4 1800.3,863.0 1801.0,873.9 1801.8,858.9 1802.5,875.1 1803.3,873.4 1804.1,865.0 1804.8,869.8 1805.6,873.5 1806.3,864.6 1807.1,869.8 1807.8,874.4 1808.6,871.8 1809.3,866.9 1810.1,860.3 1810.9,873.6 1811.6,874.3 1812.4,879.7 1813.1,875.0 1813.9,862.4 1814.6,863.6 1815.4,860.8 1816.2,873.2 1816.9,867.9 1817.7,869.7 1818.4,865.1 1819.2,858.0 1819.9,868.9 1820.7,856.6 1821.4,854.1 1822.2,859.8 1823.0,867.9 1823.7,873.2 1824.5,867.0 1825.2,865.6 1826.0,867.5 1826.7,869.7 1827.5,871.7 1828.2,859.0 1829.0,860.1 1829.8,881.5 1830.5,855.5 1831.3,849.7 1832.0,859.2 1832.8,859.2 1833.5,857.0 1834.3,871.9 1835.1,867.8 1835.8,855.3 1836.6,875.3 1837.3,857.2 1838.1,860.3 1838.8,853.6 1839.6,852.3 1840.3,860.3 1841.1,866.2 1841.9,860.2 1842.6,856.1 1843.4,853.8 1844.1,863.1 1844.9,845.2 1845.6,851.9 1846.4,847.3 1847.1,851.0 1847.9,850.1 1848.7,847.0 1849.4,844.4 1850.2,853.5 1850.9,864.6 1851.7,853.7 1852.4,850.8 1853.2,846.9 1854.0,855.8 1854.7,854.9 1855.5,864.8 1856.2,850.8 1857.0,862.4 1857.7,847.4 1858.5,855.3 1859.2,856.9 1860.0,848.6 1860.8,840.3 1861.5,851.5 1862.3,851.6 1863.0,856.0 1863.8,854.1 1864.5,856.9 1865.3,838.8 1866.0,853.0 1866.8,844.5 1867.6,845.1 1868.3,826.5 1869.1,840.2 1869.8,836.5 1870.6,835.7 1871.3,850.1 1872.1,829.0 1872.9,830.0 1873.6,833.6 1874.4,833.9 1875.1,825.2 1875.9,825.3 1876.6,833.1 1877.4,826.9 1878.1,839.5 1878.9,834.4 1879.7,830.6 1880.4,845.7 1881.2,847.0 1881.9,850.1 1882.7,849.5 1883.4,854.6 1884.2,851.3 1884.9,845.1 1885.7,855.6 1886.5,858.0 1887.2,858.7 1888.0,864.8 1888.7,875.1 1889.5,871.2 1890.2,870.3 1891.0,872.4 1891.8,863.5 1892.5,882.4 1893.3,871.9 1894.0,879.3 1894.8,878.1 1895.5,878.3 1896.3,882.4 1897.0,871.7 1897.8,877.3 1898.6,870.0 1899.3,870.5 1900.1,857.2 1900.8,870.3 1901.6,868.9 1902.3,871.1 1903.1,863.6 1903.8,862.2 1904.6,871.2 1905.4,868.3 1906.1,873.1 1906.9,864.2 1907.6,861.6 1908.4,874.4 1909.1,873.9 1909.9,873.9 1910.7,875.4 1911.4,874.4 1912.2,872.3 1912.9,867.5 1913.7,873.9 1914.4,871.7 1915.2,869.6 1915.9,862.6 1916.7,868.0 1917.5,873.6 1918.2,874.4 1919.0,861.4 1919.7,875.9 1920.5,866.7 1921.2,877.0 1922.0,870.4 1922.7,865.8 1923.5,878.9 1924.3,864.6 1925.0,876.3 1925.8,874.7 1926.5,878.2 1927.3,879.6 1928.0,878.3 1928.8,883.9 1929.6,867.1 1930.3,881.6 1931.1,884.7 1931.8,867.9 1932.6,867.8 1933.3,872.6 1934.1,869.2 1934.8,881.4 1935.6,878.8 1936.4,870.8 1937.1,871.5 1937.9,884.6 1938.6,870.6 1939.4,869.3 1940.1,885.1 1940.9,880.7 1941.6,870.4 1942.4,876.4 1943.2,862.2 1943.9,877.8 1944.7,888.3 1945.4,868.9 1946.2,875.7 1946.9,870.7 1947.7,865.8 1948.5,870.6 1949.2,868.4 1950.0,863.5 1950.7,872.0 1951.5,873.9 1952.2,875.6 1953.0,874.9 1953.7,874.7 1954.5,873.5 1955.3,870.8 1956.0,864.7 1956.8,873.5 1957.5,871.0 1958.3,865.4 1959.0,873.9 1959.8,878.4 1960.5,884.1 1961.3,869.9 1962.1,883.1 1962.8,871.4 1963.6,877.1 1964.3,883.7 1965.1,875.7 1965.8,873.3 1966.6,869.0 1967.4,881.5 1968.1,869.2 1968.9,875.2 1969.6,873.2 1970.4,876.1 1971.1,882.0 1971.9,876.5 1972.6,886.0 1973.4,884.2 1974.2,872.8 1974.9,866.1 1975.7,872.3 1976.4,872.1 1977.2,882.8 1977.9,874.3 1978.7,878.1 1979.4,865.3 1980.2,877.8 1981.0,884.1 1981.7,874.6 1982.5,868.5 1983.2,872.3 1984.0,874.3 1984.7,873.5 1985.5,873.0 1986.3,874.6 1987.0,867.6 1987.8,871.1 1988.5,870.6 1989.3,870.9 1990.0,862.1 1990.8,874.0 1991.5,876.1 1992.3,866.4 1993.1,883.9 1993.8,873.1 1994.6,874.1 1995.3,878.1 1996.1,875.4 1996.8,881.0 1997.6,881.6 1998.3,861.8 1999.1,874.8 1999.9,880.5 2000.6,878.2 2001.4,879.7 2002.1,875.9 2002.9,872.8 2003.6,867.2 2004.4,885.4 2005.2,876.9 2005.9,876.4 2006.7,877.2 2007.4,875.1 2008.2,876.5 2008.9,882.9 2009.7,878.8 2010.4,868.7 2011.2,876.0 2012.0,874.1 2012.7,876.7 2013.5,875.9 2014.2,885.5 2015.0,869.5 2015.7,880.6 2016.5,879.9 2017.2,873.2 2018.0,867.3 2018.8,876.3 2019.5,866.8 2020.3,883.6 2021.0,880.0 2021.8,861.7 2022.5,876.7 2023.3,873.4 2024.1,871.0 2024.8,870.7 2025.6,885.7 2026.3,870.7 2027.1,871.6 2027.8,882.7 2028.6,875.6 2029.3,866.1 2030.1,893.4 2030.9,878.4 2031.6,870.8 2032.4,892.8 2033.1,878.9 2033.9,877.9 2034.6,874.0 2035.4,880.7 2036.1,878.6 2036.9,877.4 2037.7,883.6 2038.4,875.0 2039.2,870.3 2039.9,868.5 2040.7,880.0 2041.4,877.6 2042.2,872.6 2043.0,882.2 2043.7,879.7 2044.5,872.2 2045.2,867.5 2046.0,873.1 2046.7,869.9 2047.5,876.2 2048.2,879.1 2049.0,880.6 2049.8,864.1 2050.5,874.3 2051.3,879.7 2052.0,880.2 2052.8,878.0 2053.5,873.7 2054.3,876.1 2055.0,881.4 2055.8,872.8 2056.6,869.6 2057.3,877.0 2058.1,877.2 2058.8,865.0 2059.6,867.2 2060.3,862.0 2061.1,869.2 2061.9,871.9 2062.6,867.8 2063.4,863.4 2064.1,862.9 2064.9,869.0 2065.6,874.0 2066.4,869.8 2067.1,869.0 2067.9,876.9 2068.7,867.0 2069.4,866.7 2070.2,862.5 2070.9,876.5 2071.7,874.6 2072.4,868.2 2073.2,870.3 2073.9,862.4 2074.7,865.0 2075.5,870.7 2076.2,874.2 2077.0,856.2 2077.7,880.2 2078.5,876.6 2079.2,865.8 2080.0,874.9 2080.8,870.9 2081.5,870.0 2082.3,871.1 2083.0,871.2 2083.8,875.3 2084.5,875.9 2085.3,880.7 2086.0,873.6 2086.8,869.9 2087.6,875.4 2088.3,877.2 2089.1,874.6 2089.8,881.3 2090.6,871.8 2091.3,865.4 2092.1,876.6 2092.8,876.8 2093.6,872.5 2094.4,872.8 2095.1,865.7 2095.9,870.7 2096.6,872.6 2097.4,870.0 2098.1,862.4 2098.9,870.9 2099.7,864.8 2100.4,871.7 2101.2,870.5 2101.9,873.4 2102.7,864.4 2103.4,871.0 2104.2,872.5 2104.9,872.0 2105.7,878.2 2106.5,866.0 2107.2,877.7 2108.0,879.6 2108.7,874.5 2109.5,868.9 2110.2,875.0 2111.0,876.2 2111.7,877.1 2112.5,882.9 2113.3,880.2 2114.0,867.4 2114.8,882.0 2115.5,865.0 2116.3,870.8 2117.0,864.0 2117.8,875.8 2118.6,869.5 2119.3,878.0 2120.1,866.2 2120.8,870.5 2121.6,877.8 2122.3,866.2 2123.1,874.5 2123.8,868.7 2124.6,867.1 2125.4,858.4 2126.1,866.6 2126.9,877.3 2127.6,867.1 2128.4,870.8 2129.1,877.2 2129.9,865.7 2130.6,870.8 2131.4,871.7 2132.2,868.2 2132.9,875.7 2133.7,880.6 2134.4,876.6 2135.2,873.5 2135.9,874.9 2136.7,864.1 2137.5,876.7 2138.2,868.2 2139.0,880.4 2139.7,869.5 2140.5,880.2 2141.2,871.0 2142.0,871.4 2142.7,864.7 2143.5,876.5 2144.3,876.3 2145.0,880.5 2145.8,869.3 2146.5,864.4 2147.3,879.0 2148.0,858.0 2148.8,866.9 2149.5,878.4 2150.3,872.1 2151.1,864.8 2151.8,871.1 2152.6,880.6 2153.3,871.6 2154.1,870.3 2154.8,879.3 2155.6,869.1 2156.4,873.7 2157.1,880.5 2157.9,863.1 2158.6,868.6 2159.4,877.6 2160.1,872.8 2160.9,883.9 2161.6,872.6 2162.4,873.7 2163.2,864.4 2163.9,866.1 2164.7,881.3 2165.4,867.5 2166.2,872.7 2166.9,868.9 2167.7,884.1 2168.4,859.6 2169.2,872.2 2170.0,868.2 2170.7,861.5 2171.5,865.6 2172.2,870.9 2173.0,884.2 2173.7,875.1 2174.5,871.0 2175.3,868.7 2176.0,859.1 2176.8,859.6 2177.5,871.4 2178.3,859.5 2179.0,875.9 2179.8,872.8 2180.5,878.6 2181.3,872.5 2182.1,865.5 2182.8,878.6 2183.6,865.6 2184.3,872.3 2185.1,871.3 2185.8,867.9 2186.6,872.4 2187.3,874.0 2188.1,868.8 2188.9,883.3 2189.6,871.6 2190.4,872.6 2191.1,878.2 2191.9,873.4 2192.6,874.8 2193.4,876.3 2194.2,864.7 2194.9,886.0 2195.7,868.3 2196.4,863.8 2197.2,876.0 2197.9,876.1 2198.7,874.7 2199.4,868.2 2200.2,867.8 2201.0,873.7 2201.7,873.0 2202.5,879.8 2203.2,873.7 2204.0,877.5 2204.7,874.0 2205.5,863.7 2206.2,869.1 2207.0,883.5 2207.8,876.3 2208.5,882.2 2209.3,874.6 2210.0,874.3 2210.8,871.4 2211.5,881.2 2212.3,883.7 2213.1,868.9 2213.8,875.8 2214.6,869.4 2215.3,874.4 2216.1,864.4 2216.8,864.6 2217.6,875.9 2218.3,873.5 2219.1,871.3 2219.9,880.4 2220.6,867.0 2221.4,870.3 2222.1,878.8 2222.9,871.3 2223.6,868.3 2224.4,877.8 2225.1,871.4 2225.9,870.6 2226.7,865.8 2227.4,864.5 2228.2,864.1 2228.9,868.3 2229.7,872.5 2230.4,876.5 2231.2,865.7 2232.0,875.4 2232.7,882.0 2233.5,881.7 2234.2,869.1 2235.0,887.8 2235.7,875.5 2236.5,876.4 2237.2,879.6 2238.0,862.3 2238.8,865.3 2239.5,867.6 2240.3,869.3 2241.0,860.5 2241.8,872.7 2242.5,864.0 2243.3,869.9 2244.0,872.6 2244.8,865.1 2245.6,878.2 2246.3,865.1 2247.1,857.9 2247.8,877.8 2248.6,870.7 2249.3,861.5 2250.1,869.3 2250.9,873.4 2251.6,870.2 2252.4,874.9 2253.1,865.0 2253.9,870.3 2254.6,867.2 2255.4,867.4 2256.1,871.5 2256.9,875.9 2257.7,868.2 2258.4,867.3 2259.2,874.3 2259.9,871.8 2260.7,857.1 2261.4,870.2 2262.2,868.4 2262.9,865.8 2263.7,868.4 2264.5,868.3 2265.2,884.4 2266.0,869.5 2266.7,870.5 2267.5,861.3 2268.2,871.5 2269.0,877.5 2269.8,868.9 2270.5,875.7 2271.3,874.1 2272.0,872.0 2272.8,889.1 2273.5,867.0 2274.3,873.2 2275.0,863.3 2275.8,876.4 2276.6,866.6 2277.3,866.9 2278.1,874.6 2278.8,865.9 2279.6,875.0 2280.3,858.4 2281.1,874.3 2281.8,864.4 2282.6,856.3 2283.4,874.7 2284.1,878.5 2284.9,870.2 2285.6,877.5 2286.4,872.3 2287.1,861.9 2287.9,876.2 2288.7,865.4 2289.4,872.7 2290.2,868.3 2290.9,861.4 2291.7,864.0 2292.4,859.8 2293.2,870.0 2293.9,859.3 2294.7,880.0 2295.5,869.2 2296.2,859.5 2297.0,870.7 2297.7,863.1 2298.5,878.6 2299.2,873.2 2300.0,864.4 2300.7,879.0 2301.5,876.9 2302.3,874.1 2303.0,863.9 2303.8,865.1 2304.5,885.7 2305.3,860.8 2306.0,873.5 2306.8,873.1 2307.6,864.5 2308.3,863.4 2309.1,862.6 2309.8,879.4 2310.6,867.5 2311.3,879.2 2312.1,877.5 2312.8,874.2 2313.6,871.8 2314.4,870.7 2315.1,875.2 2315.9,870.3 2316.6,865.6 2317.4,871.6 2318.1,884.4 2318.9,881.9 2319.6,870.0 2320.4,863.0 2321.2,865.5 2321.9,867.2 2322.7,873.6 2323.4,871.5 2324.2,877.8 2324.9,881.7 2325.7,870.0 2326.5,876.9 2327.2,872.9 2328.0,865.4 2328.7,867.3 2329.5,864.8 2330.2,859.0 2331.0,876.5 2331.7,878.0 2332.5,875.8 2333.3,871.1 2334.0,874.1 2334.8,875.8 2335.5,874.7 2336.3,871.4 2337.0,873.4 2337.8,873.6 2338.5,879.1 2339.3,879.8 2340.1,866.0 2340.8,888.4 2341.6,875.6 2342.3,867.7 2343.1,862.3 2343.8,874.0 2344.6,877.8 2345.4,866.3 2346.1,869.1 2346.9,881.9 2347.6,877.7 2348.4,876.5 2349.1,876.3 2349.9,885.4 2350.6,870.3 2351.4,875.5 2352.2,870.6 2352.9,867.0 2353.7,864.3 2354.4,870.0 2355.2,868.9 2355.9,869.9 2356.7,877.0 2357.4,870.3 2358.2,867.7 2359.0,870.3 2359.7,869.1 2360.5,870.9 2361.2,879.7 2362.0,869.5 2362.7,872.6 2363.5,870.5 2364.3,867.8 2365.0,873.4 2365.8,873.6 2366.5,870.7 2367.3,875.2 2368.0,870.9 2368.8,876.1 2369.5,866.6 2370.3,874.4 2371.1,873.0 2371.8,868.4 2372.6,866.4 2373.3,865.1 2374.1,863.4 2374.8,866.3 2375.6,866.6 2376.3,867.3 2377.1,881.4 2377.9,867.9 2378.6,862.7 2379.4,876.6 2380.1,873.9 2380.9,863.8 2381.6,872.0 2382.4,869.3 2383.2,872.8 2383.9,864.6 2384.7,868.3 2385.4,866.2 2386.2,864.0 2386.9,867.7 2387.7,876.6 2388.4,866.6 2389.2,864.7 2390.0,865.0 2390.7,872.8 2391.5,868.4 2392.2,862.0 2393.0,862.3 2393.7,867.5 2394.5,874.5 2395.2,878.6 2396.0,876.5 2396.8,869.5 2397.5,872.8 2398.3,876.8 2399.0,867.6 2399.8,853.8 2400.5,880.5 2401.3,878.2 2402.1,874.4 2402.8,879.5 2403.6,876.6 2404.3,868.1 2405.1,864.6 2405.8,870.5 2406.6,866.0 2407.3,869.1 2408.1,876.6 2408.9,863.7 2409.6,871.0 2410.4,883.9 2411.1,871.8 2411.9,863.2 2412.6,872.9 2413.4,869.7 2414.1,877.5 2414.9,867.8 2415.7,879.7 2416.4,877.2 2417.2,881.3 2417.9,872.3 2418.7,878.5 2419.4,856.1 2420.2,860.3 2421.0,869.0 2421.7,866.6 2422.5,863.3 2423.2,868.6 2424.0,868.4 2424.7,869.8 2425.5,856.0 2426.2,871.2 2427.0,869.8"/>
<polyline clip-path="url(#c3)" fill="none" stroke="#C0005C" stroke-width="11" stroke-linejoin="round" stroke-linecap="butt" points="159.0,1169.2 159.8,1160.6 160.5,1161.8 161.3,1166.7 162.0,1164.8 162.8,1163.3 163.5,1157.4 164.3,1153.6 165.0,1162.5 165.8,1157.2 166.6,1165.8 167.3,1162.2 168.1,1156.6 168.8,1163.1 169.6,1166.0 170.3,1162.8 171.1,1157.0 171.9,1163.5 172.6,1164.2 173.4,1167.1 174.1,1166.5 174.9,1156.5 175.6,1159.2 176.4,1166.2 177.1,1152.1 177.9,1167.7 178.7,1157.8 179.4,1160.6 180.2,1172.3 180.9,1163.0 181.7,1161.5 182.4,1165.0 183.2,1162.4 183.9,1158.9 184.7,1164.0 185.5,1175.4 186.2,1167.6 187.0,1164.3 187.7,1163.0 188.5,1166.2 189.2,1165.1 190.0,1155.9 190.8,1164.4 191.5,1161.6 192.3,1172.0 193.0,1160.2 193.8,1169.3 194.5,1154.5 195.3,1163.7 196.0,1157.5 196.8,1156.6 197.6,1167.1 198.3,1156.3 199.1,1161.8 199.8,1158.5 200.6,1165.6 201.3,1165.1 202.1,1150.2 202.8,1168.2 203.6,1160.3 204.4,1176.7 205.1,1169.9 205.9,1170.4 206.6,1150.0 207.4,1175.6 208.1,1165.2 208.9,1156.8 209.7,1166.9 210.4,1172.9 211.2,1155.3 211.9,1171.5 212.7,1163.0 213.4,1161.5 214.2,1162.3 214.9,1159.8 215.7,1166.0 216.5,1166.3 217.2,1171.1 218.0,1173.3 218.7,1162.9 219.5,1171.3 220.2,1157.8 221.0,1168.6 221.7,1158.0 222.5,1161.1 223.3,1167.9 224.0,1159.5 224.8,1166.6 225.5,1154.5 226.3,1158.7 227.0,1165.9 227.8,1171.5 228.6,1155.3 229.3,1171.6 230.1,1163.7 230.8,1175.7 231.6,1160.3 232.3,1159.1 233.1,1164.2 233.8,1155.7 234.6,1162.9 235.4,1161.7 236.1,1169.8 236.9,1163.6 237.6,1153.6 238.4,1152.8 239.1,1154.4 239.9,1147.2 240.6,1146.1 241.4,1171.3 242.2,1153.0 242.9,1165.4 243.7,1152.7 244.4,1154.5 245.2,1146.5 245.9,1164.4 246.7,1154.4 247.5,1166.9 248.2,1152.7 249.0,1164.9 249.7,1166.3 250.5,1148.2 251.2,1160.1 252.0,1151.1 252.7,1150.2 253.5,1157.7 254.3,1161.6 255.0,1164.5 255.8,1153.8 256.5,1161.5 257.3,1158.4 258.0,1154.4 258.8,1148.3 259.5,1153.9 260.3,1170.8 261.1,1147.5 261.8,1152.1 262.6,1147.7 263.3,1161.7 264.1,1164.5 264.8,1162.0 265.6,1166.2 266.4,1154.0 267.1,1165.1 267.9,1150.2 268.6,1165.1 269.4,1165.1 270.1,1152.4 270.9,1162.4 271.6,1150.3 272.4,1148.6 273.2,1149.0 273.9,1151.1 274.7,1151.3 275.4,1158.0 276.2,1169.9 276.9,1158.2 277.7,1155.1 278.4,1165.1 279.2,1159.8 280.0,1162.3 280.7,1164.5 281.5,1164.9 282.2,1157.9 283.0,1160.3 283.7,1167.2 284.5,1158.5 285.3,1158.6 286.0,1161.2 286.8,1161.1 287.5,1155.8 288.3,1160.5 289.0,1156.3 289.8,1147.7 290.5,1159.3 291.3,1149.6 292.1,1172.2 292.8,1156.4 293.6,1152.7 294.3,1159.8 295.1,1163.7 295.8,1164.2 296.6,1157.0 297.3,1162.1 298.1,1160.3 298.9,1157.0 299.6,1147.7 300.4,1157.8 301.1,1142.3 301.9,1153.3 302.6,1167.8 303.4,1161.0 304.2,1160.1 304.9,1155.3 305.7,1155.7 306.4,1157.0 307.2,1152.8 307.9,1147.5 308.7,1168.0 309.4,1171.8 310.2,1157.5 311.0,1166.0 311.7,1153.4 312.5,1162.9 313.2,1151.9 314.0,1165.9 314.7,1160.4 315.5,1152.0 316.2,1163.3 317.0,1170.2 317.8,1160.1 318.5,1159.9 319.3,1160.4 320.0,1161.3 320.8,1168.4 321.5,1168.7 322.3,1147.5 323.1,1168.0 323.8,1159.0 324.6,1170.2 325.3,1162.3 326.1,1165.0 326.8,1155.3 327.6,1149.7 328.3,1159.0 329.1,1163.0 329.9,1161.1 330.6,1160.9 331.4,1157.1 332.1,1159.8 332.9,1149.9 333.6,1153.9 334.4,1144.9 335.1,1154.0 335.9,1152.3 336.7,1154.4 337.4,1160.4 338.2,1154.2 338.9,1136.5 339.7,1162.2 340.4,1154.5 341.2,1158.3 342.0,1148.5 342.7,1158.4 343.5,1162.7 344.2,1143.0 345.0,1160.5 345.7,1146.9 346.5,1147.8 347.2,1152.5 348.0,1165.4 348.8,1141.2 349.5,1148.4 350.3,1152.6 351.0,1156.4 351.8,1151.7 352.5,1155.1 353.3,1145.9 354.0,1157.1 354.8,1158.8 355.6,1145.3 356.3,1147.2 357.1,1154.4 357.8,1153.9 358.6,1155.1 359.3,1144.1 360.1,1149.2 360.9,1148.6 361.6,1160.1 362.4,1151.1 363.1,1148.6 363.9,1146.1 364.6,1151.7 365.4,1159.2 366.1,1142.0 366.9,1152.3 367.7,1154.7 368.4,1163.8 369.2,1155.6 369.9,1159.7 370.7,1151.5 371.4,1142.6 372.2,1142.4 372.9,1146.8 373.7,1152.1 374.5,1149.4 375.2,1148.1 376.0,1162.2 376.7,1135.7 377.5,1143.8 378.2,1164.9 379.0,1151.4 379.8,1144.7 380.5,1141.3 381.3,1152.8 382.0,1151.6 382.8,1151.9 383.5,1138.3 384.3,1147.0 385.0,1144.7 385.8,1148.9 386.6,1136.1 387.3,1150.2 388.1,1156.4 388.8,1138.6 389.6,1153.0 390.3,1158.4 391.1,1153.9 391.8,1148.3 392.6,1149.7 393.4,1145.8 394.1,1150.6 394.9,1142.8 395.6,1149.7 396.4,1144.1 397.1,1140.3 397.9,1158.9 398.7,1138.0 399.4,1161.0 400.2,1136.5 400.9,1156.4 401.7,1152.2 402.4,1141.5 403.2,1149.0 403.9,1146.4 404.7,1147.4 405.5,1159.4 406.2,1146.9 407.0,1142.4 407.7,1161.6 408.5,1157.1 409.2,1154.5 410.0,1152.5 410.7,1158.3 411.5,1155.9 412.3,1152.5 413.0,1149.2 413.8,1159.4 414.5,1161.5 415.3,1155.2 416.0,1169.6 416.8,1153.6 417.6,1153.4 418.3,1161.9 419.1,1154.3 419.8,1154.2 420.6,1150.4 421.3,1155.6 422.1,1142.0 422.8,1147.9 423.6,1145.5 424.4,1138.3 425.1,1158.7 425.9,1149.5 426.6,1145.8 427.4,1153.5 428.1,1143.2 428.9,1156.7 429.6,1160.0 430.4,1142.3 431.2,1159.2 431.9,1153.5 432.7,1159.9 433.4,1154.6 434.2,1148.7 434.9,1144.6 435.7,1148.3 436.5,1152.6 437.2,1162.8 438.0,1160.5 438.7,1158.5 439.5,1165.7 440.2,1144.7 441.0,1148.6 441.7,1148.3 442.5,1155.4 443.3,1143.8 444.0,1150.0 444.8,1161.7 445.5,1158.8 446.3,1161.7 447.0,1148.0 447.8,1144.8 448.5,1152.8 449.3,1145.3 450.1,1150.6 450.8,1150.6 451.6,1155.1 452.3,1161.2 453.1,1161.4 453.8,1159.1 454.6,1152.6 455.4,1158.7 456.1,1152.8 456.9,1150.1 457.6,1146.9 458.4,1153.4 459.1,1160.6 459.9,1162.1 460.6,1158.2 461.4,1161.7 462.2,1154.4 462.9,1168.2 463.7,1158.4 464.4,1155.1 465.2,1161.0 465.9,1155.5 466.7,1158.2 467.4,1165.2 468.2,1150.6 469.0,1153.7 469.7,1154.2 470.5,1155.6 471.2,1167.1 472.0,1160.7 472.7,1163.1 473.5,1138.6 474.3,1157.6 475.0,1156.0 475.8,1157.4 476.5,1153.9 477.3,1149.3 478.0,1157.7 478.8,1151.8 479.5,1152.9 480.3,1149.0 481.1,1151.4 481.8,1156.0 482.6,1157.9 483.3,1152.6 484.1,1153.5 484.8,1151.8 485.6,1158.9 486.3,1150.8 487.1,1152.0 487.9,1154.7 488.6,1151.6 489.4,1156.4 490.1,1165.0 490.9,1154.9 491.6,1164.3 492.4,1161.1 493.2,1156.6 493.9,1160.0 494.7,1164.9 495.4,1150.7 496.2,1160.6 496.9,1164.2 497.7,1151.9 498.4,1165.1 499.2,1160.9 500.0,1151.8 500.7,1159.7 501.5,1147.8 502.2,1148.8 503.0,1146.8 503.7,1157.6 504.5,1153.3 505.2,1150.7 506.0,1151.9 506.8,1154.6 507.5,1153.0 508.3,1152.0 509.0,1156.3 509.8,1149.6 510.5,1152.5 511.3,1163.5 512.1,1158.9 512.8,1146.0 513.6,1167.4 514.3,1152.9 515.1,1169.0 515.8,1159.6 516.6,1165.2 517.3,1148.1 518.1,1154.0 518.9,1154.3 519.6,1154.1 520.4,1151.8 521.1,1151.7 521.9,1153.7 522.6,1149.4 523.4,1151.1 524.1,1153.1 524.9,1139.2 525.7,1148.1 526.4,1143.2 527.2,1148.6 527.9,1153.2 528.7,1141.2 529.4,1148.1 530.2,1157.0 531.0,1158.7 531.7,1149.8 532.5,1159.5 533.2,1156.5 534.0,1155.7 534.7,1152.6 535.5,1157.7 536.2,1160.3 537.0,1151.9 537.8,1158.8 538.5,1148.5 539.3,1148.0 540.0,1158.5 540.8,1153.5 541.5,1149.8 542.3,1157.0 543.0,1159.4 543.8,1155.6 544.6,1164.9 545.3,1152.3 546.1,1153.3 546.8,1164.0 547.6,1153.2 548.3,1164.8 549.1,1151.5 549.9,1156.3 550.6,1162.3 551.4,1161.6 552.1,1174.1 552.9,1159.2 553.6,1165.1 554.4,1166.3 555.1,1164.6 555.9,1172.0 556.7,1161.1 557.4,1160.9 558.2,1157.5 558.9,1168.4 559.7,1164.1 560.4,1163.6 561.2,1162.7 561.9,1154.1 562.7,1163.5 563.5,1162.0 564.2,1168.4 565.0,1161.7 565.7,1153.8 566.5,1156.1 567.2,1168.4 568.0,1149.3 568.8,1147.6 569.5,1156.7 570.3,1163.4 571.0,1154.3 571.8,1146.2 572.5,1166.4 573.3,1148.1 574.0,1157.8 574.8,1161.9 575.6,1154.1 576.3,1157.9 577.1,1164.1 577.8,1148.2 578.6,1161.9 579.3,1165.4 580.1,1166.9 580.8,1157.6 581.6,1163.6 582.4,1157.9 583.1,1158.1 583.9,1156.2 584.6,1165.7 585.4,1162.8 586.1,1168.1 586.9,1146.0 587.7,1154.5 588.4,1161.2 589.2,1169.0 589.9,1153.2 590.7,1145.9 591.4,1152.5 592.2,1154.9 592.9,1159.7 593.7,1161.1 594.5,1157.9 595.2,1152.2 596.0,1164.8 596.7,1146.7 597.5,1149.6 598.2,1151.6 599.0,1142.7 599.7,1141.8 600.5,1144.1 601.3,1130.9 602.0,1131.1 602.8,1126.7 603.5,1136.4 604.3,1122.1 605.0,1107.1 605.8,1110.1 606.6,1093.3 607.3,1096.7 608.1,1079.0 608.8,1089.1 609.6,1080.3 610.3,1071.0 611.1,1080.9 611.8,1084.3 612.6,1083.7 613.4,1086.0 614.1,1081.5 614.9,1099.7 615.6,1087.4 616.4,1103.0 617.1,1124.4 617.9,1109.7 618.6,1112.7 619.4,1122.9 620.2,1135.4 620.9,1136.8 621.7,1147.1 622.4,1144.6 623.2,1140.8 623.9,1155.3 624.7,1148.4 625.5,1157.7 626.2,1163.5 627.0,1159.5 627.7,1165.3 628.5,1150.9 629.2,1156.5 630.0,1160.8 630.7,1153.1 631.5,1168.7 632.3,1168.6 633.0,1164.3 633.8,1165.3 634.5,1161.0 635.3,1155.4 636.0,1158.0 636.8,1160.0 637.5,1162.6 638.3,1159.9 639.1,1161.9 639.8,1151.7 640.6,1154.6 641.3,1159.8 642.1,1164.2 642.8,1148.3 643.6,1160.1 644.4,1162.5 645.1,1157.9 645.9,1159.0 646.6,1156.5 647.4,1159.1 648.1,1157.5 648.9,1151.1 649.6,1168.7 650.4,1162.8 651.2,1158.0 651.9,1169.3 652.7,1159.7 653.4,1165.2 654.2,1151.2 654.9,1157.5 655.7,1167.5 656.4,1169.8 657.2,1172.2 658.0,1169.5 658.7,1171.8 659.5,1156.8 660.2,1152.7 661.0,1146.9 661.7,1162.4 662.5,1160.7 663.3,1171.9 664.0,1161.7 664.8,1173.5 665.5,1154.5 666.3,1175.3 667.0,1164.4 667.8,1173.6 668.5,1171.5 669.3,1160.3 670.1,1171.3 670.8,1162.1 671.6,1171.3 672.3,1169.4 673.1,1168.4 673.8,1164.8 674.6,1164.2 675.3,1166.1 676.1,1151.0 676.9,1171.7 677.6,1165.3 678.4,1167.1 679.1,1160.0 679.9,1167.6 680.6,1162.9 681.4,1175.5 682.2,1157.2 682.9,1173.5 683.7,1161.0 684.4,1168.3 685.2,1164.7 685.9,1160.5 686.7,1154.0 687.4,1171.5 688.2,1156.6 689.0,1164.5 689.7,1175.6 690.5,1175.9 691.2,1169.4 692.0,1157.6 692.7,1166.6 693.5,1167.7 694.2,1162.0 695.0,1175.0 695.8,1168.0 696.5,1168.3 697.3,1165.6 698.0,1157.8 698.8,1160.5 699.5,1160.3 700.3,1174.0 701.1,1166.9 701.8,1169.7 702.6,1169.6 703.3,1169.7 704.1,1177.6 704.8,1172.6 705.6,1169.1 706.3,1168.1 707.1,1176.1 707.9,1155.7 708.6,1174.9 709.4,1163.2 710.1,1169.1 710.9,1164.1 711.6,1165.6 712.4,1163.4 713.1,1146.5 713.9,1156.9 714.7,1158.4 715.4,1154.7 716.2,1150.9 716.9,1165.3 717.7,1155.4 718.4,1162.2 719.2,1168.8 720.0,1154.7 720.7,1160.3 721.5,1168.6 722.2,1159.8 723.0,1159.6 723.7,1148.8 724.5,1170.3 725.2,1160.4 726.0,1153.4 726.8,1166.8 727.5,1158.7 728.3,1160.6 729.0,1156.8 729.8,1165.3 730.5,1164.9 731.3,1158.0 732.0,1161.3 732.8,1171.1 733.6,1163.1 734.3,1159.9 735.1,1172.1 735.8,1160.1 736.6,1165.3 737.3,1157.9 738.1,1160.5 738.9,1162.9 739.6,1170.1 740.4,1173.3 741.1,1164.2 741.9,1171.5 742.6,1166.2 743.4,1171.0 744.1,1161.6 744.9,1168.0 745.7,1165.1 746.4,1166.6 747.2,1180.9 747.9,1166.9 748.7,1173.5 749.4,1171.1 750.2,1154.7 750.9,1166.5 751.7,1170.5 752.5,1154.3 753.2,1159.0 754.0,1181.5 754.7,1165.3 755.5,1162.6 756.2,1166.3 757.0,1161.6 757.8,1168.4 758.5,1169.9 759.3,1167.6 760.0,1178.8 760.8,1181.2 761.5,1177.5 762.3,1166.5 763.0,1168.1 763.8,1162.9 764.6,1173.4 765.3,1167.6 766.1,1166.5 766.8,1165.2 767.6,1170.2 768.3,1169.1 769.1,1160.3 769.8,1176.4 770.6,1167.6 771.4,1157.7 772.1,1171.3 772.9,1160.7 773.6,1177.4 774.4,1174.7 775.1,1170.1 775.9,1181.7 776.7,1162.1 777.4,1170.0 778.2,1166.9 778.9,1163.4 779.7,1161.2 780.4,1176.3 781.2,1168.0 781.9,1163.5 782.7,1166.0 783.5,1186.3 784.2,1169.1 785.0,1164.4 785.7,1167.2 786.5,1176.0 787.2,1168.0 788.0,1167.6 788.7,1168.7 789.5,1166.2 790.3,1168.3 791.0,1178.9 791.8,1169.4 792.5,1170.6 793.3,1154.0 794.0,1176.0 794.8,1179.4 795.6,1167.4 796.3,1174.4 797.1,1164.4 797.8,1172.7 798.6,1172.5 799.3,1155.8 800.1,1175.8 800.8,1176.7 801.6,1167.0 802.4,1160.7 803.1,1167.0 803.9,1165.8 804.6,1172.3 805.4,1166.0 806.1,1165.6 806.9,1172.7 807.6,1170.7 808.4,1167.5 809.2,1162.8 809.9,1162.7 810.7,1163.4 811.4,1162.8 812.2,1165.6 812.9,1175.4 813.7,1166.0 814.5,1166.7 815.2,1155.5 816.0,1174.8 816.7,1166.1 817.5,1172.4 818.2,1171.6 819.0,1164.4 819.7,1171.5 820.5,1159.1 821.3,1163.9 822.0,1177.3 822.8,1161.9 823.5,1170.1 824.3,1167.2 825.0,1161.9 825.8,1175.9 826.5,1165.8 827.3,1171.4 828.1,1179.8 828.8,1157.9 829.6,1167.1 830.3,1173.9 831.1,1168.2 831.8,1176.8 832.6,1174.0 833.4,1172.0 834.1,1174.0 834.9,1166.3 835.6,1161.8 836.4,1160.1 837.1,1173.1 837.9,1164.9 838.6,1179.3 839.4,1163.0 840.2,1159.2 840.9,1157.1 841.7,1178.2 842.4,1169.5 843.2,1172.5 843.9,1161.2 844.7,1178.6 845.4,1159.7 846.2,1169.1 847.0,1166.9 847.7,1176.7 848.5,1163.6 849.2,1168.8 850.0,1170.1 850.7,1172.3 851.5,1173.4 852.3,1178.4 853.0,1180.3 853.8,1172.8 854.5,1174.3 855.3,1176.4 856.0,1178.0 856.8,1174.9 857.5,1178.9 858.3,1177.3 859.1,1180.3 859.8,1171.1 860.6,1176.1 861.3,1171.0 862.1,1163.3 862.8,1169.8 863.6,1175.1 864.3,1170.9 865.1,1167.9 865.9,1178.3 866.6,1181.8 867.4,1178.5 868.1,1178.6 868.9,1166.0 869.6,1177.6 870.4,1184.3 871.2,1182.1 871.9,1174.2 872.7,1180.6 873.4,1171.5 874.2,1170.7 874.9,1175.5 875.7,1175.1 876.4,1168.5 877.2,1171.2 878.0,1179.2 878.7,1169.6 879.5,1173.9 880.2,1175.2 881.0,1179.5 881.7,1173.3 882.5,1175.8 883.2,1181.7 884.0,1171.6 884.8,1170.8 885.5,1166.3 886.3,1179.8 887.0,1172.6 887.8,1172.4 888.5,1165.0 889.3,1173.7 890.1,1170.8 890.8,1175.2 891.6,1175.4 892.3,1178.1 893.1,1188.3 893.8,1171.8 894.6,1178.2 895.3,1175.4 896.1,1177.1 896.9,1179.9 897.6,1184.1 898.4,1179.1 899.1,1179.3 899.9,1181.6 900.6,1177.8 901.4,1173.7 902.1,1175.6 902.9,1175.9 903.7,1164.8 904.4,1178.9 905.2,1175.1 905.9,1178.3 906.7,1175.6 907.4,1167.1 908.2,1171.2 909.0,1175.8 909.7,1169.3 910.5,1184.8 911.2,1171.0 912.0,1188.9 912.7,1181.1 913.5,1183.0 914.2,1172.2 915.0,1177.3 915.8,1176.2 916.5,1186.1 917.3,1188.8 918.0,1186.7 918.8,1159.9 919.5,1174.1 920.3,1165.3 921.0,1171.8 921.8,1169.1 922.6,1161.5 923.3,1164.2 924.1,1175.5 924.8,1171.1 925.6,1168.7 926.3,1173.7 927.1,1167.4 927.9,1178.3 928.6,1173.3 929.4,1182.7 930.1,1165.1 930.9,1179.9 931.6,1176.0 932.4,1170.8 933.1,1173.7 933.9,1180.3 934.7,1183.7 935.4,1177.6 936.2,1179.1 936.9,1177.2 937.7,1176.8 938.4,1191.1 939.2,1183.7 939.9,1188.4 940.7,1176.2 941.5,1180.6 942.2,1176.9 943.0,1183.3 943.7,1177.9 944.5,1185.2 945.2,1175.6 946.0,1171.0 946.8,1165.9 947.5,1166.6 948.3,1172.8 949.0,1163.0 949.8,1163.9 950.5,1165.0 951.3,1164.4 952.0,1146.3 952.8,1146.5 953.6,1135.4 954.3,1137.8 955.1,1129.7 955.8,1123.7 956.6,1106.8 957.3,1102.9 958.1,1086.2 958.8,1090.7 959.6,1074.6 960.4,1064.9 961.1,1062.7 961.9,1058.7 962.6,1047.0 963.4,1048.2 964.1,1050.1 964.9,1049.6 965.7,1051.1 966.4,1059.7 967.2,1076.9 967.9,1083.1 968.7,1085.0 969.4,1098.8 970.2,1115.5 970.9,1120.8 971.7,1124.6 972.5,1130.1 973.2,1145.1 974.0,1160.1 974.7,1154.4 975.5,1154.8 976.2,1158.4 977.0,1172.7 977.7,1157.7 978.5,1168.7 979.3,1173.1 980.0,1171.5 980.8,1188.8 981.5,1179.0 982.3,1179.7 983.0,1185.9 983.8,1180.2 984.6,1170.9 985.3,1182.9 986.1,1178.8 986.8,1178.4 987.6,1189.2 988.3,1176.5 989.1,1181.6 989.8,1181.2 990.6,1182.7 991.4,1193.0 992.1,1175.3 992.9,1180.3 993.6,1187.2 994.4,1181.2 995.1,1176.9 995.9,1178.8 996.6,1188.9 997.4,1175.1 998.2,1193.3 998.9,1194.4 999.7,1184.7 1000.4,1186.9 1001.2,1187.7 1001.9,1183.3 1002.7,1187.6 1003.5,1173.4 1004.2,1176.0 1005.0,1180.5 1005.7,1181.8 1006.5,1189.1 1007.2,1187.5 1008.0,1191.1 1008.7,1186.7 1009.5,1187.0 1010.3,1189.9 1011.0,1182.6 1011.8,1182.5 1012.5,1184.4 1013.3,1180.0 1014.0,1185.3 1014.8,1187.2 1015.5,1182.6 1016.3,1183.7 1017.1,1185.3 1017.8,1195.4 1018.6,1196.7 1019.3,1184.1 1020.1,1195.2 1020.8,1188.4 1021.6,1182.7 1022.4,1187.1 1023.1,1184.2 1023.9,1183.8 1024.6,1179.9 1025.4,1188.7 1026.1,1178.6 1026.9,1183.8 1027.6,1190.8 1028.4,1197.9 1029.2,1187.0 1029.9,1188.5 1030.7,1192.5 1031.4,1187.4 1032.2,1196.4 1032.9,1175.6 1033.7,1191.1 1034.4,1184.3 1035.2,1190.3 1036.0,1197.1 1036.7,1189.7 1037.5,1186.9 1038.2,1189.8 1039.0,1186.5 1039.7,1189.4 1040.5,1186.3 1041.3,1183.7 1042.0,1179.7 1042.8,1190.7 1043.5,1185.0 1044.3,1179.0 1045.0,1179.2 1045.8,1186.5 1046.5,1180.9 1047.3,1187.2 1048.1,1192.8 1048.8,1205.3 1049.6,1189.3 1050.3,1197.1 1051.1,1179.6 1051.8,1185.6 1052.6,1191.2 1053.3,1193.5 1054.1,1182.6 1054.9,1198.3 1055.6,1196.1 1056.4,1195.4 1057.1,1196.4 1057.9,1190.9 1058.6,1199.6 1059.4,1195.0 1060.2,1191.7 1060.9,1196.6 1061.7,1187.2 1062.4,1190.7 1063.2,1190.4 1063.9,1194.1 1064.7,1190.6 1065.4,1193.8 1066.2,1184.9 1067.0,1185.6 1067.7,1195.2 1068.5,1192.3 1069.2,1188.0 1070.0,1193.6 1070.7,1193.4 1071.5,1196.7 1072.2,1192.6 1073.0,1184.9 1073.8,1188.5 1074.5,1193.0 1075.3,1189.1 1076.0,1180.9 1076.8,1190.3 1077.5,1178.4 1078.3,1180.7 1079.1,1170.8 1079.8,1181.5 1080.6,1183.0 1081.3,1180.2 1082.1,1182.0 1082.8,1178.7 1083.6,1186.8 1084.3,1181.8 1085.1,1189.2 1085.9,1189.4 1086.6,1188.4 1087.4,1190.7 1088.1,1191.3 1088.9,1189.4 1089.6,1182.1 1090.4,1200.6 1091.1,1204.6 1091.9,1193.3 1092.7,1187.5 1093.4,1193.3 1094.2,1184.2 1094.9,1195.2 1095.7,1201.4 1096.4,1194.8 1097.2,1195.0 1098.0,1180.6 1098.7,1189.8 1099.5,1184.2 1100.2,1201.2 1101.0,1190.9 1101.7,1189.5 1102.5,1194.4 1103.2,1197.4 1104.0,1194.9 1104.8,1187.1 1105.5,1193.5 1106.3,1194.7 1107.0,1190.1 1107.8,1196.2 1108.5,1188.1 1109.3,1196.0 1110.0,1199.7 1110.8,1196.1 1111.6,1188.8 1112.3,1197.1 1113.1,1199.6 1113.8,1199.1 1114.6,1189.6 1115.3,1194.9 1116.1,1195.5 1116.9,1211.5 1117.6,1198.8 1118.4,1193.2 1119.1,1201.1 1119.9,1192.6 1120.6,1193.6 1121.4,1203.0 1122.1,1200.8 1122.9,1195.1 1123.7,1188.8 1124.4,1175.7 1125.2,1194.0 1125.9,1187.9 1126.7,1200.0 1127.4,1200.7 1128.2,1186.7 1128.9,1186.8 1129.7,1192.3 1130.5,1195.8 1131.2,1201.1 1132.0,1188.2 1132.7,1183.8 1133.5,1194.7 1134.2,1193.7 1135.0,1196.3 1135.8,1205.6 1136.5,1194.2 1137.3,1203.5 1138.0,1196.2 1138.8,1200.3 1139.5,1202.6 1140.3,1196.7 1141.0,1187.7 1141.8,1191.2 1142.6,1196.0 1143.3,1188.0 1144.1,1189.0 1144.8,1194.0 1145.6,1191.2 1146.3,1201.7 1147.1,1201.7 1147.8,1182.3 1148.6,1201.0 1149.4,1193.1 1150.1,1196.2 1150.9,1205.6 1151.6,1197.9 1152.4,1195.2 1153.1,1191.4 1153.9,1197.1 1154.7,1199.5 1155.4,1201.0 1156.2,1193.0 1156.9,1207.8 1157.7,1195.6 1158.4,1207.3 1159.2,1197.4 1159.9,1207.4 1160.7,1207.5 1161.5,1193.3 1162.2,1197.6 1163.0,1197.9 1163.7,1203.7 1164.5,1194.3 1165.2,1192.8 1166.0,1216.8 1166.7,1204.6 1167.5,1207.3 1168.3,1201.6 1169.0,1202.5 1169.8,1205.2 1170.5,1202.5 1171.3,1199.5 1172.0,1199.1 1172.8,1209.6 1173.6,1196.9 1174.3,1205.2 1175.1,1201.6 1175.8,1199.5 1176.6,1205.9 1177.3,1197.8 1178.1,1187.1 1178.8,1204.9 1179.6,1200.1 1180.4,1200.9 1181.1,1204.9 1181.9,1197.0 1182.6,1205.0 1183.4,1195.1 1184.1,1209.8 1184.9,1188.6 1185.6,1195.5 1186.4,1193.6 1187.2,1187.5 1187.9,1189.1 1188.7,1195.1 1189.4,1184.3 1190.2,1194.7 1190.9,1199.3 1191.7,1187.7 1192.5,1189.5 1193.2,1185.1 1194.0,1190.7 1194.7,1191.9 1195.5,1187.3 1196.2,1187.0 1197.0,1191.4 1197.7,1191.6 1198.5,1180.7 1199.3,1183.4 1200.0,1180.7 1200.8,1173.6 1201.5,1181.5 1202.3,1182.8 1203.0,1180.1 1203.8,1171.8 1204.5,1182.4 1205.3,1179.4 1206.1,1168.8 1206.8,1169.9 1207.6,1176.1 1208.3,1166.7 1209.1,1175.6 1209.8,1177.0 1210.6,1166.2 1211.4,1165.9 1212.1,1164.8 1212.9,1171.7 1213.6,1168.1 1214.4,1156.0 1215.1,1153.5 1215.9,1157.8 1216.6,1159.7 1217.4,1156.1 1218.2,1168.5 1218.9,1164.9 1219.7,1171.4 1220.4,1173.7 1221.2,1164.0 1221.9,1184.0 1222.7,1183.7 1223.4,1174.9 1224.2,1173.2 1225.0,1175.7 1225.7,1186.2 1226.5,1182.0 1227.2,1189.4 1228.0,1200.7 1228.7,1191.3 1229.5,1191.6 1230.3,1198.2 1231.0,1199.1 1231.8,1192.4 1232.5,1189.0 1233.3,1199.6 1234.0,1199.0 1234.8,1199.0 1235.5,1202.6 1236.3,1205.3 1237.1,1197.2 1237.8,1206.6 1238.6,1196.6 1239.3,1200.4 1240.1,1202.3 1240.8,1205.2 1241.6,1207.9 1242.3,1202.7 1243.1,1199.6 1243.9,1202.4 1244.6,1202.4 1245.4,1196.2 1246.1,1200.5 1246.9,1198.9 1247.6,1202.9 1248.4,1191.3 1249.2,1193.3 1249.9,1188.8 1250.7,1207.6 1251.4,1200.5 1252.2,1203.2 1252.9,1191.6 1253.7,1207.0 1254.4,1205.3 1255.2,1212.2 1256.0,1213.4 1256.7,1206.7 1257.5,1205.1 1258.2,1206.3 1259.0,1203.6 1259.7,1202.3 1260.5,1203.8 1261.2,1204.7 1262.0,1198.3 1262.8,1200.6 1263.5,1213.5 1264.3,1198.4 1265.0,1198.5 1265.8,1203.3 1266.5,1194.5 1267.3,1197.3 1268.1,1190.5 1268.8,1198.7 1269.6,1193.2 1270.3,1186.3 1271.1,1201.4 1271.8,1203.6 1272.6,1197.8 1273.3,1210.8 1274.1,1188.9 1274.9,1190.1 1275.6,1200.3 1276.4,1205.9 1277.1,1199.4 1277.9,1197.9 1278.6,1194.2 1279.4,1212.7 1280.1,1198.2 1280.9,1206.3 1281.7,1204.4 1282.4,1194.7 1283.2,1209.4 1283.9,1200.7 1284.7,1207.8 1285.4,1209.1 1286.2,1205.1 1287.0,1217.3 1287.7,1215.7 1288.5,1206.9 1289.2,1212.8 1290.0,1215.6 1290.7,1219.0 1291.5,1206.0 1292.2,1220.6 1293.0,1202.0 1293.8,1199.9 1294.5,1211.2 1295.3,1200.7 1296.0,1216.9 1296.8,1194.0 1297.5,1205.3 1298.3,1208.8 1299.0,1193.9 1299.8,1210.6 1300.6,1194.6 1301.3,1205.5 1302.1,1204.6 1302.8,1204.6 1303.6,1208.3 1304.3,1208.2 1305.1,1197.9 1305.9,1197.2 1306.6,1203.7 1307.4,1192.8 1308.1,1211.6 1308.9,1202.3 1309.6,1218.3 1310.4,1207.4 1311.1,1200.4 1311.9,1198.2 1312.7,1213.0 1313.4,1188.3 1314.2,1202.9 1314.9,1219.1 1315.7,1205.7 1316.4,1210.4 1317.2,1205.9 1317.9,1209.1 1318.7,1200.0 1319.5,1205.1 1320.2,1211.7 1321.0,1203.1 1321.7,1203.3 1322.5,1209.4 1323.2,1207.8 1324.0,1202.0 1324.8,1195.3 1325.5,1193.3 1326.3,1201.2 1327.0,1200.0 1327.8,1210.7 1328.5,1217.5 1329.3,1210.3 1330.0,1197.1 1330.8,1198.5 1331.6,1190.5 1332.3,1202.5 1333.1,1202.7 1333.8,1207.2 1334.6,1195.8 1335.3,1203.9 1336.1,1202.4 1336.8,1209.0 1337.6,1194.3 1338.4,1211.9 1339.1,1204.4 1339.9,1204.3 1340.6,1197.3 1341.4,1203.9 1342.1,1207.2 1342.9,1203.7 1343.7,1206.4 1344.4,1197.7 1345.2,1204.6 1345.9,1198.4 1346.7,1192.2 1347.4,1194.7 1348.2,1201.2 1348.9,1204.8 1349.7,1202.6 1350.5,1210.3 1351.2,1203.5 1352.0,1201.3 1352.7,1197.3 1353.5,1203.3 1354.2,1198.9 1355.0,1187.1 1355.7,1197.9 1356.5,1197.6 1357.3,1196.5 1358.0,1214.1 1358.8,1200.4 1359.5,1201.6 1360.3,1200.0 1361.0,1193.0 1361.8,1197.3 1362.6,1197.3 1363.3,1197.3 1364.1,1190.7 1364.8,1197.1 1365.6,1192.7 1366.3,1186.8 1367.1,1187.5 1367.8,1191.0 1368.6,1192.8 1369.4,1184.9 1370.1,1183.1 1370.9,1186.8 1371.6,1189.8 1372.4,1203.2 1373.1,1197.3 1373.9,1180.8 1374.6,1192.4 1375.4,1197.5 1376.2,1204.2 1376.9,1197.9 1377.7,1210.6 1378.4,1195.8 1379.2,1213.9 1379.9,1199.4 1380.7,1201.6 1381.5,1204.7 1382.2,1199.3 1383.0,1195.9 1383.7,1205.5 1384.5,1204.2 1385.2,1212.6 1386.0,1208.1 1386.7,1198.7 1387.5,1205.8 1388.3,1197.0 1389.0,1191.5 1389.8,1199.9 1390.5,1197.5 1391.3,1196.5 1392.0,1206.5 1392.8,1199.8 1393.5,1193.9 1394.3,1196.2 1395.1,1200.4 1395.8,1185.3 1396.6,1200.5 1397.3,1198.1 1398.1,1198.8 1398.8,1203.2 1399.6,1201.9 1400.4,1190.0 1401.1,1198.6 1401.9,1191.8 1402.6,1182.0 1403.4,1188.0 1404.1,1186.1 1404.9,1188.9 1405.6,1179.9 1406.4,1178.7 1407.2,1184.9 1407.9,1177.5 1408.7,1178.3 1409.4,1176.1 1410.2,1181.7 1410.9,1180.1 1411.7,1175.4 1412.4,1160.8 1413.2,1181.1 1414.0,1170.5 1414.7,1176.7 1415.5,1172.4 1416.2,1163.9 1417.0,1178.3 1417.7,1171.7 1418.5,1174.4 1419.3,1175.6 1420.0,1189.3 1420.8,1171.8 1421.5,1173.0 1422.3,1170.7 1423.0,1172.8 1423.8,1176.2 1424.5,1172.6 1425.3,1175.1 1426.1,1173.5 1426.8,1172.7 1427.6,1172.1 1428.3,1188.3 1429.1,1167.8 1429.8,1172.7 1430.6,1166.4 1431.3,1176.3 1432.1,1176.2 1432.9,1171.1 1433.6,1165.6 1434.4,1176.0 1435.1,1179.0 1435.9,1160.9 1436.6,1165.6 1437.4,1169.2 1438.2,1169.1 1438.9,1168.9 1439.7,1172.0 1440.4,1164.8 1441.2,1165.0 1441.9,1167.4 1442.7,1158.7 1443.4,1166.0 1444.2,1152.9 1445.0,1151.3 1445.7,1137.5 1446.5,1127.8 1447.2,1106.5 1448.0,1084.9 1448.7,1057.9 1449.5,1015.5 1450.2,981.4 1451.0,909.7 1451.8,850.9 1452.5,789.0 1453.3,789.0 1454.0,789.0 1454.8,789.0 1455.5,789.0 1456.3,789.0 1457.1,789.0 1457.8,789.0 1458.6,789.0 1459.3,789.0 1460.1,789.0 1460.8,789.0 1461.6,789.0 1462.3,789.0 1463.1,789.0 1463.9,789.0 1464.6,789.0 1465.4,789.0 1466.1,789.0 1466.9,789.0 1467.6,789.0 1468.4,789.0 1469.1,789.0 1469.9,789.0 1470.7,789.0 1471.4,789.0 1472.2,789.0 1472.9,789.0 1473.7,789.0 1474.4,789.0 1475.2,789.0 1476.0,789.0 1476.7,789.0 1477.5,789.0 1478.2,837.7 1479.0,888.2 1479.7,967.4 1480.5,1006.8 1481.2,1043.3 1482.0,1073.1 1482.8,1099.6 1483.5,1107.0 1484.3,1126.5 1485.0,1142.6 1485.8,1148.1 1486.5,1141.7 1487.3,1146.9 1488.0,1145.5 1488.8,1147.7 1489.6,1163.2 1490.3,1164.9 1491.1,1152.4 1491.8,1172.4 1492.6,1169.6 1493.3,1165.4 1494.1,1159.4 1494.9,1159.0 1495.6,1167.4 1496.4,1165.8 1497.1,1153.4 1497.9,1164.0 1498.6,1164.0 1499.4,1171.4 1500.1,1157.8 1500.9,1161.3 1501.7,1162.6 1502.4,1163.1 1503.2,1161.2 1503.9,1174.0 1504.7,1161.1 1505.4,1164.2 1506.2,1162.4 1506.9,1167.7 1507.7,1177.0 1508.5,1172.8 1509.2,1177.3 1510.0,1177.4 1510.7,1173.7 1511.5,1164.6 1512.2,1177.9 1513.0,1177.3 1513.8,1176.9 1514.5,1176.4 1515.3,1178.6 1516.0,1176.3 1516.8,1176.4 1517.5,1178.0 1518.3,1183.9 1519.0,1193.6 1519.8,1187.4 1520.6,1172.1 1521.3,1185.0 1522.1,1187.5 1522.8,1189.5 1523.6,1180.7 1524.3,1174.5 1525.1,1189.2 1525.8,1181.1 1526.6,1195.2 1527.4,1176.4 1528.1,1195.8 1528.9,1176.1 1529.6,1195.6 1530.4,1185.1 1531.1,1190.1 1531.9,1188.1 1532.7,1191.7 1533.4,1187.3 1534.2,1190.9 1534.9,1178.9 1535.7,1185.6 1536.4,1178.6 1537.2,1186.0 1537.9,1187.7 1538.7,1185.6 1539.5,1192.6 1540.2,1190.9 1541.0,1189.3 1541.7,1191.0 1542.5,1193.8 1543.2,1179.3 1544.0,1181.6 1544.7,1183.8 1545.5,1177.2 1546.3,1179.9 1547.0,1173.4 1547.8,1175.5 1548.5,1191.6 1549.3,1181.9 1550.0,1172.1 1550.8,1185.9 1551.6,1182.6 1552.3,1173.6 1553.1,1181.5 1553.8,1185.2 1554.6,1189.0 1555.3,1184.5 1556.1,1195.7 1556.8,1187.7 1557.6,1204.0 1558.4,1195.7 1559.1,1199.1 1559.9,1197.9 1560.6,1182.2 1561.4,1197.6 1562.1,1205.9 1562.9,1200.1 1563.6,1191.2 1564.4,1182.2 1565.2,1195.4 1565.9,1185.1 1566.7,1189.3 1567.4,1193.1 1568.2,1194.4 1568.9,1181.9 1569.7,1192.9 1570.5,1190.1 1571.2,1185.2 1572.0,1185.1 1572.7,1189.6 1573.5,1198.0 1574.2,1185.2 1575.0,1193.4 1575.7,1182.8 1576.5,1184.9 1577.3,1188.1 1578.0,1187.7 1578.8,1187.8 1579.5,1184.1 1580.3,1185.1 1581.0,1186.6 1581.8,1193.5 1582.5,1191.8 1583.3,1194.7 1584.1,1197.3 1584.8,1190.0 1585.6,1186.6 1586.3,1186.2 1587.1,1201.0 1587.8,1196.5 1588.6,1200.5 1589.4,1198.3 1590.1,1190.2 1590.9,1194.2 1591.6,1191.6 1592.4,1204.3 1593.1,1194.1 1593.9,1200.1 1594.6,1190.9 1595.4,1198.2 1596.2,1191.6 1596.9,1186.2 1597.7,1198.3 1598.4,1186.1 1599.2,1189.1 1599.9,1196.1 1600.7,1194.3 1601.4,1189.9 1602.2,1193.3 1603.0,1201.7 1603.7,1189.5 1604.5,1178.4 1605.2,1200.7 1606.0,1190.8 1606.7,1191.6 1607.5,1197.6 1608.3,1189.3 1609.0,1189.7 1609.8,1197.1 1610.5,1193.1 1611.3,1187.9 1612.0,1182.5 1612.8,1181.2 1613.5,1192.5 1614.3,1190.4 1615.1,1181.1 1615.8,1188.9 1616.6,1174.7 1617.3,1192.4 1618.1,1190.6 1618.8,1184.8 1619.6,1196.7 1620.3,1192.3 1621.1,1188.1 1621.9,1188.1 1622.6,1188.4 1623.4,1195.1 1624.1,1193.6 1624.9,1186.7 1625.6,1181.5 1626.4,1187.2 1627.2,1190.4 1627.9,1182.5 1628.7,1182.1 1629.4,1185.2 1630.2,1187.5 1630.9,1188.8 1631.7,1190.8 1632.4,1172.0 1633.2,1188.8 1634.0,1184.0 1634.7,1177.6 1635.5,1185.4 1636.2,1167.0 1637.0,1167.5 1637.7,1190.7 1638.5,1169.8 1639.2,1178.9 1640.0,1170.3 1640.8,1173.9 1641.5,1170.1 1642.3,1182.4 1643.0,1163.2 1643.8,1175.0 1644.5,1168.0 1645.3,1166.9 1646.1,1177.4 1646.8,1165.4 1647.6,1168.9 1648.3,1170.9 1649.1,1166.5 1649.8,1168.0 1650.6,1168.3 1651.3,1161.0 1652.1,1154.9 1652.9,1154.1 1653.6,1149.4 1654.4,1155.6 1655.1,1142.8 1655.9,1147.1 1656.6,1146.9 1657.4,1136.5 1658.1,1129.4 1658.9,1142.5 1659.7,1136.3 1660.4,1133.6 1661.2,1132.8 1661.9,1132.9 1662.7,1133.3 1663.4,1129.5 1664.2,1125.7 1665.0,1132.4 1665.7,1133.5 1666.5,1125.2 1667.2,1117.5 1668.0,1136.2 1668.7,1135.5 1669.5,1135.4 1670.2,1128.1 1671.0,1138.4 1671.8,1134.1 1672.5,1129.3 1673.3,1126.5 1674.0,1141.0 1674.8,1131.2 1675.5,1129.3 1676.3,1122.7 1677.0,1132.4 1677.8,1125.6 1678.6,1137.0 1679.3,1126.6 1680.1,1128.4 1680.8,1120.1 1681.6,1118.1 1682.3,1120.5 1683.1,1124.3 1683.9,1120.9 1684.6,1124.2 1685.4,1125.2 1686.1,1138.4 1686.9,1143.7 1687.6,1136.7 1688.4,1153.7 1689.1,1150.2 1689.9,1150.9 1690.7,1154.9 1691.4,1166.7 1692.2,1162.6 1692.9,1167.6 1693.7,1180.2 1694.4,1163.0 1695.2,1164.8 1695.9,1170.3 1696.7,1162.6 1697.5,1165.4 1698.2,1165.0 1699.0,1181.7 1699.7,1174.2 1700.5,1168.4 1701.2,1165.8 1702.0,1175.2 1702.8,1176.4 1703.5,1167.8 1704.3,1175.6 1705.0,1165.7 1705.8,1176.5 1706.5,1172.0 1707.3,1166.9 1708.0,1160.1 1708.8,1169.0 1709.6,1171.8 1710.3,1180.7 1711.1,1166.7 1711.8,1169.2 1712.6,1165.4 1713.3,1174.4 1714.1,1170.6 1714.8,1166.7 1715.6,1171.5 1716.4,1172.4 1717.1,1169.5 1717.9,1177.2 1718.6,1172.2 1719.4,1173.5 1720.1,1176.7 1720.9,1167.0 1721.7,1178.2 1722.4,1174.4 1723.2,1171.0 1723.9,1185.6 1724.7,1174.2 1725.4,1162.6 1726.2,1152.5 1726.9,1149.2 1727.7,1151.3 1728.5,1115.6 1729.2,1113.8 1730.0,1081.7 1730.7,1062.0 1731.5,1040.8 1732.2,993.7 1733.0,941.5 1733.7,883.3 1734.5,828.3 1735.3,789.0 1736.0,789.0 1736.8,789.0 1737.5,789.0 1738.3,789.0 1739.0,789.0 1739.8,789.0 1740.6,789.0 1741.3,789.0 1742.1,789.0 1742.8,789.0 1743.6,789.0 1744.3,789.0 1745.1,789.0 1745.8,789.0 1746.6,789.0 1747.4,789.0 1748.1,789.0 1748.9,789.0 1749.6,789.0 1750.4,789.0 1751.1,789.0 1751.9,789.0 1752.6,789.0 1753.4,789.0 1754.2,801.9 1754.9,861.6 1755.7,918.0 1756.4,979.7 1757.2,1011.2 1757.9,1031.4 1758.7,1084.6 1759.5,1093.6 1760.2,1120.7 1761.0,1145.9 1761.7,1141.7 1762.5,1155.0 1763.2,1167.7 1764.0,1167.3 1764.7,1176.8 1765.5,1171.5 1766.3,1173.6 1767.0,1177.2 1767.8,1177.5 1768.5,1181.7 1769.3,1185.3 1770.0,1188.1 1770.8,1172.1 1771.5,1178.3 1772.3,1181.4 1773.1,1188.0 1773.8,1187.6 1774.6,1176.7 1775.3,1195.9 1776.1,1183.1 1776.8,1199.5 1777.6,1180.5 1778.4,1182.4 1779.1,1196.2 1779.9,1184.4 1780.6,1187.9 1781.4,1194.9 1782.1,1191.4 1782.9,1200.7 1783.6,1183.9 1784.4,1189.0 1785.2,1183.0 1785.9,1191.7 1786.7,1192.6 1787.4,1189.5 1788.2,1179.3 1788.9,1188.8 1789.7,1179.4 1790.4,1180.9 1791.2,1182.8 1792.0,1186.5 1792.7,1189.0 1793.5,1181.9 1794.2,1185.5 1795.0,1199.4 1795.7,1187.2 1796.5,1191.4 1797.3,1185.5 1798.0,1204.2 1798.8,1186.6 1799.5,1190.3 1800.3,1190.3 1801.0,1190.9 1801.8,1198.1 1802.5,1191.6 1803.3,1197.5 1804.1,1205.8 1804.8,1187.2 1805.6,1191.3 1806.3,1188.0 1807.1,1194.2 1807.8,1190.6 1808.6,1196.8 1809.3,1176.7 1810.1,1198.6 1810.9,1188.0 1811.6,1193.1 1812.4,1178.1 1813.1,1197.6 1813.9,1176.8 1814.6,1180.8 1815.4,1189.8 1816.2,1181.9 1816.9,1183.5 1817.7,1201.0 1818.4,1191.3 1819.2,1186.5 1819.9,1185.8 1820.7,1194.5 1821.4,1195.1 1822.2,1189.0 1823.0,1179.1 1823.7,1187.5 1824.5,1176.4 1825.2,1185.4 1826.0,1195.4 1826.7,1200.6 1827.5,1199.6 1828.2,1195.0 1829.0,1197.4 1829.8,1181.8 1830.5,1194.6 1831.3,1179.5 1832.0,1184.1 1832.8,1191.3 1833.5,1203.1 1834.3,1186.1 1835.1,1183.5 1835.8,1192.4 1836.6,1192.9 1837.3,1180.4 1838.1,1187.8 1838.8,1181.3 1839.6,1189.5 1840.3,1186.6 1841.1,1183.8 1841.9,1181.1 1842.6,1183.3 1843.4,1174.1 1844.1,1188.7 1844.9,1189.9 1845.6,1181.2 1846.4,1168.0 1847.1,1184.3 1847.9,1163.4 1848.7,1175.7 1849.4,1174.9 1850.2,1170.6 1850.9,1174.5 1851.7,1176.9 1852.4,1159.5 1853.2,1173.5 1854.0,1161.4 1854.7,1165.2 1855.5,1158.2 1856.2,1162.0 1857.0,1163.9 1857.7,1160.4 1858.5,1163.7 1859.2,1159.9 1860.0,1159.0 1860.8,1158.7 1861.5,1155.5 1862.3,1166.5 1863.0,1148.4 1863.8,1164.4 1864.5,1149.8 1865.3,1141.9 1866.0,1138.0 1866.8,1141.4 1867.6,1141.4 1868.3,1141.6 1869.1,1147.9 1869.8,1126.3 1870.6,1136.7 1871.3,1135.4 1872.1,1123.1 1872.9,1131.2 1873.6,1137.7 1874.4,1135.7 1875.1,1125.0 1875.9,1139.3 1876.6,1133.4 1877.4,1133.4 1878.1,1134.6 1878.9,1144.7 1879.7,1142.6 1880.4,1149.0 1881.2,1146.7 1881.9,1150.9 1882.7,1156.9 1883.4,1159.7 1884.2,1158.4 1884.9,1163.7 1885.7,1164.3 1886.5,1170.4 1887.2,1164.3 1888.0,1172.2 1888.7,1185.6 1889.5,1183.0 1890.2,1184.1 1891.0,1179.2 1891.8,1189.5 1892.5,1189.0 1893.3,1188.8 1894.0,1202.6 1894.8,1183.0 1895.5,1196.4 1896.3,1202.9 1897.0,1203.5 1897.8,1200.8 1898.6,1199.1 1899.3,1197.1 1900.1,1200.8 1900.8,1199.4 1901.6,1199.7 1902.3,1201.3 1903.1,1208.7 1903.8,1202.8 1904.6,1199.4 1905.4,1197.9 1906.1,1207.2 1906.9,1194.9 1907.6,1214.3 1908.4,1203.0 1909.1,1211.5 1909.9,1218.0 1910.7,1214.0 1911.4,1219.5 1912.2,1225.7 1912.9,1216.2 1913.7,1203.7 1914.4,1220.2 1915.2,1213.6 1915.9,1218.4 1916.7,1217.5 1917.5,1203.9 1918.2,1218.3 1919.0,1204.4 1919.7,1208.2 1920.5,1200.6 1921.2,1218.6 1922.0,1208.0 1922.7,1211.5 1923.5,1197.4 1924.3,1203.5 1925.0,1213.2 1925.8,1216.3 1926.5,1207.6 1927.3,1202.5 1928.0,1206.7 1928.8,1208.0 1929.6,1209.3 1930.3,1206.4 1931.1,1215.1 1931.8,1201.9 1932.6,1210.3 1933.3,1209.0 1934.1,1213.0 1934.8,1198.6 1935.6,1205.9 1936.4,1209.3 1937.1,1213.2 1937.9,1208.8 1938.6,1213.4 1939.4,1207.9 1940.1,1206.0 1940.9,1200.3 1941.6,1214.9 1942.4,1226.7 1943.2,1199.4 1943.9,1207.2 1944.7,1204.2 1945.4,1211.9 1946.2,1223.1 1946.9,1208.8 1947.7,1219.0 1948.5,1212.1 1949.2,1205.0 1950.0,1205.3 1950.7,1217.7 1951.5,1209.0 1952.2,1219.5 1953.0,1212.7 1953.7,1211.8 1954.5,1202.0 1955.3,1206.4 1956.0,1196.7 1956.8,1211.0 1957.5,1206.6 1958.3,1216.3 1959.0,1203.5 1959.8,1208.8 1960.5,1204.1 1961.3,1213.0 1962.1,1200.0 1962.8,1207.9 1963.6,1205.2 1964.3,1194.5 1965.1,1203.0 1965.8,1217.2 1966.6,1216.2 1967.4,1209.2 1968.1,1219.9 1968.9,1213.9 1969.6,1216.2 1970.4,1212.2 1971.1,1207.7 1971.9,1212.3 1972.6,1221.9 1973.4,1211.6 1974.2,1196.7 1974.9,1215.3 1975.7,1209.5 1976.4,1196.2 1977.2,1209.9 1977.9,1209.2 1978.7,1210.1 1979.4,1212.9 1980.2,1207.4 1981.0,1209.6 1981.7,1203.3 1982.5,1201.5 1983.2,1209.0 1984.0,1205.8 1984.7,1205.5 1985.5,1204.1 1986.3,1210.0 1987.0,1201.6 1987.8,1206.4 1988.5,1205.9 1989.3,1221.1 1990.0,1215.1 1990.8,1213.4 1991.5,1223.8 1992.3,1204.3 1993.1,1215.9 1993.8,1220.8 1994.6,1212.7 1995.3,1211.0 1996.1,1211.0 1996.8,1215.3 1997.6,1214.4 1998.3,1210.1 1999.1,1219.3 1999.9,1219.0 2000.6,1215.1 2001.4,1199.3 2002.1,1210.3 2002.9,1208.3 2003.6,1201.4 2004.4,1211.2 2005.2,1201.3 2005.9,1213.1 2006.7,1213.9 2007.4,1207.4 2008.2,1218.1 2008.9,1200.7 2009.7,1218.8 2010.4,1210.3 2011.2,1208.0 2012.0,1208.2 2012.7,1219.8 2013.5,1210.7 2014.2,1208.9 2015.0,1225.7 2015.7,1213.1 2016.5,1226.9 2017.2,1212.6 2018.0,1217.5 2018.8,1209.1 2019.5,1210.7 2020.3,1215.1 2021.0,1206.5 2021.8,1212.9 2022.5,1210.1 2023.3,1212.7 2024.1,1221.5 2024.8,1213.0 2025.6,1211.1 2026.3,1206.4 2027.1,1214.0 2027.8,1211.4 2028.6,1218.0 2029.3,1210.8 2030.1,1213.0 2030.9,1208.7 2031.6,1216.0 2032.4,1197.8 2033.1,1209.2 2033.9,1200.9 2034.6,1197.8 2035.4,1207.0 2036.1,1202.2 2036.9,1214.0 2037.7,1210.6 2038.4,1204.9 2039.2,1205.3 2039.9,1214.6 2040.7,1210.8 2041.4,1217.6 2042.2,1205.5 2043.0,1223.8 2043.7,1205.1 2044.5,1195.8 2045.2,1209.9 2046.0,1219.3 2046.7,1204.5 2047.5,1200.8 2048.2,1195.1 2049.0,1202.0 2049.8,1208.2 2050.5,1210.1 2051.3,1212.7 2052.0,1219.8 2052.8,1205.7 2053.5,1217.1 2054.3,1211.8 2055.0,1222.5 2055.8,1215.3 2056.6,1216.0 2057.3,1215.9 2058.1,1209.3 2058.8,1207.5 2059.6,1212.9 2060.3,1206.3 2061.1,1221.6 2061.9,1203.2 2062.6,1212.6 2063.4,1212.6 2064.1,1207.5 2064.9,1208.4 2065.6,1211.7 2066.4,1216.3 2067.1,1211.7 2067.9,1213.1 2068.7,1211.4 2069.4,1227.9 2070.2,1204.1 2070.9,1197.3 2071.7,1220.5 2072.4,1219.6 2073.2,1214.3 2073.9,1203.7 2074.7,1221.0 2075.5,1218.0 2076.2,1217.3 2077.0,1221.3 2077.7,1209.8 2078.5,1206.8 2079.2,1214.6 2080.0,1213.0 2080.8,1209.8 2081.5,1214.6 2082.3,1206.5 2083.0,1213.2 2083.8,1219.8 2084.5,1205.2 2085.3,1208.6 2086.0,1207.5 2086.8,1203.1 2087.6,1215.1 2088.3,1212.4 2089.1,1207.2 2089.8,1216.7 2090.6,1210.0 2091.3,1214.3 2092.1,1210.4 2092.8,1215.7 2093.6,1220.1 2094.4,1205.8 2095.1,1214.2 2095.9,1211.5 2096.6,1210.1 2097.4,1212.2 2098.1,1209.7 2098.9,1219.9 2099.7,1211.6 2100.4,1211.2 2101.2,1222.9 2101.9,1217.1 2102.7,1209.6 2103.4,1211.2 2104.2,1214.5 2104.9,1211.9 2105.7,1209.9 2106.5,1212.5 2107.2,1208.2 2108.0,1222.1 2108.7,1220.1 2109.5,1207.1 2110.2,1216.6 2111.0,1208.7 2111.7,1203.4 2112.5,1209.1 2113.3,1214.3 2114.0,1217.4 2114.8,1208.8 2115.5,1209.2 2116.3,1215.2 2117.0,1217.3 2117.8,1201.4 2118.6,1219.5 2119.3,1206.3 2120.1,1220.5 2120.8,1224.1 2121.6,1216.1 2122.3,1211.9 2123.1,1215.0 2123.8,1224.5 2124.6,1212.6 2125.4,1207.3 2126.1,1220.6 2126.9,1217.5 2127.6,1213.2 2128.4,1222.3 2129.1,1221.3 2129.9,1215.9 2130.6,1213.6 2131.4,1209.6 2132.2,1212.4 2132.9,1199.2 2133.7,1203.4 2134.4,1207.3 2135.2,1213.8 2135.9,1198.2 2136.7,1208.7 2137.5,1215.6 2138.2,1210.5 2139.0,1205.6 2139.7,1218.1 2140.5,1216.8 2141.2,1218.0 2142.0,1210.7 2142.7,1208.4 2143.5,1204.2 2144.3,1209.6 2145.0,1211.0 2145.8,1213.2 2146.5,1220.5 2147.3,1215.2 2148.0,1214.8 2148.8,1208.3 2149.5,1209.2 2150.3,1214.3 2151.1,1218.0 2151.8,1218.0 2152.6,1213.5 2153.3,1213.5 2154.1,1202.4 2154.8,1228.3 2155.6,1214.7 2156.4,1208.0 2157.1,1208.2 2157.9,1215.3 2158.6,1211.5 2159.4,1216.0 2160.1,1206.3 2160.9,1214.4 2161.6,1222.9 2162.4,1211.4 2163.2,1209.0 2163.9,1208.5 2164.7,1209.9 2165.4,1212.8 2166.2,1221.8 2166.9,1220.8 2167.7,1204.6 2168.4,1212.6 2169.2,1206.5 2170.0,1212.3 2170.7,1208.5 2171.5,1217.0 2172.2,1212.3 2173.0,1220.7 2173.7,1214.3 2174.5,1222.8 2175.3,1213.5 2176.0,1207.5 2176.8,1222.5 2177.5,1211.8 2178.3,1201.2 2179.0,1216.1 2179.8,1220.8 2180.5,1208.9 2181.3,1212.5 2182.1,1218.2 2182.8,1214.4 2183.6,1214.1 2184.3,1203.8 2185.1,1206.3 2185.8,1204.3 2186.6,1217.7 2187.3,1213.1 2188.1,1210.1 2188.9,1216.3 2189.6,1219.5 2190.4,1209.9 2191.1,1200.7 2191.9,1206.7 2192.6,1193.9 2193.4,1202.9 2194.2,1206.3 2194.9,1196.6 2195.7,1208.1 2196.4,1211.7 2197.2,1202.9 2197.9,1203.2 2198.7,1212.0 2199.4,1209.8 2200.2,1214.7 2201.0,1213.7 2201.7,1198.0 2202.5,1202.2 2203.2,1199.2 2204.0,1204.0 2204.7,1195.7 2205.5,1204.6 2206.2,1203.8 2207.0,1209.8 2207.8,1215.2 2208.5,1216.5 2209.3,1192.8 2210.0,1208.8 2210.8,1208.0 2211.5,1199.8 2212.3,1218.8 2213.1,1207.4 2213.8,1214.5 2214.6,1217.9 2215.3,1210.6 2216.1,1222.5 2216.8,1199.8 2217.6,1220.0 2218.3,1204.4 2219.1,1217.6 2219.9,1205.7 2220.6,1209.2 2221.4,1215.9 2222.1,1215.8 2222.9,1221.0 2223.6,1219.1 2224.4,1203.1 2225.1,1207.0 2225.9,1214.0 2226.7,1210.1 2227.4,1205.1 2228.2,1210.9 2228.9,1215.0 2229.7,1216.4 2230.4,1220.7 2231.2,1207.0 2232.0,1212.2 2232.7,1215.7 2233.5,1204.6 2234.2,1209.3 2235.0,1210.7 2235.7,1205.4 2236.5,1203.7 2237.2,1219.8 2238.0,1202.2 2238.8,1217.5 2239.5,1214.6 2240.3,1205.0 2241.0,1214.5 2241.8,1205.2 2242.5,1207.2 2243.3,1206.0 2244.0,1205.5 2244.8,1216.1 2245.6,1211.2 2246.3,1214.2 2247.1,1212.7 2247.8,1228.4 2248.6,1204.8 2249.3,1214.9 2250.1,1221.5 2250.9,1207.3 2251.6,1211.0 2252.4,1221.0 2253.1,1223.3 2253.9,1219.4 2254.6,1223.7 2255.4,1211.9 2256.1,1209.8 2256.9,1215.9 2257.7,1219.0 2258.4,1203.8 2259.2,1221.3 2259.9,1210.3 2260.7,1202.9 2261.4,1219.3 2262.2,1208.6 2262.9,1205.1 2263.7,1216.1 2264.5,1208.3 2265.2,1205.8 2266.0,1220.9 2266.7,1204.0 2267.5,1212.2 2268.2,1219.5 2269.0,1214.8 2269.8,1204.8 2270.5,1208.1 2271.3,1206.9 2272.0,1216.0 2272.8,1202.9 2273.5,1224.7 2274.3,1208.2 2275.0,1209.3 2275.8,1201.8 2276.6,1211.8 2277.3,1207.4 2278.1,1206.6 2278.8,1200.0 2279.6,1219.9 2280.3,1211.5 2281.1,1203.8 2281.8,1207.6 2282.6,1217.0 2283.4,1211.9 2284.1,1215.5 2284.9,1206.1 2285.6,1219.9 2286.4,1203.9 2287.1,1213.2 2287.9,1202.4 2288.7,1216.6 2289.4,1216.8 2290.2,1213.4 2290.9,1216.5 2291.7,1218.2 2292.4,1205.5 2293.2,1208.9 2293.9,1204.7 2294.7,1217.4 2295.5,1197.0 2296.2,1201.7 2297.0,1203.7 2297.7,1205.0 2298.5,1216.1 2299.2,1200.2 2300.0,1204.8 2300.7,1206.3 2301.5,1210.0 2302.3,1205.1 2303.0,1207.0 2303.8,1205.8 2304.5,1207.3 2305.3,1207.0 2306.0,1196.0 2306.8,1208.0 2307.6,1206.2 2308.3,1206.1 2309.1,1211.4 2309.8,1214.7 2310.6,1217.8 2311.3,1210.9 2312.1,1209.6 2312.8,1211.7 2313.6,1201.3 2314.4,1207.7 2315.1,1202.6 2315.9,1222.2 2316.6,1214.5 2317.4,1210.1 2318.1,1215.8 2318.9,1214.4 2319.6,1207.8 2320.4,1211.4 2321.2,1206.7 2321.9,1211.3 2322.7,1201.4 2323.4,1203.8 2324.2,1205.3 2324.9,1208.2 2325.7,1198.7 2326.5,1205.5 2327.2,1199.3 2328.0,1204.8 2328.7,1193.4 2329.5,1191.5 2330.2,1202.8 2331.0,1206.4 2331.7,1199.7 2332.5,1220.6 2333.3,1200.4 2334.0,1200.5 2334.8,1206.6 2335.5,1203.6 2336.3,1209.0 2337.0,1200.5 2337.8,1211.6 2338.5,1197.9 2339.3,1201.7 2340.1,1204.2 2340.8,1199.2 2341.6,1208.1 2342.3,1205.4 2343.1,1209.3 2343.8,1198.1 2344.6,1202.9 2345.4,1204.0 2346.1,1209.8 2346.9,1205.6 2347.6,1208.2 2348.4,1208.8 2349.1,1213.0 2349.9,1206.7 2350.6,1194.3 2351.4,1202.2 2352.2,1215.6 2352.9,1202.7 2353.7,1208.9 2354.4,1216.2 2355.2,1202.7 2355.9,1203.2 2356.7,1200.6 2357.4,1211.3 2358.2,1204.2 2359.0,1198.4 2359.7,1200.7 2360.5,1199.7 2361.2,1196.0 2362.0,1209.4 2362.7,1212.4 2363.5,1217.2 2364.3,1204.1 2365.0,1213.8 2365.8,1223.4 2366.5,1195.8 2367.3,1202.5 2368.0,1203.4 2368.8,1221.8 2369.5,1212.3 2370.3,1209.1 2371.1,1207.2 2371.8,1204.5 2372.6,1200.4 2373.3,1204.5 2374.1,1197.6 2374.8,1208.7 2375.6,1205.1 2376.3,1205.3 2377.1,1214.5 2377.9,1209.6 2378.6,1206.5 2379.4,1205.7 2380.1,1200.3 2380.9,1208.8 2381.6,1203.6 2382.4,1199.6 2383.2,1201.5 2383.9,1204.2 2384.7,1198.4 2385.4,1208.2 2386.2,1219.8 2386.9,1196.3 2387.7,1199.9 2388.4,1202.7 2389.2,1205.5 2390.0,1200.6 2390.7,1212.4 2391.5,1204.7 2392.2,1212.4 2393.0,1211.0 2393.7,1203.7 2394.5,1209.0 2395.2,1220.2 2396.0,1202.8 2396.8,1199.9 2397.5,1217.5 2398.3,1202.2 2399.0,1196.8 2399.8,1189.6 2400.5,1205.4 2401.3,1202.7 2402.1,1189.9 2402.8,1202.1 2403.6,1189.3 2404.3,1204.8 2405.1,1208.9 2405.8,1202.2 2406.6,1210.8 2407.3,1191.5 2408.1,1189.5 2408.9,1208.8 2409.6,1193.5 2410.4,1202.3 2411.1,1214.9 2411.9,1208.2 2412.6,1203.0 2413.4,1203.7 2414.1,1212.5 2414.9,1200.7 2415.7,1208.6 2416.4,1208.2 2417.2,1209.5 2417.9,1207.3 2418.7,1204.3 2419.4,1200.6 2420.2,1216.7 2421.0,1208.8 2421.7,1217.8 2422.5,1215.1 2423.2,1198.0 2424.0,1215.4 2424.7,1209.9 2425.5,1216.8 2426.2,1205.4 2427.0,1217.1"/>
<polyline clip-path="url(#c4)" fill="none" stroke="#FF7070" stroke-width="11" stroke-linejoin="round" stroke-linecap="butt" points="159.0,1389.1 159.8,1366.4 160.5,1381.9 161.3,1392.7 162.0,1375.9 162.8,1383.9 163.5,1392.9 164.3,1376.5 165.0,1388.8 165.8,1395.5 166.6,1386.5 167.3,1393.7 168.1,1382.6 168.8,1380.7 169.6,1385.9 170.3,1373.7 171.1,1389.2 171.9,1382.2 172.6,1373.6 173.4,1388.3 174.1,1385.4 174.9,1379.1 175.6,1377.3 176.4,1383.7 177.1,1371.9 177.9,1375.0 178.7,1390.7 179.4,1385.5 180.2,1391.7 180.9,1385.9 181.7,1395.8 182.4,1379.4 183.2,1394.0 183.9,1393.0 184.7,1394.8 185.5,1398.0 186.2,1386.1 187.0,1388.8 187.7,1401.3 188.5,1396.8 189.2,1395.1 190.0,1380.0 190.8,1400.6 191.5,1391.6 192.3,1394.0 193.0,1377.2 193.8,1389.7 194.5,1372.8 195.3,1391.8 196.0,1386.7 196.8,1387.6 197.6,1379.6 198.3,1387.2 199.1,1383.9 199.8,1373.8 200.6,1385.9 201.3,1382.6 202.1,1374.6 202.8,1390.1 203.6,1375.3 204.4,1379.4 205.1,1372.5 205.9,1374.0 206.6,1387.9 207.4,1400.7 208.1,1382.3 208.9,1384.8 209.7,1384.9 210.4,1393.7 211.2,1402.5 211.9,1389.8 212.7,1386.5 213.4,1393.9 214.2,1392.0 214.9,1386.1 215.7,1388.2 216.5,1382.1 217.2,1388.5 218.0,1379.1 218.7,1397.4 219.5,1397.6 220.2,1375.2 221.0,1375.5 221.7,1383.3 222.5,1388.1 223.3,1396.0 224.0,1386.8 224.8,1396.0 225.5,1379.1 226.3,1387.5 227.0,1388.3 227.8,1382.6 228.6,1383.4 229.3,1393.8 230.1,1391.7 230.8,1395.9 231.6,1376.6 232.3,1399.9 233.1,1401.7 233.8,1403.7 234.6,1389.4 235.4,1385.4 236.1,1393.5 236.9,1390.8 237.6,1396.2 238.4,1374.9 239.1,1388.3 239.9,1392.5 240.6,1384.8 241.4,1385.3 242.2,1404.5 242.9,1396.9 243.7,1387.5 244.4,1405.7 245.2,1392.5 245.9,1389.4 246.7,1390.3 247.5,1391.8 248.2,1399.5 249.0,1395.5 249.7,1397.2 250.5,1392.0 251.2,1398.7 252.0,1389.1 252.7,1395.7 253.5,1385.6 254.3,1398.9 255.0,1395.8 255.8,1388.9 256.5,1391.2 257.3,1385.6 258.0,1386.1 258.8,1389.9 259.5,1394.9 260.3,1376.8 261.1,1385.4 261.8,1392.3 262.6,1379.8 263.3,1378.9 264.1,1393.9 264.8,1384.4 265.6,1399.8 266.4,1393.3 267.1,1388.8 267.9,1387.8 268.6,1388.2 269.4,1388.2 270.1,1387.7 270.9,1382.5 271.6,1389.3 272.4,1395.9 273.2,1388.1 273.9,1388.8 274.7,1392.6 275.4,1409.4 276.2,1408.6 276.9,1404.5 277.7,1397.8 278.4,1408.3 279.2,1390.8 280.0,1407.3 280.7,1403.7 281.5,1417.7 282.2,1406.9 283.0,1399.7 283.7,1403.8 284.5,1397.0 285.3,1404.2 286.0,1398.1 286.8,1405.3 287.5,1406.4 288.3,1392.4 289.0,1408.8 289.8,1382.0 290.5,1391.1 291.3,1404.7 292.1,1405.1 292.8,1413.0 293.6,1399.6 294.3,1401.1 295.1,1407.7 295.8,1399.1 296.6,1406.9 297.3,1399.9 298.1,1401.2 298.9,1409.6 299.6,1407.6 300.4,1397.9 301.1,1412.2 301.9,1393.7 302.6,1405.3 303.4,1407.3 304.2,1399.2 304.9,1394.0 305.7,1395.4 306.4,1403.3 307.2,1413.8 307.9,1400.8 308.7,1390.5 309.4,1399.4 310.2,1392.0 311.0,1411.8 311.7,1407.2 312.5,1406.9 313.2,1390.1 314.0,1393.1 314.7,1395.5 315.5,1401.7 316.2,1401.4 317.0,1398.9 317.8,1408.8 318.5,1394.9 319.3,1409.2 320.0,1405.4 320.8,1395.4 321.5,1398.7 322.3,1413.6 323.1,1403.8 323.8,1393.3 324.6,1400.4 325.3,1399.0 326.1,1405.9 326.8,1397.1 327.6,1407.0 328.3,1399.8 329.1,1398.2 329.9,1409.1 330.6,1404.7 331.4,1391.3 332.1,1403.8 332.9,1402.7 333.6,1404.9 334.4,1410.3 335.1,1393.0 335.9,1406.5 336.7,1399.8 337.4,1407.3 338.2,1396.0 338.9,1403.0 339.7,1411.4 340.4,1401.4 341.2,1406.7 342.0,1385.1 342.7,1394.4 343.5,1395.3 344.2,1400.5 345.0,1401.0 345.7,1407.3 346.5,1395.9 347.2,1416.0 348.0,1416.8 348.8,1399.7 349.5,1409.0 350.3,1416.6 351.0,1402.4 351.8,1406.2 352.5,1411.8 353.3,1412.5 354.0,1406.6 354.8,1404.4 355.6,1408.7 356.3,1404.9 357.1,1413.0 357.8,1404.8 358.6,1403.9 359.3,1401.3 360.1,1418.2 360.9,1404.3 361.6,1399.1 362.4,1411.0 363.1,1403.9 363.9,1411.4 364.6,1406.5 365.4,1407.4 366.1,1406.9 366.9,1408.5 367.7,1405.0 368.4,1400.1 369.2,1407.0 369.9,1408.0 370.7,1394.0 371.4,1401.6 372.2,1405.8 372.9,1408.5 373.7,1414.2 374.5,1409.0 375.2,1407.3 376.0,1403.0 376.7,1404.5 377.5,1401.9 378.2,1406.4 379.0,1390.0 379.8,1402.8 380.5,1415.2 381.3,1401.6 382.0,1397.3 382.8,1403.2 383.5,1406.6 384.3,1414.3 385.0,1395.6 385.8,1406.4 386.6,1416.0 387.3,1410.5 388.1,1402.3 388.8,1415.6 389.6,1407.9 390.3,1406.5 391.1,1407.5 391.8,1404.0 392.6,1413.5 393.4,1414.9 394.1,1409.5 394.9,1413.0 395.6,1409.0 396.4,1406.8 397.1,1409.9 397.9,1407.0 398.7,1408.8 399.4,1408.3 400.2,1418.3 400.9,1398.5 401.7,1406.1 402.4,1413.3 403.2,1404.1 403.9,1407.3 404.7,1408.7 405.5,1408.0 406.2,1409.8 407.0,1404.3 407.7,1406.4 408.5,1402.9 409.2,1407.2 410.0,1404.7 410.7,1399.7 411.5,1408.8 412.3,1409.8 413.0,1410.3 413.8,1409.1 414.5,1412.9 415.3,1409.6 416.0,1408.1 416.8,1413.6 417.6,1407.2 418.3,1401.1 419.1,1411.1 419.8,1406.9 420.6,1396.4 421.3,1404.1 422.1,1400.6 422.8,1409.9 423.6,1406.5 424.4,1396.5 425.1,1402.1 425.9,1417.1 426.6,1409.7 427.4,1410.7 428.1,1408.0 428.9,1410.2 429.6,1416.6 430.4,1411.5 431.2,1406.6 431.9,1408.8 432.7,1417.5 433.4,1411.2 434.2,1406.5 434.9,1416.9 435.7,1400.2 436.5,1392.9 437.2,1405.5 438.0,1408.6 438.7,1409.7 439.5,1398.9 440.2,1408.0 441.0,1405.8 441.7,1415.7 442.5,1415.7 443.3,1410.8 444.0,1404.7 444.8,1413.8 445.5,1412.2 446.3,1412.4 447.0,1414.4 447.8,1420.4 448.5,1409.0 449.3,1407.1 450.1,1417.5 450.8,1420.1 451.6,1417.9 452.3,1407.4 453.1,1417.4 453.8,1415.8 454.6,1420.1 455.4,1421.7 456.1,1414.7 456.9,1418.7 457.6,1416.8 458.4,1420.9 459.1,1428.8 459.9,1415.6 460.6,1424.5 461.4,1422.9 462.2,1414.4 462.9,1424.2 463.7,1401.7 464.4,1426.7 465.2,1421.3 465.9,1409.8 466.7,1403.2 467.4,1402.9 468.2,1399.1 469.0,1416.2 469.7,1396.9 470.5,1406.3 471.2,1394.7 472.0,1404.7 472.7,1408.3 473.5,1403.7 474.3,1414.5 475.0,1408.3 475.8,1413.7 476.5,1409.7 477.3,1404.9 478.0,1410.9 478.8,1415.3 479.5,1418.3 480.3,1410.2 481.1,1407.8 481.8,1412.4 482.6,1410.2 483.3,1413.8 484.1,1412.3 484.8,1417.5 485.6,1419.9 486.3,1410.3 487.1,1418.7 487.9,1414.6 488.6,1424.6 489.4,1414.6 490.1,1414.3 490.9,1412.4 491.6,1418.8 492.4,1421.1 493.2,1415.9 493.9,1421.3 494.7,1405.7 495.4,1421.9 496.2,1420.8 496.9,1407.6 497.7,1429.1 498.4,1423.2 499.2,1423.8 500.0,1426.8 500.7,1416.0 501.5,1411.7 502.2,1430.9 503.0,1415.0 503.7,1406.8 504.5,1406.2 505.2,1431.4 506.0,1418.7 506.8,1420.0 507.5,1419.0 508.3,1420.6 509.0,1430.0 509.8,1414.8 510.5,1424.3 511.3,1419.1 512.1,1415.1 512.8,1413.3 513.6,1418.2 514.3,1415.3 515.1,1425.7 515.8,1431.0 516.6,1423.6 517.3,1417.5 518.1,1412.8 518.9,1415.3 519.6,1427.6 520.4,1426.8 521.1,1430.7 521.9,1416.8 522.6,1422.7 523.4,1430.9 524.1,1425.3 524.9,1416.7 525.7,1417.8 526.4,1413.6 527.2,1414.9 527.9,1431.9 528.7,1416.2 529.4,1432.3 530.2,1430.5 531.0,1426.6 531.7,1419.6 532.5,1438.6 533.2,1431.4 534.0,1433.5 534.7,1427.6 535.5,1418.7 536.2,1432.0 537.0,1433.5 537.8,1420.7 538.5,1429.4 539.3,1430.9 540.0,1421.4 540.8,1430.0 541.5,1428.8 542.3,1431.0 543.0,1427.5 543.8,1425.1 544.6,1425.7 545.3,1423.4 546.1,1435.5 546.8,1428.6 547.6,1421.5 548.3,1424.9 549.1,1432.1 549.9,1433.9 550.6,1421.3 551.4,1431.4 552.1,1430.8 552.9,1430.7 553.6,1422.0 554.4,1435.6 555.1,1425.3 555.9,1421.3 556.7,1442.8 557.4,1431.4 558.2,1432.1 558.9,1443.7 559.7,1418.4 560.4,1424.7 561.2,1417.1 561.9,1426.9 562.7,1440.5 563.5,1433.0 564.2,1434.8 565.0,1425.8 565.7,1425.1 566.5,1424.8 567.2,1443.1 568.0,1430.8 568.8,1434.7 569.5,1418.3 570.3,1433.2 571.0,1420.0 571.8,1428.0 572.5,1432.9 573.3,1431.4 574.0,1432.8 574.8,1423.3 575.6,1422.5 576.3,1430.7 577.1,1435.8 577.8,1427.6 578.6,1428.6 579.3,1429.2 580.1,1426.8 580.8,1430.3 581.6,1425.8 582.4,1428.4 583.1,1434.1 583.9,1422.8 584.6,1429.4 585.4,1429.9 586.1,1430.4 586.9,1426.2 587.7,1430.4 588.4,1433.1 589.2,1435.0 589.9,1416.1 590.7,1429.1 591.4,1423.0 592.2,1432.7 592.9,1415.5 593.7,1417.3 594.5,1418.8 595.2,1401.5 596.0,1422.0 596.7,1412.5 597.5,1400.5 598.2,1389.7 599.0,1395.5 599.7,1393.3 600.5,1388.9 601.3,1384.7 602.0,1384.4 602.8,1379.9 603.5,1354.7 604.3,1381.7 605.0,1378.0 605.8,1368.6 606.6,1374.8 607.3,1383.2 608.1,1373.3 608.8,1397.5 609.6,1387.7 610.3,1394.8 611.1,1393.0 611.8,1404.6 612.6,1417.5 613.4,1418.8 614.1,1412.8 614.9,1403.6 615.6,1417.3 616.4,1416.6 617.1,1423.0 617.9,1417.3 618.6,1435.4 619.4,1430.5 620.2,1426.5 620.9,1427.2 621.7,1430.3 622.4,1435.1 623.2,1423.0 623.9,1427.0 624.7,1430.3 625.5,1428.8 626.2,1435.6 627.0,1430.4 627.7,1437.9 628.5,1427.1 629.2,1424.3 630.0,1430.5 630.7,1417.9 631.5,1429.3 632.3,1438.7 633.0,1443.7 633.8,1427.5 634.5,1435.3 635.3,1439.6 636.0,1426.2 636.8,1443.5 637.5,1442.8 638.3,1445.8 639.1,1445.7 639.8,1435.8 640.6,1432.5 641.3,1442.6 642.1,1443.8 642.8,1459.3 643.6,1434.2 644.4,1435.7 645.1,1443.3 645.9,1440.0 646.6,1434.7 647.4,1438.6 648.1,1450.6 648.9,1443.8 649.6,1448.7 650.4,1444.5 651.2,1458.9 651.9,1440.5 652.7,1447.3 653.4,1439.5 654.2,1437.0 654.9,1435.4 655.7,1433.8 656.4,1437.2 657.2,1436.5 658.0,1432.9 658.7,1434.5 659.5,1442.2 660.2,1432.3 661.0,1446.4 661.7,1444.5 662.5,1440.0 663.3,1438.1 664.0,1448.2 664.8,1448.5 665.5,1452.9 666.3,1450.2 667.0,1442.0 667.8,1434.1 668.5,1438.2 669.3,1429.7 670.1,1439.2 670.8,1439.5 671.6,1445.0 672.3,1437.1 673.1,1446.9 673.8,1444.9 674.6,1438.3 675.3,1440.4 676.1,1438.3 676.9,1439.4 677.6,1437.3 678.4,1434.6 679.1,1437.1 679.9,1444.5 680.6,1435.6 681.4,1436.4 682.2,1441.6 682.9,1455.4 683.7,1447.4 684.4,1444.0 685.2,1450.2 685.9,1447.8 686.7,1429.4 687.4,1446.8 688.2,1450.6 689.0,1453.0 689.7,1451.3 690.5,1451.3 691.2,1435.5 692.0,1442.3 692.7,1445.3 693.5,1454.9 694.2,1438.7 695.0,1447.8 695.8,1448.2 696.5,1451.2 697.3,1444.9 698.0,1448.7 698.8,1441.3 699.5,1432.8 700.3,1430.5 701.1,1443.2 701.8,1431.9 702.6,1451.1 703.3,1446.8 704.1,1443.8 704.8,1440.2 705.6,1442.8 706.3,1449.4 707.1,1446.6 707.9,1438.3 708.6,1455.3 709.4,1445.4 710.1,1443.5 710.9,1447.6 711.6,1447.0 712.4,1457.0 713.1,1449.1 713.9,1445.8 714.7,1448.2 715.4,1449.5 716.2,1441.2 716.9,1437.2 717.7,1443.3 718.4,1446.8 719.2,1435.7 720.0,1436.0 720.7,1442.2 721.5,1445.7 722.2,1447.7 723.0,1438.3 723.7,1449.4 724.5,1434.0 725.2,1442.4 726.0,1443.9 726.8,1457.8 727.5,1451.2 728.3,1438.7 729.0,1451.1 729.8,1445.7 730.5,1448.3 731.3,1455.4 732.0,1447.5 732.8,1443.0 733.6,1448.9 734.3,1451.7 735.1,1449.6 735.8,1444.5 736.6,1447.1 737.3,1447.6 738.1,1448.2 738.9,1453.2 739.6,1455.3 740.4,1446.1 741.1,1440.5 741.9,1450.6 742.6,1443.4 743.4,1456.7 744.1,1450.8 744.9,1453.0 745.7,1435.3 746.4,1448.7 747.2,1454.2 747.9,1441.9 748.7,1450.3 749.4,1458.8 750.2,1455.7 750.9,1445.4 751.7,1457.6 752.5,1456.8 753.2,1456.8 754.0,1454.5 754.7,1454.4 755.5,1451.0 756.2,1448.9 757.0,1442.3 757.8,1456.0 758.5,1455.2 759.3,1453.0 760.0,1456.4 760.8,1457.4 761.5,1449.0 762.3,1453.9 763.0,1457.6 763.8,1464.1 764.6,1452.8 765.3,1456.1 766.1,1451.2 766.8,1451.2 767.6,1463.2 768.3,1440.6 769.1,1461.7 769.8,1451.4 770.6,1453.1 771.4,1456.4 772.1,1457.4 772.9,1461.3 773.6,1463.6 774.4,1464.6 775.1,1448.7 775.9,1458.8 776.7,1461.4 777.4,1462.2 778.2,1451.0 778.9,1469.4 779.7,1466.1 780.4,1459.9 781.2,1478.0 781.9,1453.5 782.7,1458.1 783.5,1458.4 784.2,1462.9 785.0,1454.8 785.7,1454.6 786.5,1465.5 787.2,1456.9 788.0,1463.9 788.7,1466.4 789.5,1456.0 790.3,1451.7 791.0,1454.3 791.8,1460.2 792.5,1463.8 793.3,1458.5 794.0,1448.8 794.8,1457.7 795.6,1466.6 796.3,1465.5 797.1,1451.4 797.8,1457.1 798.6,1457.9 799.3,1445.9 800.1,1458.3 800.8,1445.2 801.6,1446.4 802.4,1451.3 803.1,1447.8 803.9,1458.2 804.6,1460.3 805.4,1454.8 806.1,1457.2 806.9,1464.4 807.6,1462.1 808.4,1473.7 809.2,1469.8 809.9,1450.7 810.7,1460.3 811.4,1457.1 812.2,1454.1 812.9,1469.1 813.7,1462.3 814.5,1454.6 815.2,1471.0 816.0,1470.1 816.7,1458.4 817.5,1462.8 818.2,1454.8 819.0,1457.2 819.7,1446.8 820.5,1453.6 821.3,1456.8 822.0,1450.2 822.8,1464.1 823.5,1448.7 824.3,1457.0 825.0,1457.0 825.8,1445.9 826.5,1463.4 827.3,1457.5 828.1,1463.0 828.8,1457.8 829.6,1459.0 830.3,1467.9 831.1,1457.0 831.8,1459.2 832.6,1453.8 833.4,1459.1 834.1,1456.6 834.9,1457.7 835.6,1466.1 836.4,1455.3 837.1,1459.2 837.9,1457.0 838.6,1475.0 839.4,1460.2 840.2,1458.8 840.9,1462.5 841.7,1452.9 842.4,1472.6 843.2,1457.7 843.9,1458.9 844.7,1468.7 845.4,1457.9 846.2,1474.4 847.0,1467.2 847.7,1474.6 848.5,1454.5 849.2,1464.2 850.0,1468.4 850.7,1460.4 851.5,1475.3 852.3,1465.8 853.0,1462.7 853.8,1465.5 854.5,1469.4 855.3,1463.6 856.0,1463.7 856.8,1461.5 857.5,1466.4 858.3,1463.3 859.1,1462.4 859.8,1470.0 860.6,1460.7 861.3,1455.8 862.1,1460.8 862.8,1458.7 863.6,1457.1 864.3,1466.7 865.1,1463.0 865.9,1464.2 866.6,1473.0 867.4,1469.1 868.1,1467.5 868.9,1464.5 869.6,1474.1 870.4,1466.4 871.2,1478.6 871.9,1477.6 872.7,1470.1 873.4,1476.3 874.2,1477.7 874.9,1473.7 875.7,1476.8 876.4,1482.7 877.2,1464.1 878.0,1476.4 878.7,1477.5 879.5,1476.8 880.2,1469.4 881.0,1471.2 881.7,1471.4 882.5,1483.1 883.2,1466.4 884.0,1475.1 884.8,1476.3 885.5,1468.6 886.3,1480.6 887.0,1466.8 887.8,1462.9 888.5,1465.2 889.3,1469.6 890.1,1474.2 890.8,1462.1 891.6,1463.3 892.3,1476.7 893.1,1474.1 893.8,1466.7 894.6,1463.3 895.3,1460.3 896.1,1465.3 896.9,1476.5 897.6,1467.8 898.4,1479.1 899.1,1472.0 899.9,1463.1 900.6,1477.0 901.4,1471.1 902.1,1470.1 902.9,1474.4 903.7,1465.7 904.4,1485.6 905.2,1464.5 905.9,1467.1 906.7,1467.4 907.4,1478.9 908.2,1469.1 909.0,1460.6 909.7,1472.9 910.5,1465.1 911.2,1465.8 912.0,1462.2 912.7,1474.9 913.5,1470.2 914.2,1464.1 915.0,1466.2 915.8,1474.8 916.5,1460.8 917.3,1476.4 918.0,1458.7 918.8,1474.1 919.5,1469.5 920.3,1475.2 921.0,1471.9 921.8,1485.7 922.6,1471.6 923.3,1470.1 924.1,1474.2 924.8,1468.0 925.6,1464.3 926.3,1471.4 927.1,1473.7 927.9,1467.9 928.6,1477.6 929.4,1472.3 930.1,1482.2 930.9,1478.8 931.6,1459.9 932.4,1475.2 933.1,1474.7 933.9,1463.9 934.7,1477.1 935.4,1462.8 936.2,1468.5 936.9,1467.3 937.7,1478.6 938.4,1461.7 939.2,1470.5 939.9,1464.8 940.7,1463.7 941.5,1453.8 942.2,1479.4 943.0,1449.5 943.7,1455.8 944.5,1464.9 945.2,1453.8 946.0,1455.5 946.8,1446.8 947.5,1452.7 948.3,1449.1 949.0,1445.4 949.8,1433.8 950.5,1429.3 951.3,1424.5 952.0,1404.9 952.8,1412.5 953.6,1419.0 954.3,1395.3 955.1,1402.7 955.8,1391.5 956.6,1386.5 957.3,1375.1 958.1,1390.8 958.8,1378.4 959.6,1386.0 960.4,1392.7 961.1,1400.6 961.9,1401.1 962.6,1406.5 963.4,1411.2 964.1,1427.4 964.9,1417.4 965.7,1430.8 966.4,1436.4 967.2,1446.3 967.9,1450.6 968.7,1457.1 969.4,1453.2 970.2,1458.2 970.9,1469.7 971.7,1478.9 972.5,1468.4 973.2,1467.2 974.0,1477.5 974.7,1474.5 975.5,1465.0 976.2,1483.9 977.0,1475.6 977.7,1481.9 978.5,1472.7 979.3,1467.0 980.0,1477.9 980.8,1478.3 981.5,1480.1 982.3,1479.1 983.0,1487.6 983.8,1483.1 984.6,1479.4 985.3,1474.0 986.1,1469.2 986.8,1480.6 987.6,1476.9 988.3,1478.9 989.1,1474.5 989.8,1479.4 990.6,1480.4 991.4,1479.7 992.1,1478.6 992.9,1476.0 993.6,1483.7 994.4,1483.0 995.1,1472.3 995.9,1474.8 996.6,1475.0 997.4,1475.7 998.2,1475.5 998.9,1473.3 999.7,1468.7 1000.4,1487.1 1001.2,1475.2 1001.9,1478.3 1002.7,1487.1 1003.5,1482.7 1004.2,1487.2 1005.0,1474.0 1005.7,1479.0 1006.5,1484.7 1007.2,1476.9 1008.0,1472.8 1008.7,1479.5 1009.5,1484.6 1010.3,1466.2 1011.0,1481.5 1011.8,1479.2 1012.5,1468.6 1013.3,1472.0 1014.0,1478.1 1014.8,1462.7 1015.5,1474.1 1016.3,1476.6 1017.1,1473.3 1017.8,1473.9 1018.6,1462.1 1019.3,1466.0 1020.1,1473.0 1020.8,1491.0 1021.6,1475.6 1022.4,1477.6 1023.1,1475.2 1023.9,1478.7 1024.6,1467.1 1025.4,1488.3 1026.1,1470.5 1026.9,1464.3 1027.6,1471.9 1028.4,1475.7 1029.2,1475.7 1029.9,1466.2 1030.7,1477.2 1031.4,1472.5 1032.2,1485.0 1032.9,1473.1 1033.7,1484.7 1034.4,1464.8 1035.2,1475.2 1036.0,1485.1 1036.7,1481.0 1037.5,1478.9 1038.2,1475.2 1039.0,1478.3 1039.7,1481.2 1040.5,1466.7 1041.3,1481.0 1042.0,1481.9 1042.8,1473.2 1043.5,1483.1 1044.3,1473.8 1045.0,1476.6 1045.8,1484.8 1046.5,1465.4 1047.3,1476.9 1048.1,1473.4 1048.8,1478.4 1049.6,1475.0 1050.3,1479.7 1051.1,1483.8 1051.8,1487.6 1052.6,1488.3 1053.3,1494.3 1054.1,1493.4 1054.9,1493.5 1055.6,1484.7 1056.4,1487.8 1057.1,1492.2 1057.9,1477.7 1058.6,1484.3 1059.4,1486.3 1060.2,1484.7 1060.9,1487.1 1061.7,1486.5 1062.4,1496.7 1063.2,1483.3 1063.9,1475.3 1064.7,1476.7 1065.4,1478.1 1066.2,1485.0 1067.0,1489.7 1067.7,1486.6 1068.5,1477.8 1069.2,1486.4 1070.0,1494.0 1070.7,1480.5 1071.5,1481.3 1072.2,1487.7 1073.0,1485.9 1073.8,1476.2 1074.5,1466.6 1075.3,1474.6 1076.0,1492.4 1076.8,1476.2 1077.5,1486.3 1078.3,1486.1 1079.1,1483.3 1079.8,1480.0 1080.6,1485.9 1081.3,1485.9 1082.1,1498.3 1082.8,1491.9 1083.6,1507.8 1084.3,1499.6 1085.1,1494.9 1085.9,1483.2 1086.6,1492.7 1087.4,1489.3 1088.1,1494.5 1088.9,1489.6 1089.6,1490.1 1090.4,1505.4 1091.1,1493.3 1091.9,1494.9 1092.7,1490.7 1093.4,1494.4 1094.2,1504.2 1094.9,1485.2 1095.7,1492.4 1096.4,1489.3 1097.2,1495.9 1098.0,1482.3 1098.7,1500.0 1099.5,1494.4 1100.2,1492.1 1101.0,1483.8 1101.7,1490.6 1102.5,1500.5 1103.2,1493.5 1104.0,1483.7 1104.8,1482.4 1105.5,1479.7 1106.3,1495.2 1107.0,1481.6 1107.8,1482.8 1108.5,1487.6 1109.3,1474.0 1110.0,1484.7 1110.8,1491.4 1111.6,1494.9 1112.3,1489.5 1113.1,1481.8 1113.8,1490.1 1114.6,1486.9 1115.3,1488.0 1116.1,1493.1 1116.9,1480.1 1117.6,1482.5 1118.4,1503.5 1119.1,1485.5 1119.9,1493.0 1120.6,1483.3 1121.4,1495.2 1122.1,1497.7 1122.9,1486.2 1123.7,1504.5 1124.4,1495.0 1125.2,1509.6 1125.9,1490.8 1126.7,1499.3 1127.4,1506.6 1128.2,1504.8 1128.9,1505.8 1129.7,1502.4 1130.5,1497.2 1131.2,1501.7 1132.0,1499.1 1132.7,1492.7 1133.5,1500.1 1134.2,1502.9 1135.0,1501.3 1135.8,1479.4 1136.5,1496.0 1137.3,1495.9 1138.0,1497.3 1138.8,1499.9 1139.5,1501.4 1140.3,1500.9 1141.0,1495.7 1141.8,1501.2 1142.6,1487.4 1143.3,1493.9 1144.1,1502.2 1144.8,1493.9 1145.6,1485.1 1146.3,1490.9 1147.1,1489.5 1147.8,1483.5 1148.6,1490.6 1149.4,1494.4 1150.1,1484.3 1150.9,1495.2 1151.6,1476.5 1152.4,1487.7 1153.1,1494.4 1153.9,1495.0 1154.7,1498.4 1155.4,1491.5 1156.2,1489.5 1156.9,1479.6 1157.7,1489.0 1158.4,1486.7 1159.2,1499.4 1159.9,1497.2 1160.7,1494.2 1161.5,1499.6 1162.2,1502.5 1163.0,1498.1 1163.7,1490.3 1164.5,1488.3 1165.2,1498.8 1166.0,1507.5 1166.7,1497.7 1167.5,1490.7 1168.3,1498.1 1169.0,1489.8 1169.8,1484.7 1170.5,1497.3 1171.3,1491.9 1172.0,1504.5 1172.8,1477.8 1173.6,1491.7 1174.3,1495.8 1175.1,1492.1 1175.8,1493.8 1176.6,1501.9 1177.3,1484.8 1178.1,1485.8 1178.8,1485.6 1179.6,1499.7 1180.4,1490.5 1181.1,1493.9 1181.9,1483.9 1182.6,1486.0 1183.4,1492.0 1184.1,1510.8 1184.9,1488.9 1185.6,1486.5 1186.4,1498.1 1187.2,1495.2 1187.9,1475.5 1188.7,1493.8 1189.4,1486.4 1190.2,1492.8 1190.9,1489.9 1191.7,1499.1 1192.5,1490.3 1193.2,1484.6 1194.0,1492.7 1194.7,1479.8 1195.5,1477.2 1196.2,1488.7 1197.0,1478.8 1197.7,1489.4 1198.5,1486.4 1199.3,1483.6 1200.0,1488.5 1200.8,1485.7 1201.5,1481.8 1202.3,1481.4 1203.0,1479.1 1203.8,1476.3 1204.5,1464.9 1205.3,1453.2 1206.1,1457.7 1206.8,1461.4 1207.6,1469.2 1208.3,1453.7 1209.1,1460.8 1209.8,1460.6 1210.6,1462.4 1211.4,1464.6 1212.1,1460.0 1212.9,1461.1 1213.6,1450.0 1214.4,1459.2 1215.1,1460.5 1215.9,1475.8 1216.6,1476.1 1217.4,1477.3 1218.2,1472.1 1218.9,1472.4 1219.7,1470.4 1220.4,1475.7 1221.2,1469.4 1221.9,1477.6 1222.7,1478.6 1223.4,1484.4 1224.2,1505.2 1225.0,1499.0 1225.7,1484.8 1226.5,1501.1 1227.2,1488.8 1228.0,1486.8 1228.7,1495.2 1229.5,1492.1 1230.3,1489.2 1231.0,1493.8 1231.8,1496.4 1232.5,1511.1 1233.3,1491.8 1234.0,1495.7 1234.8,1506.8 1235.5,1494.1 1236.3,1495.9 1237.1,1492.1 1237.8,1496.9 1238.6,1499.7 1239.3,1492.7 1240.1,1507.0 1240.8,1488.8 1241.6,1494.5 1242.3,1493.8 1243.1,1495.6 1243.9,1487.2 1244.6,1491.2 1245.4,1495.4 1246.1,1502.2 1246.9,1500.3 1247.6,1496.8 1248.4,1496.9 1249.2,1509.5 1249.9,1498.8 1250.7,1501.6 1251.4,1502.0 1252.2,1504.1 1252.9,1505.6 1253.7,1503.1 1254.4,1510.9 1255.2,1509.9 1256.0,1507.1 1256.7,1517.3 1257.5,1498.3 1258.2,1506.5 1259.0,1510.1 1259.7,1500.3 1260.5,1508.1 1261.2,1503.2 1262.0,1497.3 1262.8,1508.5 1263.5,1498.2 1264.3,1500.2 1265.0,1502.5 1265.8,1500.4 1266.5,1500.2 1267.3,1502.4 1268.1,1501.5 1268.8,1511.8 1269.6,1504.6 1270.3,1514.6 1271.1,1503.7 1271.8,1512.8 1272.6,1502.3 1273.3,1497.5 1274.1,1506.6 1274.9,1495.8 1275.6,1515.1 1276.4,1511.8 1277.1,1510.6 1277.9,1506.5 1278.6,1509.1 1279.4,1506.7 1280.1,1519.1 1280.9,1511.1 1281.7,1504.5 1282.4,1502.9 1283.2,1513.0 1283.9,1507.0 1284.7,1513.3 1285.4,1507.4 1286.2,1511.5 1287.0,1491.8 1287.7,1508.8 1288.5,1501.1 1289.2,1511.0 1290.0,1511.3 1290.7,1508.7 1291.5,1505.1 1292.2,1505.0 1293.0,1505.0 1293.8,1504.6 1294.5,1495.0 1295.3,1505.9 1296.0,1503.4 1296.8,1499.1 1297.5,1509.3 1298.3,1499.3 1299.0,1505.1 1299.8,1508.2 1300.6,1514.1 1301.3,1501.9 1302.1,1506.2 1302.8,1492.1 1303.6,1502.0 1304.3,1499.7 1305.1,1505.0 1305.9,1493.2 1306.6,1508.2 1307.4,1507.0 1308.1,1511.5 1308.9,1504.6 1309.6,1503.9 1310.4,1504.5 1311.1,1507.9 1311.9,1495.0 1312.7,1511.1 1313.4,1501.3 1314.2,1492.1 1314.9,1505.6 1315.7,1515.6 1316.4,1499.6 1317.2,1497.0 1317.9,1486.9 1318.7,1492.7 1319.5,1505.7 1320.2,1499.1 1321.0,1506.7 1321.7,1499.2 1322.5,1506.8 1323.2,1497.7 1324.0,1509.9 1324.8,1497.7 1325.5,1514.3 1326.3,1497.1 1327.0,1496.8 1327.8,1507.3 1328.5,1509.3 1329.3,1491.9 1330.0,1487.8 1330.8,1505.7 1331.6,1494.8 1332.3,1490.1 1333.1,1505.6 1333.8,1488.2 1334.6,1498.0 1335.3,1501.3 1336.1,1503.7 1336.8,1505.1 1337.6,1492.9 1338.4,1501.7 1339.1,1501.9 1339.9,1509.3 1340.6,1503.3 1341.4,1493.2 1342.1,1492.3 1342.9,1497.3 1343.7,1515.3 1344.4,1500.1 1345.2,1494.8 1345.9,1502.5 1346.7,1507.9 1347.4,1504.2 1348.2,1500.6 1348.9,1513.1 1349.7,1509.5 1350.5,1510.3 1351.2,1496.8 1352.0,1498.4 1352.7,1498.8 1353.5,1502.4 1354.2,1503.4 1355.0,1493.3 1355.7,1495.3 1356.5,1502.8 1357.3,1503.8 1358.0,1512.3 1358.8,1501.1 1359.5,1506.8 1360.3,1488.1 1361.0,1502.7 1361.8,1490.5 1362.6,1494.5 1363.3,1500.8 1364.1,1500.7 1364.8,1495.8 1365.6,1504.1 1366.3,1488.7 1367.1,1496.0 1367.8,1500.1 1368.6,1495.3 1369.4,1499.3 1370.1,1509.8 1370.9,1493.5 1371.6,1495.5 1372.4,1489.9 1373.1,1487.3 1373.9,1493.5 1374.6,1500.3 1375.4,1488.8 1376.2,1500.4 1376.9,1495.0 1377.7,1485.4 1378.4,1483.6 1379.2,1484.1 1379.9,1493.6 1380.7,1489.2 1381.5,1497.5 1382.2,1488.4 1383.0,1490.3 1383.7,1493.2 1384.5,1499.6 1385.2,1477.6 1386.0,1493.0 1386.7,1485.9 1387.5,1490.6 1388.3,1483.0 1389.0,1493.9 1389.8,1480.6 1390.5,1488.7 1391.3,1489.3 1392.0,1493.3 1392.8,1479.7 1393.5,1477.2 1394.3,1498.9 1395.1,1495.9 1395.8,1486.8 1396.6,1488.6 1397.3,1481.3 1398.1,1499.9 1398.8,1480.0 1399.6,1492.9 1400.4,1490.0 1401.1,1497.1 1401.9,1498.2 1402.6,1484.5 1403.4,1485.6 1404.1,1493.3 1404.9,1481.4 1405.6,1497.4 1406.4,1494.2 1407.2,1477.7 1407.9,1499.8 1408.7,1482.7 1409.4,1492.1 1410.2,1479.0 1410.9,1493.1 1411.7,1480.9 1412.4,1476.2 1413.2,1486.8 1414.0,1476.6 1414.7,1472.0 1415.5,1471.6 1416.2,1478.0 1417.0,1478.4 1417.7,1472.7 1418.5,1472.0 1419.3,1474.3 1420.0,1469.9 1420.8,1481.7 1421.5,1481.4 1422.3,1468.1 1423.0,1469.7 1423.8,1489.4 1424.5,1477.0 1425.3,1467.2 1426.1,1474.2 1426.8,1469.2 1427.6,1470.5 1428.3,1479.1 1429.1,1467.6 1429.8,1467.4 1430.6,1469.1 1431.3,1472.3 1432.1,1467.4 1432.9,1480.6 1433.6,1463.2 1434.4,1473.1 1435.1,1459.6 1435.9,1457.2 1436.6,1463.4 1437.4,1462.5 1438.2,1451.1 1438.9,1455.9 1439.7,1467.7 1440.4,1470.3 1441.2,1472.2 1441.9,1468.2 1442.7,1452.9 1443.4,1455.5 1444.2,1449.9 1445.0,1438.5 1445.7,1437.3 1446.5,1419.1 1447.2,1408.8 1448.0,1386.0 1448.7,1359.7 1449.5,1322.7 1450.2,1273.9 1451.0,1224.2 1451.8,1174.9 1452.5,1108.0 1453.3,1088.0 1454.0,1088.0 1454.8,1088.0 1455.5,1088.0 1456.3,1088.0 1457.1,1088.0 1457.8,1088.0 1458.6,1088.0 1459.3,1088.0 1460.1,1088.0 1460.8,1088.0 1461.6,1088.0 1462.3,1088.0 1463.1,1088.0 1463.9,1088.0 1464.6,1088.0 1465.4,1088.0 1466.1,1088.0 1466.9,1088.0 1467.6,1088.0 1468.4,1088.0 1469.1,1088.0 1469.9,1088.0 1470.7,1088.0 1471.4,1088.0 1472.2,1088.0 1472.9,1088.0 1473.7,1123.0 1474.4,1197.1 1475.2,1246.1 1476.0,1279.6 1476.7,1325.6 1477.5,1357.2 1478.2,1390.1 1479.0,1402.7 1479.7,1421.8 1480.5,1445.4 1481.2,1428.5 1482.0,1455.9 1482.8,1454.1 1483.5,1456.7 1484.3,1453.2 1485.0,1459.3 1485.8,1468.5 1486.5,1457.9 1487.3,1458.0 1488.0,1473.6 1488.8,1465.6 1489.6,1465.3 1490.3,1458.7 1491.1,1466.0 1491.8,1466.0 1492.6,1465.7 1493.3,1465.3 1494.1,1467.5 1494.9,1471.6 1495.6,1459.6 1496.4,1467.0 1497.1,1468.9 1497.9,1464.9 1498.6,1466.6 1499.4,1460.7 1500.1,1461.0 1500.9,1467.9 1501.7,1472.4 1502.4,1477.6 1503.2,1486.5 1503.9,1479.4 1504.7,1484.7 1505.4,1474.6 1506.2,1477.9 1506.9,1476.9 1507.7,1475.2 1508.5,1489.8 1509.2,1478.0 1510.0,1480.6 1510.7,1489.0 1511.5,1479.7 1512.2,1484.3 1513.0,1487.3 1513.8,1489.4 1514.5,1484.6 1515.3,1477.1 1516.0,1479.9 1516.8,1482.8 1517.5,1478.5 1518.3,1475.8 1519.0,1487.7 1519.8,1493.0 1520.6,1482.4 1521.3,1470.1 1522.1,1496.6 1522.8,1479.3 1523.6,1480.5 1524.3,1482.1 1525.1,1476.3 1525.8,1486.9 1526.6,1483.3 1527.4,1484.7 1528.1,1480.8 1528.9,1478.1 1529.6,1485.8 1530.4,1473.2 1531.1,1474.5 1531.9,1482.4 1532.7,1482.3 1533.4,1474.6 1534.2,1476.7 1534.9,1477.9 1535.7,1491.8 1536.4,1480.4 1537.2,1478.6 1537.9,1477.8 1538.7,1488.6 1539.5,1482.2 1540.2,1487.1 1541.0,1499.6 1541.7,1491.7 1542.5,1478.0 1543.2,1494.9 1544.0,1481.0 1544.7,1486.5 1545.5,1493.8 1546.3,1483.6 1547.0,1479.0 1547.8,1491.8 1548.5,1471.6 1549.3,1481.3 1550.0,1487.2 1550.8,1485.2 1551.6,1472.5 1552.3,1485.0 1553.1,1490.7 1553.8,1472.0 1554.6,1485.1 1555.3,1486.3 1556.1,1493.8 1556.8,1491.3 1557.6,1482.1 1558.4,1481.9 1559.1,1489.3 1559.9,1475.7 1560.6,1494.2 1561.4,1495.9 1562.1,1494.5 1562.9,1487.2 1563.6,1485.6 1564.4,1482.9 1565.2,1488.7 1565.9,1496.3 1566.7,1489.5 1567.4,1486.9 1568.2,1495.9 1568.9,1489.8 1569.7,1492.8 1570.5,1487.1 1571.2,1497.3 1572.0,1494.2 1572.7,1484.0 1573.5,1498.1 1574.2,1489.7 1575.0,1495.2 1575.7,1492.8 1576.5,1479.2 1577.3,1486.6 1578.0,1504.2 1578.8,1489.7 1579.5,1486.9 1580.3,1486.5 1581.0,1484.2 1581.8,1488.9 1582.5,1498.3 1583.3,1484.4 1584.1,1479.8 1584.8,1488.5 1585.6,1479.8 1586.3,1486.9 1587.1,1499.5 1587.8,1494.2 1588.6,1484.6 1589.4,1504.7 1590.1,1487.6 1590.9,1498.3 1591.6,1488.5 1592.4,1484.5 1593.1,1486.7 1593.9,1488.6 1594.6,1495.8 1595.4,1491.2 1596.2,1496.3 1596.9,1487.4 1597.7,1503.1 1598.4,1501.3 1599.2,1488.4 1599.9,1488.6 1600.7,1487.4 1601.4,1477.8 1602.2,1471.0 1603.0,1486.0 1603.7,1483.5 1604.5,1495.1 1605.2,1485.7 1606.0,1494.5 1606.7,1489.2 1607.5,1479.3 1608.3,1498.1 1609.0,1491.7 1609.8,1486.9 1610.5,1499.6 1611.3,1479.6 1612.0,1493.7 1612.8,1496.9 1613.5,1492.6 1614.3,1497.7 1615.1,1484.1 1615.8,1490.7 1616.6,1493.3 1617.3,1490.5 1618.1,1503.9 1618.8,1487.1 1619.6,1499.9 1620.3,1493.0 1621.1,1496.9 1621.9,1494.3 1622.6,1489.9 1623.4,1500.0 1624.1,1483.7 1624.9,1492.9 1625.6,1498.4 1626.4,1487.7 1627.2,1494.4 1627.9,1491.2 1628.7,1481.0 1629.4,1492.8 1630.2,1497.6 1630.9,1490.9 1631.7,1500.8 1632.4,1483.1 1633.2,1491.6 1634.0,1496.5 1634.7,1489.0 1635.5,1490.6 1636.2,1485.7 1637.0,1482.7 1637.7,1491.8 1638.5,1504.0 1639.2,1483.8 1640.0,1486.2 1640.8,1488.6 1641.5,1479.3 1642.3,1489.2 1643.0,1480.2 1643.8,1489.5 1644.5,1478.9 1645.3,1470.4 1646.1,1480.9 1646.8,1465.0 1647.6,1480.4 1648.3,1466.1 1649.1,1465.5 1649.8,1465.7 1650.6,1476.5 1651.3,1466.8 1652.1,1477.3 1652.9,1471.9 1653.6,1466.9 1654.4,1466.5 1655.1,1459.8 1655.9,1460.2 1656.6,1452.9 1657.4,1456.8 1658.1,1449.5 1658.9,1457.5 1659.7,1453.1 1660.4,1450.6 1661.2,1455.5 1661.9,1443.4 1662.7,1454.2 1663.4,1450.9 1664.2,1434.3 1665.0,1447.3 1665.7,1449.5 1666.5,1443.1 1667.2,1453.6 1668.0,1437.1 1668.7,1442.7 1669.5,1441.5 1670.2,1456.3 1671.0,1449.6 1671.8,1437.8 1672.5,1456.2 1673.3,1457.2 1674.0,1453.7 1674.8,1434.5 1675.5,1440.7 1676.3,1444.2 1677.0,1446.4 1677.8,1449.3 1678.6,1446.1 1679.3,1452.2 1680.1,1448.5 1680.8,1441.3 1681.6,1448.8 1682.3,1444.2 1683.1,1449.3 1683.9,1459.4 1684.6,1463.4 1685.4,1462.1 1686.1,1450.5 1686.9,1454.9 1687.6,1465.7 1688.4,1470.0 1689.1,1455.1 1689.9,1457.7 1690.7,1467.0 1691.4,1471.7 1692.2,1474.6 1692.9,1469.2 1693.7,1484.0 1694.4,1465.3 1695.2,1478.5 1695.9,1481.5 1696.7,1484.3 1697.5,1480.6 1698.2,1487.8 1699.0,1482.2 1699.7,1471.7 1700.5,1480.1 1701.2,1483.3 1702.0,1473.5 1702.8,1493.8 1703.5,1470.2 1704.3,1481.1 1705.0,1487.1 1705.8,1474.6 1706.5,1486.1 1707.3,1468.1 1708.0,1466.3 1708.8,1476.4 1709.6,1478.7 1710.3,1482.3 1711.1,1481.4 1711.8,1482.4 1712.6,1483.3 1713.3,1479.3 1714.1,1478.9 1714.8,1471.7 1715.6,1466.6 1716.4,1484.2 1717.1,1488.3 1717.9,1474.4 1718.6,1475.1 1719.4,1477.4 1720.1,1465.8 1720.9,1467.6 1721.7,1465.1 1722.4,1450.7 1723.2,1460.8 1723.9,1440.9 1724.7,1432.6 1725.4,1406.1 1726.2,1382.7 1726.9,1369.0 1727.7,1339.1 1728.5,1301.4 1729.2,1259.5 1730.0,1210.1 1730.7,1148.4 1731.5,1088.7 1732.2,1088.0 1733.0,1088.0 1733.7,1088.0 1734.5,1088.0 1735.3,1088.0 1736.0,1088.0 1736.8,1088.0 1737.5,1088.0 1738.3,1088.0 1739.0,1088.0 1739.8,1088.0 1740.6,1088.0 1741.3,1088.0 1742.1,1088.0 1742.8,1088.0 1743.6,1088.0 1744.3,1088.0 1745.1,1088.0 1745.8,1088.0 1746.6,1088.0 1747.4,1088.0 1748.1,1088.0 1748.9,1088.0 1749.6,1088.0 1750.4,1088.0 1751.1,1147.7 1751.9,1205.9 1752.6,1240.6 1753.4,1281.9 1754.2,1332.2 1754.9,1367.1 1755.7,1392.5 1756.4,1415.9 1757.2,1423.6 1757.9,1458.4 1758.7,1446.6 1759.5,1468.2 1760.2,1476.9 1761.0,1464.2 1761.7,1474.2 1762.5,1479.7 1763.2,1477.9 1764.0,1473.5 1764.7,1483.9 1765.5,1481.8 1766.3,1480.7 1767.0,1486.7 1767.8,1488.0 1768.5,1484.5 1769.3,1483.3 1770.0,1488.3 1770.8,1478.5 1771.5,1483.0 1772.3,1492.8 1773.1,1493.0 1773.8,1495.2 1774.6,1486.6 1775.3,1494.4 1776.1,1488.0 1776.8,1493.9 1777.6,1497.4 1778.4,1485.4 1779.1,1493.9 1779.9,1490.7 1780.6,1494.6 1781.4,1504.0 1782.1,1490.7 1782.9,1494.6 1783.6,1497.8 1784.4,1485.0 1785.2,1487.2 1785.9,1491.1 1786.7,1487.9 1787.4,1489.9 1788.2,1490.3 1788.9,1486.5 1789.7,1480.3 1790.4,1480.3 1791.2,1485.9 1792.0,1493.9 1792.7,1498.2 1793.5,1490.2 1794.2,1486.3 1795.0,1486.4 1795.7,1492.6 1796.5,1488.1 1797.3,1491.3 1798.0,1493.4 1798.8,1501.6 1799.5,1499.8 1800.3,1482.4 1801.0,1492.0 1801.8,1484.0 1802.5,1497.8 1803.3,1496.6 1804.1,1481.5 1804.8,1496.0 1805.6,1493.4 1806.3,1496.1 1807.1,1504.4 1807.8,1497.7 1808.6,1495.6 1809.3,1488.2 1810.1,1491.2 1810.9,1494.8 1811.6,1501.0 1812.4,1488.9 1813.1,1484.2 1813.9,1503.4 1814.6,1503.5 1815.4,1489.9 1816.2,1508.2 1816.9,1498.9 1817.7,1500.8 1818.4,1491.1 1819.2,1504.1 1819.9,1493.3 1820.7,1489.0 1821.4,1495.2 1822.2,1504.1 1823.0,1503.7 1823.7,1502.7 1824.5,1493.6 1825.2,1500.5 1826.0,1493.1 1826.7,1500.3 1827.5,1492.7 1828.2,1490.2 1829.0,1492.0 1829.8,1493.4 1830.5,1490.4 1831.3,1494.7 1832.0,1491.7 1832.8,1487.4 1833.5,1496.5 1834.3,1490.5 1835.1,1488.7 1835.8,1484.3 1836.6,1496.0 1837.3,1488.8 1838.1,1478.4 1838.8,1487.3 1839.6,1487.5 1840.3,1476.6 1841.1,1477.1 1841.9,1475.8 1842.6,1482.7 1843.4,1476.1 1844.1,1479.9 1844.9,1476.8 1845.6,1468.8 1846.4,1466.5 1847.1,1469.8 1847.9,1460.9 1848.7,1469.9 1849.4,1466.7 1850.2,1473.1 1850.9,1466.7 1851.7,1462.0 1852.4,1475.1 1853.2,1470.3 1854.0,1470.0 1854.7,1474.9 1855.5,1466.3 1856.2,1458.0 1857.0,1471.3 1857.7,1457.7 1858.5,1457.6 1859.2,1452.8 1860.0,1458.6 1860.8,1459.3 1861.5,1461.7 1862.3,1451.3 1863.0,1451.1 1863.8,1444.1 1864.5,1443.1 1865.3,1450.6 1866.0,1441.2 1866.8,1448.8 1867.6,1451.0 1868.3,1447.7 1869.1,1456.9 1869.8,1451.5 1870.6,1452.6 1871.3,1454.2 1872.1,1449.4 1872.9,1462.4 1873.6,1459.8 1874.4,1462.1 1875.1,1465.8 1875.9,1469.3 1876.6,1474.9 1877.4,1465.9 1878.1,1479.6 1878.9,1469.3 1879.7,1480.0 1880.4,1482.3 1881.2,1482.5 1881.9,1493.1 1882.7,1477.9 1883.4,1490.6 1884.2,1481.4 1884.9,1475.4 1885.7,1477.7 1886.5,1489.8 1887.2,1488.3 1888.0,1501.8 1888.7,1499.4 1889.5,1486.0 1890.2,1496.6 1891.0,1491.0 1891.8,1496.8 1892.5,1508.2 1893.3,1496.6 1894.0,1492.7 1894.8,1495.0 1895.5,1497.9 1896.3,1494.7 1897.0,1501.9 1897.8,1500.3 1898.6,1512.1 1899.3,1489.6 1900.1,1496.0 1900.8,1497.4 1901.6,1501.4 1902.3,1500.2 1903.1,1499.4 1903.8,1503.5 1904.6,1509.2 1905.4,1500.4 1906.1,1501.0 1906.9,1488.7 1907.6,1490.0 1908.4,1489.9 1909.1,1500.3 1909.9,1490.2 1910.7,1502.2 1911.4,1501.6 1912.2,1507.9 1912.9,1493.0 1913.7,1502.5 1914.4,1504.0 1915.2,1487.6 1915.9,1498.6 1916.7,1503.7 1917.5,1496.3 1918.2,1506.1 1919.0,1502.9 1919.7,1518.2 1920.5,1494.9 1921.2,1503.9 1922.0,1503.7 1922.7,1494.3 1923.5,1502.7 1924.3,1513.2 1925.0,1496.3 1925.8,1513.5 1926.5,1500.2 1927.3,1496.9 1928.0,1497.9 1928.8,1498.8 1929.6,1502.2 1930.3,1499.4 1931.1,1505.8 1931.8,1504.2 1932.6,1507.1 1933.3,1506.1 1934.1,1509.0 1934.8,1502.6 1935.6,1494.3 1936.4,1501.7 1937.1,1509.1 1937.9,1517.7 1938.6,1494.0 1939.4,1509.9 1940.1,1516.5 1940.9,1513.0 1941.6,1504.0 1942.4,1509.8 1943.2,1503.5 1943.9,1505.5 1944.7,1512.9 1945.4,1512.1 1946.2,1509.2 1946.9,1506.0 1947.7,1506.3 1948.5,1502.2 1949.2,1500.4 1950.0,1503.9 1950.7,1512.4 1951.5,1514.4 1952.2,1508.0 1953.0,1504.1 1953.7,1509.6 1954.5,1505.3 1955.3,1506.2 1956.0,1495.1 1956.8,1506.9 1957.5,1508.7 1958.3,1494.1 1959.0,1494.9 1959.8,1510.5 1960.5,1506.3 1961.3,1500.2 1962.1,1504.2 1962.8,1495.0 1963.6,1502.4 1964.3,1493.4 1965.1,1511.7 1965.8,1495.2 1966.6,1496.9 1967.4,1497.6 1968.1,1495.4 1968.9,1505.5 1969.6,1497.0 1970.4,1521.4 1971.1,1502.5 1971.9,1502.7 1972.6,1514.5 1973.4,1519.5 1974.2,1509.2 1974.9,1497.6 1975.7,1504.2 1976.4,1512.3 1977.2,1503.7 1977.9,1504.6 1978.7,1511.4 1979.4,1508.7 1980.2,1518.2 1981.0,1509.5 1981.7,1503.1 1982.5,1510.4 1983.2,1501.9 1984.0,1502.8 1984.7,1509.0 1985.5,1511.7 1986.3,1501.9 1987.0,1506.9 1987.8,1499.5 1988.5,1502.6 1989.3,1505.4 1990.0,1498.3 1990.8,1509.2 1991.5,1497.3 1992.3,1494.2 1993.1,1505.0 1993.8,1505.5 1994.6,1506.1 1995.3,1496.2 1996.1,1513.5 1996.8,1502.4 1997.6,1508.9 1998.3,1494.1 1999.1,1505.8 1999.9,1503.9 2000.6,1508.6 2001.4,1505.2 2002.1,1496.5 2002.9,1498.4 2003.6,1504.7 2004.4,1505.4 2005.2,1518.5 2005.9,1498.2 2006.7,1498.9 2007.4,1492.0 2008.2,1493.2 2008.9,1498.7 2009.7,1496.3 2010.4,1507.5 2011.2,1504.6 2012.0,1498.8 2012.7,1493.5 2013.5,1501.5 2014.2,1496.5 2015.0,1505.5 2015.7,1502.5 2016.5,1492.8 2017.2,1501.2 2018.0,1510.6 2018.8,1487.8 2019.5,1497.2 2020.3,1498.3 2021.0,1501.3 2021.8,1494.4 2022.5,1492.8 2023.3,1499.3 2024.1,1498.4 2024.8,1502.1 2025.6,1495.5 2026.3,1505.3 2027.1,1494.6 2027.8,1495.5 2028.6,1497.3 2029.3,1497.0 2030.1,1495.5 2030.9,1491.7 2031.6,1511.7 2032.4,1497.3 2033.1,1503.0 2033.9,1507.2 2034.6,1512.2 2035.4,1511.4 2036.1,1504.3 2036.9,1503.2 2037.7,1507.5 2038.4,1514.4 2039.2,1496.8 2039.9,1501.8 2040.7,1501.8 2041.4,1502.0 2042.2,1493.6 2043.0,1499.4 2043.7,1509.9 2044.5,1512.2 2045.2,1518.7 2046.0,1504.3 2046.7,1493.4 2047.5,1508.0 2048.2,1502.3 2049.0,1505.7 2049.8,1492.2 2050.5,1504.7 2051.3,1503.4 2052.0,1492.6 2052.8,1501.6 2053.5,1511.1 2054.3,1498.4 2055.0,1499.4 2055.8,1498.0 2056.6,1499.6 2057.3,1504.7 2058.1,1501.1 2058.8,1500.3 2059.6,1488.7 2060.3,1505.1 2061.1,1501.8 2061.9,1495.0 2062.6,1495.1 2063.4,1498.5 2064.1,1503.7 2064.9,1488.8 2065.6,1499.3 2066.4,1497.9 2067.1,1507.8 2067.9,1499.2 2068.7,1499.4 2069.4,1492.6 2070.2,1487.2 2070.9,1497.6 2071.7,1501.7 2072.4,1509.4 2073.2,1507.4 2073.9,1504.6 2074.7,1499.4 2075.5,1502.6 2076.2,1505.7 2077.0,1502.5 2077.7,1510.0 2078.5,1508.1 2079.2,1499.3 2080.0,1502.6 2080.8,1515.5 2081.5,1502.6 2082.3,1501.8 2083.0,1500.1 2083.8,1505.6 2084.5,1509.8 2085.3,1499.6 2086.0,1508.8 2086.8,1495.1 2087.6,1502.7 2088.3,1505.0 2089.1,1502.5 2089.8,1514.1 2090.6,1501.7 2091.3,1505.4 2092.1,1494.1 2092.8,1508.2 2093.6,1502.8 2094.4,1501.8 2095.1,1499.9 2095.9,1503.7 2096.6,1497.6 2097.4,1498.3 2098.1,1504.2 2098.9,1494.7 2099.7,1496.9 2100.4,1495.0 2101.2,1511.8 2101.9,1502.5 2102.7,1500.1 2103.4,1509.2 2104.2,1493.3 2104.9,1494.1 2105.7,1501.9 2106.5,1503.2 2107.2,1499.1 2108.0,1500.1 2108.7,1505.1 2109.5,1501.2 2110.2,1498.1 2111.0,1495.9 2111.7,1498.8 2112.5,1502.6 2113.3,1491.8 2114.0,1486.4 2114.8,1495.7 2115.5,1497.6 2116.3,1494.7 2117.0,1503.0 2117.8,1497.3 2118.6,1499.6 2119.3,1494.5 2120.1,1499.2 2120.8,1496.0 2121.6,1500.9 2122.3,1493.5 2123.1,1502.0 2123.8,1500.7 2124.6,1493.9 2125.4,1504.9 2126.1,1497.5 2126.9,1494.2 2127.6,1499.4 2128.4,1496.0 2129.1,1501.7 2129.9,1491.9 2130.6,1504.3 2131.4,1502.3 2132.2,1498.6 2132.9,1504.2 2133.7,1506.5 2134.4,1508.6 2135.2,1498.8 2135.9,1491.2 2136.7,1499.3 2137.5,1500.3 2138.2,1496.0 2139.0,1498.6 2139.7,1500.7 2140.5,1491.8 2141.2,1511.6 2142.0,1515.6 2142.7,1498.5 2143.5,1506.6 2144.3,1501.2 2145.0,1494.4 2145.8,1499.6 2146.5,1492.1 2147.3,1516.0 2148.0,1494.6 2148.8,1493.3 2149.5,1498.3 2150.3,1498.5 2151.1,1502.8 2151.8,1506.6 2152.6,1500.9 2153.3,1498.7 2154.1,1492.8 2154.8,1504.8 2155.6,1490.2 2156.4,1492.1 2157.1,1496.5 2157.9,1508.3 2158.6,1494.9 2159.4,1503.8 2160.1,1499.5 2160.9,1502.6 2161.6,1514.8 2162.4,1492.6 2163.2,1493.1 2163.9,1505.3 2164.7,1499.3 2165.4,1504.1 2166.2,1507.9 2166.9,1490.8 2167.7,1498.7 2168.4,1496.2 2169.2,1493.0 2170.0,1486.3 2170.7,1503.3 2171.5,1501.3 2172.2,1499.2 2173.0,1503.5 2173.7,1499.3 2174.5,1502.2 2175.3,1505.6 2176.0,1500.3 2176.8,1502.7 2177.5,1496.6 2178.3,1499.1 2179.0,1492.2 2179.8,1490.5 2180.5,1498.5 2181.3,1507.1 2182.1,1487.6 2182.8,1491.9 2183.6,1487.4 2184.3,1494.0 2185.1,1507.5 2185.8,1505.0 2186.6,1504.6 2187.3,1499.0 2188.1,1502.2 2188.9,1502.1 2189.6,1499.2 2190.4,1507.4 2191.1,1490.8 2191.9,1496.9 2192.6,1498.8 2193.4,1487.5 2194.2,1495.5 2194.9,1491.1 2195.7,1502.9 2196.4,1492.3 2197.2,1488.5 2197.9,1494.2 2198.7,1500.5 2199.4,1496.1 2200.2,1505.7 2201.0,1493.2 2201.7,1484.9 2202.5,1498.8 2203.2,1496.0 2204.0,1500.7 2204.7,1505.6 2205.5,1500.8 2206.2,1498.8 2207.0,1496.0 2207.8,1494.5 2208.5,1498.3 2209.3,1504.9 2210.0,1510.9 2210.8,1502.9 2211.5,1507.3 2212.3,1504.1 2213.1,1502.8 2213.8,1486.3 2214.6,1497.4 2215.3,1497.6 2216.1,1496.5 2216.8,1495.7 2217.6,1494.0 2218.3,1501.4 2219.1,1502.7 2219.9,1499.5 2220.6,1505.2 2221.4,1514.3 2222.1,1502.9 2222.9,1500.3 2223.6,1495.0 2224.4,1495.2 2225.1,1507.1 2225.9,1501.9 2226.7,1490.5 2227.4,1501.6 2228.2,1490.8 2228.9,1492.8 2229.7,1506.4 2230.4,1503.6 2231.2,1503.7 2232.0,1488.0 2232.7,1504.4 2233.5,1508.3 2234.2,1496.2 2235.0,1505.0 2235.7,1495.3 2236.5,1498.8 2237.2,1500.2 2238.0,1492.7 2238.8,1493.4 2239.5,1505.1 2240.3,1491.9 2241.0,1499.2 2241.8,1499.4 2242.5,1501.8 2243.3,1498.4 2244.0,1488.1 2244.8,1498.6 2245.6,1487.4 2246.3,1500.7 2247.1,1484.5 2247.8,1493.3 2248.6,1490.5 2249.3,1487.5 2250.1,1489.7 2250.9,1486.8 2251.6,1488.7 2252.4,1487.2 2253.1,1497.9 2253.9,1488.0 2254.6,1490.3 2255.4,1508.4 2256.1,1504.0 2256.9,1494.0 2257.7,1493.3 2258.4,1504.0 2259.2,1490.7 2259.9,1492.0 2260.7,1500.0 2261.4,1482.3 2262.2,1499.4 2262.9,1485.4 2263.7,1485.5 2264.5,1491.7 2265.2,1495.9 2266.0,1497.1 2266.7,1476.4 2267.5,1491.1 2268.2,1495.6 2269.0,1494.9 2269.8,1495.1 2270.5,1492.6 2271.3,1502.1 2272.0,1493.1 2272.8,1491.7 2273.5,1503.9 2274.3,1495.6 2275.0,1501.7 2275.8,1496.2 2276.6,1496.4 2277.3,1498.2 2278.1,1475.5 2278.8,1496.2 2279.6,1490.5 2280.3,1500.8 2281.1,1478.4 2281.8,1489.3 2282.6,1486.3 2283.4,1503.3 2284.1,1503.4 2284.9,1477.2 2285.6,1494.1 2286.4,1500.0 2287.1,1499.2 2287.9,1487.8 2288.7,1500.1 2289.4,1485.9 2290.2,1503.3 2290.9,1503.1 2291.7,1485.8 2292.4,1487.3 2293.2,1504.9 2293.9,1500.8 2294.7,1493.3 2295.5,1498.4 2296.2,1480.6 2297.0,1494.7 2297.7,1486.4 2298.5,1491.9 2299.2,1496.5 2300.0,1488.3 2300.7,1495.6 2301.5,1484.7 2302.3,1490.8 2303.0,1495.3 2303.8,1491.9 2304.5,1487.9 2305.3,1492.3 2306.0,1486.4 2306.8,1493.4 2307.6,1488.8 2308.3,1499.2 2309.1,1492.9 2309.8,1495.3 2310.6,1486.0 2311.3,1497.8 2312.1,1494.5 2312.8,1499.9 2313.6,1489.0 2314.4,1482.7 2315.1,1492.1 2315.9,1486.9 2316.6,1493.1 2317.4,1500.0 2318.1,1494.4 2318.9,1499.2 2319.6,1496.8 2320.4,1496.2 2321.2,1503.0 2321.9,1496.6 2322.7,1509.2 2323.4,1498.0 2324.2,1498.8 2324.9,1485.6 2325.7,1489.1 2326.5,1500.4 2327.2,1498.1 2328.0,1500.3 2328.7,1506.5 2329.5,1486.4 2330.2,1502.4 2331.0,1486.5 2331.7,1493.7 2332.5,1497.2 2333.3,1505.3 2334.0,1492.0 2334.8,1505.8 2335.5,1498.1 2336.3,1502.3 2337.0,1503.5 2337.8,1496.4 2338.5,1478.5 2339.3,1501.7 2340.1,1493.1 2340.8,1501.1 2341.6,1489.3 2342.3,1487.9 2343.1,1492.8 2343.8,1495.2 2344.6,1493.1 2345.4,1490.3 2346.1,1491.9 2346.9,1482.5 2347.6,1478.7 2348.4,1477.8 2349.1,1475.0 2349.9,1490.8 2350.6,1488.2 2351.4,1491.5 2352.2,1488.8 2352.9,1500.0 2353.7,1480.8 2354.4,1482.2 2355.2,1475.9 2355.9,1501.1 2356.7,1494.4 2357.4,1481.4 2358.2,1476.9 2359.0,1474.2 2359.7,1484.6 2360.5,1500.7 2361.2,1497.6 2362.0,1488.8 2362.7,1483.4 2363.5,1499.1 2364.3,1491.3 2365.0,1499.5 2365.8,1494.2 2366.5,1494.2 2367.3,1494.9 2368.0,1488.0 2368.8,1497.9 2369.5,1492.8 2370.3,1484.7 2371.1,1504.1 2371.8,1496.6 2372.6,1486.8 2373.3,1500.8 2374.1,1490.1 2374.8,1492.9 2375.6,1494.5 2376.3,1494.8 2377.1,1491.0 2377.9,1481.3 2378.6,1488.2 2379.4,1490.2 2380.1,1495.2 2380.9,1483.8 2381.6,1486.7 2382.4,1499.3 2383.2,1481.8 2383.9,1489.7 2384.7,1482.6 2385.4,1482.2 2386.2,1484.1 2386.9,1495.1 2387.7,1493.5 2388.4,1490.4 2389.2,1494.0 2390.0,1496.7 2390.7,1490.1 2391.5,1494.3 2392.2,1493.5 2393.0,1498.3 2393.7,1493.6 2394.5,1490.8 2395.2,1486.2 2396.0,1508.1 2396.8,1486.4 2397.5,1487.4 2398.3,1487.3 2399.0,1480.2 2399.8,1490.9 2400.5,1488.4 2401.3,1482.7 2402.1,1492.2 2402.8,1495.3 2403.6,1485.0 2404.3,1490.1 2405.1,1478.6 2405.8,1482.7 2406.6,1495.7 2407.3,1484.4 2408.1,1489.0 2408.9,1488.0 2409.6,1486.6 2410.4,1488.2 2411.1,1487.5 2411.9,1488.6 2412.6,1487.2 2413.4,1486.9 2414.1,1479.0 2414.9,1477.8 2415.7,1491.6 2416.4,1496.9 2417.2,1476.1 2417.9,1484.0 2418.7,1483.6 2419.4,1479.7 2420.2,1487.8 2421.0,1489.0 2421.7,1496.1 2422.5,1480.2 2423.2,1491.1 2424.0,1486.5 2424.7,1488.8 2425.5,1491.1 2426.2,1490.6 2427.0,1498.9"/>
<rect x="159" y="42" width="4.3" height="1660" fill="#000" fill-opacity="0.62"/>
<rect x="2421.2" y="42" width="5.8" height="1660" fill="#000" fill-opacity="0.62"/>
<path fill="#000" fill-rule="evenodd" d="M1437.6,237.9L1486.9,237.9L1462.2,290.9ZM1446.3,240.5L1481.9,240.5L1464.1,278.8Z"/>
<path fill="#000" fill-rule="evenodd" d="M1719.0,228.3L1767.9,228.3L1743.5,279.2ZM1727.7,230.9L1762.9,230.9L1745.3,267.4Z"/>
<g font-size="96" text-anchor="middle" fill="#000">
<text x="159.0" y="1834">10</text>
<text x="537.0" y="1834">20</text>
<text x="915.0" y="1834">30</text>
<text x="1293.0" y="1834">40</text>
<text x="1671.0" y="1834">50</text>
<text x="2049.0" y="1834">60</text>
<text x="2427.0" y="1834">70</text>
</g>
<text x="904.6" y="1947.6" font-size="111" fill="#000">2 Theta (degree)</text>
<text transform="translate(105 1186.2) rotate(-90)" font-size="111" fill="#000">Intensity (a.u.)</text>
<g font-size="67" fill="#000">
<text transform="translate(633.0 202.3) rotate(-90)">(101)</text>
<text transform="translate(999.2 192.4) rotate(-90)">(110)</text>
<text transform="translate(1242.5 270.9) rotate(-90)">(003)</text>
<text transform="translate(1640.7 270.5) rotate(-90)">(113)</text>
<text transform="translate(1709.7 268.0) rotate(-90)">(211)</text>
<text transform="translate(1893.0 267.1) rotate(-90)">(122)</text>
</g>
<text x="167.8" y="120.1" font-size="89.0" fill="#009800">Ni<tspan font-size="66.8" dy="25">3</tspan><tspan dy="-25">S</tspan><tspan font-size="66.8" dy="25">2</tspan><tspan dy="-25">/NF</tspan></text>
<text x="170.0" y="401.2" font-size="88.0" fill="#046CB4">Fe<tspan font-size="66.0" dy="25">0.6%</tspan><tspan dy="-25">-</tspan>Ni<tspan font-size="66.0" dy="25">3</tspan><tspan dy="-25">S</tspan><tspan font-size="66.0" dy="25">2</tspan><tspan dy="-25">/NF</tspan></text>
<text x="170.0" y="694.7" font-size="88.3" fill="#B57B00">Fe<tspan font-size="66.2" dy="25">0.8%</tspan><tspan dy="-25">-</tspan>Ni<tspan font-size="66.2" dy="25">3</tspan><tspan dy="-25">S</tspan><tspan font-size="66.2" dy="25">2</tspan><tspan dy="-25">/NF</tspan></text>
<text x="163.0" y="1015.7" font-size="88.8" fill="#C0005C">Fe<tspan font-size="66.6" dy="25">2.3%</tspan><tspan dy="-25">-</tspan>Ni<tspan font-size="66.6" dy="25">3</tspan><tspan dy="-25">S</tspan><tspan font-size="66.6" dy="25">2</tspan><tspan dy="-25">/NF</tspan></text>
<text x="166.0" y="1257.8" font-size="88.6" fill="#FF6600">Fe<tspan font-size="66.4" dy="25">3.7%</tspan><tspan dy="-25">-</tspan>Ni<tspan font-size="66.4" dy="25">3</tspan><tspan dy="-25">S</tspan><tspan font-size="66.4" dy="25">2</tspan><tspan dy="-25">/NF</tspan></text>
<text transform="translate(2020.20 116.40) scale(-1.1044 1)" x="-1.63" y="0" font-size="65.29" fill="#000" style="font-family:'DejaVu Serif',serif;font-weight:normal">&#8711;</text>
<text x="2025.1" y="116.4" font-size="72.4" fill="#000">Nickel Foam</text>
<text x="1656.5" y="1594.6" font-size="88.6" fill="#00008B">JCPDS No.:44-1418</text>
</svg></body></html>
